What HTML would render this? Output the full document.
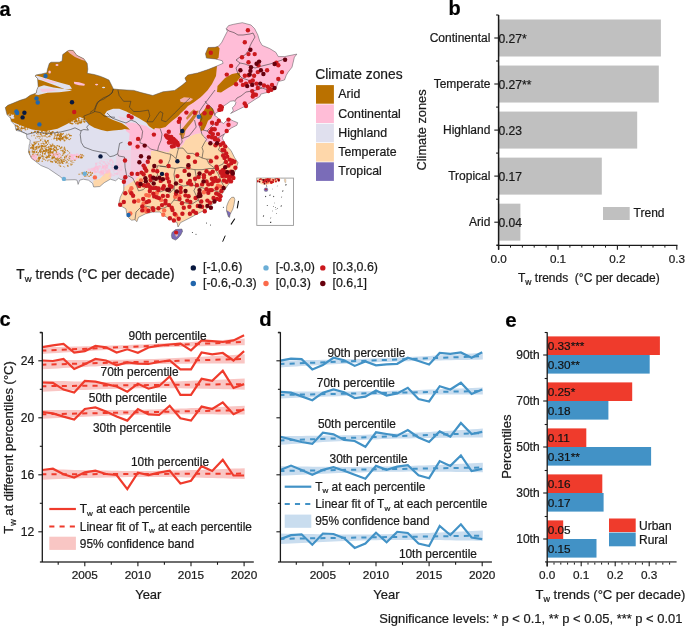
<!DOCTYPE html>
<html><head><meta charset="utf-8"><style>
html,body{margin:0;padding:0;background:#fff;}
svg{display:block;will-change:transform;}
text{font-family:"Liberation Sans", sans-serif;stroke:#1a1a1a;stroke-width:0.22px;}
</style></head><body>
<svg width="685" height="626" viewBox="0 0 685 626">
<text x="-0.5" y="15.5" font-size="20" text-anchor="start" font-weight="bold" fill="#000" >a</text>
<text x="448.5" y="14.6" font-size="20" text-anchor="start" font-weight="bold" fill="#000" >b</text>
<text x="-0.6" y="325.7" font-size="20" text-anchor="start" font-weight="bold" fill="#000" >c</text>
<text x="259.2" y="326" font-size="20.3" text-anchor="start" font-weight="bold" fill="#000" >d</text>
<text x="505.3" y="326.5" font-size="20.5" text-anchor="start" font-weight="bold" fill="#000" >e</text>
<rect x="498.6" y="19.50" width="162.3" height="37" fill="#C0C0C0"/>
<line x1="494.3" y1="38.0" x2="498.6" y2="38.0" stroke="#1a1a1a" stroke-width="1.1"/>
<text x="490.4" y="42.3" font-size="12" text-anchor="end" font-weight="normal" fill="#1a1a1a" >Continental</text>
<text x="498.40000000000003" y="42.6" font-size="12.1" text-anchor="start" font-weight="normal" fill="#1a1a1a" >0.27*</text>
<rect x="498.6" y="65.54" width="160.2" height="37" fill="#C0C0C0"/>
<line x1="494.3" y1="84.0" x2="498.6" y2="84.0" stroke="#1a1a1a" stroke-width="1.1"/>
<text x="490.4" y="88.33999999999999" font-size="12" text-anchor="end" font-weight="normal" fill="#1a1a1a" >Temperate</text>
<text x="498.40000000000003" y="88.63999999999999" font-size="12.1" text-anchor="start" font-weight="normal" fill="#1a1a1a" >0.27**</text>
<rect x="498.6" y="111.58" width="138.6" height="37" fill="#C0C0C0"/>
<line x1="494.3" y1="130.1" x2="498.6" y2="130.1" stroke="#1a1a1a" stroke-width="1.1"/>
<text x="490.4" y="134.38" font-size="12" text-anchor="end" font-weight="normal" fill="#1a1a1a" >Highland</text>
<text x="498.40000000000003" y="134.67999999999998" font-size="12.1" text-anchor="start" font-weight="normal" fill="#1a1a1a" >0.23</text>
<rect x="498.6" y="157.62" width="103.2" height="37" fill="#C0C0C0"/>
<line x1="494.3" y1="176.1" x2="498.6" y2="176.1" stroke="#1a1a1a" stroke-width="1.1"/>
<text x="490.4" y="180.42000000000002" font-size="12" text-anchor="end" font-weight="normal" fill="#1a1a1a" >Tropical</text>
<text x="498.40000000000003" y="180.72" font-size="12.1" text-anchor="start" font-weight="normal" fill="#1a1a1a" >0.17</text>
<rect x="498.6" y="203.66" width="21.8" height="37" fill="#C0C0C0"/>
<line x1="494.3" y1="222.2" x2="498.6" y2="222.2" stroke="#1a1a1a" stroke-width="1.1"/>
<text x="490.4" y="226.46" font-size="12" text-anchor="end" font-weight="normal" fill="#1a1a1a" >Arid</text>
<text x="498.40000000000003" y="226.76" font-size="12.1" text-anchor="start" font-weight="normal" fill="#1a1a1a" >0.04</text>
<line x1="496.1" y1="15.0" x2="498.6" y2="15.0" stroke="#1a1a1a" stroke-width="1.1"/>
<line x1="496.1" y1="61.0" x2="498.6" y2="61.0" stroke="#1a1a1a" stroke-width="1.1"/>
<line x1="496.1" y1="107.1" x2="498.6" y2="107.1" stroke="#1a1a1a" stroke-width="1.1"/>
<line x1="496.1" y1="153.1" x2="498.6" y2="153.1" stroke="#1a1a1a" stroke-width="1.1"/>
<line x1="496.1" y1="199.2" x2="498.6" y2="199.2" stroke="#1a1a1a" stroke-width="1.1"/>
<line x1="496.1" y1="245.2" x2="498.6" y2="245.2" stroke="#1a1a1a" stroke-width="1.1"/>
<line x1="498.6" y1="15" x2="498.6" y2="249.7" stroke="#1a1a1a" stroke-width="1.5"/>
<line x1="496.8" y1="245.4" x2="677.5" y2="245.4" stroke="#1a1a1a" stroke-width="1.3"/>
<line x1="498.6" y1="245.4" x2="498.6" y2="249.7" stroke="#1a1a1a" stroke-width="1.1"/>
<text x="498.6" y="263" font-size="11.7" text-anchor="middle" font-weight="normal" fill="#1a1a1a" >0.0</text>
<line x1="558.0" y1="245.4" x2="558.0" y2="249.7" stroke="#1a1a1a" stroke-width="1.1"/>
<text x="558.0" y="263" font-size="11.7" text-anchor="middle" font-weight="normal" fill="#1a1a1a" >0.1</text>
<line x1="617.4" y1="245.4" x2="617.4" y2="249.7" stroke="#1a1a1a" stroke-width="1.1"/>
<text x="617.4" y="263" font-size="11.7" text-anchor="middle" font-weight="normal" fill="#1a1a1a" >0.2</text>
<line x1="676.8" y1="245.4" x2="676.8" y2="249.7" stroke="#1a1a1a" stroke-width="1.1"/>
<text x="676.8" y="263" font-size="11.7" text-anchor="middle" font-weight="normal" fill="#1a1a1a" >0.3</text>
<line x1="510.5" y1="245.3" x2="510.5" y2="247.6" stroke="#1a1a1a" stroke-width="1"/>
<line x1="522.4" y1="245.3" x2="522.4" y2="247.6" stroke="#1a1a1a" stroke-width="1"/>
<line x1="534.2" y1="245.3" x2="534.2" y2="247.6" stroke="#1a1a1a" stroke-width="1"/>
<line x1="546.1" y1="245.3" x2="546.1" y2="247.6" stroke="#1a1a1a" stroke-width="1"/>
<line x1="569.9" y1="245.3" x2="569.9" y2="247.6" stroke="#1a1a1a" stroke-width="1"/>
<line x1="581.8" y1="245.3" x2="581.8" y2="247.6" stroke="#1a1a1a" stroke-width="1"/>
<line x1="593.6" y1="245.3" x2="593.6" y2="247.6" stroke="#1a1a1a" stroke-width="1"/>
<line x1="605.5" y1="245.3" x2="605.5" y2="247.6" stroke="#1a1a1a" stroke-width="1"/>
<line x1="629.3" y1="245.3" x2="629.3" y2="247.6" stroke="#1a1a1a" stroke-width="1"/>
<line x1="641.2" y1="245.3" x2="641.2" y2="247.6" stroke="#1a1a1a" stroke-width="1"/>
<line x1="653.0" y1="245.3" x2="653.0" y2="247.6" stroke="#1a1a1a" stroke-width="1"/>
<line x1="664.9" y1="245.3" x2="664.9" y2="247.6" stroke="#1a1a1a" stroke-width="1"/>
<rect x="603" y="207" width="26.7" height="13" fill="#C0C0C0"/>
<text x="633.6" y="217.2" font-size="12" text-anchor="start" font-weight="normal" fill="#1a1a1a" >Trend</text>
<text transform="translate(426,130) rotate(-90)" font-size="12.8" text-anchor="middle" fill="#1a1a1a">Climate zones</text>
<text x="518" y="282" font-size="12" fill="#1a1a1a">T<tspan font-size="8.5" dy="2.5">w</tspan><tspan dy="-2.5"> trends&#160; (°C per decade)</tspan></text>
<polygon points="42.3,347.3 47.6,347.2 53.0,347.1 58.3,346.9 63.6,346.8 68.9,346.7 74.3,346.6 79.6,346.4 84.9,346.3 90.2,346.2 95.6,346.0 100.9,345.9 106.2,345.7 111.5,345.5 116.9,345.4 122.2,345.2 127.5,345.0 132.8,344.8 138.2,344.6 143.5,344.4 148.8,344.1 154.1,343.9 159.5,343.6 164.8,343.3 170.1,343.1 175.4,342.8 180.8,342.5 186.1,342.2 191.4,341.9 196.7,341.6 202.1,341.3 207.4,340.9 212.7,340.6 218.1,340.3 223.4,340.0 228.7,339.6 234.0,339.3 239.4,338.9 244.7,338.6 244.7,345.2 239.4,345.3 234.0,345.4 228.7,345.6 223.4,345.7 218.1,345.8 212.7,345.9 207.4,346.1 202.1,346.2 196.7,346.3 191.4,346.5 186.1,346.6 180.8,346.8 175.4,347.0 170.1,347.1 164.8,347.3 159.5,347.5 154.1,347.7 148.8,347.9 143.5,348.1 138.2,348.4 132.8,348.6 127.5,348.9 122.2,349.2 116.9,349.4 111.5,349.7 106.2,350.0 100.9,350.3 95.6,350.6 90.2,350.9 84.9,351.2 79.6,351.6 74.3,351.9 68.9,352.2 63.6,352.5 58.3,352.9 53.0,353.2 47.6,353.6 42.3,353.9" fill="#F9C6C4"/>
<polygon points="42.3,360.1 47.6,360.1 53.0,360.1 58.3,360.1 63.6,360.1 68.9,360.1 74.3,360.1 79.6,360.1 84.9,360.0 90.2,360.0 95.6,360.0 100.9,359.9 106.2,359.9 111.5,359.8 116.9,359.8 122.2,359.7 127.5,359.6 132.8,359.5 138.2,359.3 143.5,359.2 148.8,359.0 154.1,358.9 159.5,358.7 164.8,358.5 170.1,358.2 175.4,358.0 180.8,357.8 186.1,357.5 191.4,357.2 196.7,357.0 202.1,356.7 207.4,356.4 212.7,356.1 218.1,355.8 223.4,355.5 228.7,355.2 234.0,354.9 239.4,354.6 244.7,354.3 244.7,363.5 239.4,363.5 234.0,363.5 228.7,363.5 223.4,363.5 218.1,363.5 212.7,363.5 207.4,363.5 202.1,363.6 196.7,363.6 191.4,363.6 186.1,363.7 180.8,363.7 175.4,363.8 170.1,363.8 164.8,363.9 159.5,364.0 154.1,364.1 148.8,364.3 143.5,364.4 138.2,364.6 132.8,364.7 127.5,364.9 122.2,365.1 116.9,365.4 111.5,365.6 106.2,365.8 100.9,366.1 95.6,366.4 90.2,366.6 84.9,366.9 79.6,367.2 74.3,367.5 68.9,367.8 63.6,368.1 58.3,368.4 53.0,368.7 47.6,369.0 42.3,369.3" fill="#F9C6C4"/>
<polygon points="42.3,380.6 47.6,380.7 53.0,380.9 58.3,381.0 63.6,381.1 68.9,381.3 74.3,381.4 79.6,381.5 84.9,381.6 90.2,381.7 95.6,381.8 100.9,381.9 106.2,382.0 111.5,382.0 116.9,382.1 122.2,382.1 127.5,382.1 132.8,382.1 138.2,382.1 143.5,382.0 148.8,382.0 154.1,381.9 159.5,381.8 164.8,381.7 170.1,381.5 175.4,381.4 180.8,381.2 186.1,381.0 191.4,380.8 196.7,380.6 202.1,380.4 207.4,380.2 212.7,380.0 218.1,379.7 223.4,379.5 228.7,379.2 234.0,379.0 239.4,378.8 244.7,378.5 244.7,389.7 239.4,389.6 234.0,389.4 228.7,389.3 223.4,389.2 218.1,389.0 212.7,388.9 207.4,388.8 202.1,388.7 196.7,388.6 191.4,388.5 186.1,388.4 180.8,388.3 175.4,388.3 170.1,388.2 164.8,388.2 159.5,388.2 154.1,388.2 148.8,388.2 143.5,388.2 138.2,388.3 132.8,388.4 127.5,388.5 122.2,388.6 116.9,388.8 111.5,388.9 106.2,389.1 100.9,389.3 95.6,389.5 90.2,389.7 84.9,389.9 79.6,390.1 74.3,390.3 68.9,390.6 63.6,390.8 58.3,391.1 53.0,391.3 47.6,391.5 42.3,391.8" fill="#F9C6C4"/>
<polygon points="42.3,409.9 47.6,409.9 53.0,409.9 58.3,410.0 63.6,410.0 68.9,410.0 74.3,410.1 79.6,410.1 84.9,410.1 90.2,410.1 95.6,410.1 100.9,410.1 106.2,410.1 111.5,410.1 116.9,410.1 122.2,410.0 127.5,410.0 132.8,409.9 138.2,409.8 143.5,409.7 148.8,409.6 154.1,409.4 159.5,409.3 164.8,409.1 170.1,409.0 175.4,408.8 180.8,408.6 186.1,408.4 191.4,408.1 196.7,407.9 202.1,407.7 207.4,407.4 212.7,407.2 218.1,406.9 223.4,406.7 228.7,406.4 234.0,406.2 239.4,405.9 244.7,405.7 244.7,414.5 239.4,414.5 234.0,414.5 228.7,414.4 223.4,414.4 218.1,414.4 212.7,414.3 207.4,414.3 202.1,414.3 196.7,414.3 191.4,414.3 186.1,414.3 180.8,414.3 175.4,414.3 170.1,414.3 164.8,414.4 159.5,414.4 154.1,414.5 148.8,414.6 143.5,414.7 138.2,414.8 132.8,415.0 127.5,415.1 122.2,415.3 116.9,415.4 111.5,415.6 106.2,415.8 100.9,416.0 95.6,416.3 90.2,416.5 84.9,416.7 79.6,417.0 74.3,417.2 68.9,417.5 63.6,417.7 58.3,418.0 53.0,418.2 47.6,418.5 42.3,418.7" fill="#F9C6C4"/>
<polygon points="42.3,468.9 47.6,469.1 53.0,469.2 58.3,469.4 63.6,469.6 68.9,469.7 74.3,469.9 79.6,470.0 84.9,470.2 90.2,470.3 95.6,470.4 100.9,470.5 106.2,470.6 111.5,470.7 116.9,470.8 122.2,470.9 127.5,470.9 132.8,470.9 138.2,471.0 143.5,471.0 148.8,470.9 154.1,470.9 159.5,470.8 164.8,470.7 170.1,470.6 175.4,470.5 180.8,470.4 186.1,470.2 191.4,470.1 196.7,469.9 202.1,469.8 207.4,469.6 212.7,469.4 218.1,469.2 223.4,469.0 228.7,468.8 234.0,468.6 239.4,468.4 244.7,468.2 244.7,479.0 239.4,478.8 234.0,478.7 228.7,478.5 223.4,478.3 218.1,478.2 212.7,478.0 207.4,477.9 202.1,477.7 196.7,477.6 191.4,477.5 186.1,477.4 180.8,477.3 175.4,477.2 170.1,477.1 164.8,477.0 159.5,477.0 154.1,477.0 148.8,476.9 143.5,477.0 138.2,477.0 132.8,477.0 127.5,477.1 122.2,477.2 116.9,477.3 111.5,477.4 106.2,477.5 100.9,477.7 95.6,477.8 90.2,478.0 84.9,478.1 79.6,478.3 74.3,478.5 68.9,478.7 63.6,478.9 58.3,479.1 53.0,479.3 47.6,479.5 42.3,479.7" fill="#F9C6C4"/>
<line x1="42.3" y1="350.6" x2="244.7" y2="341.9" stroke="#EF3B2C" stroke-width="2" stroke-dasharray="5.1,5.15" stroke-dashoffset="1.05"/>
<line x1="42.3" y1="364.7" x2="244.7" y2="358.9" stroke="#EF3B2C" stroke-width="2" stroke-dasharray="5.1,5.15" stroke-dashoffset="1.05"/>
<line x1="42.3" y1="386.2" x2="244.7" y2="384.1" stroke="#EF3B2C" stroke-width="2" stroke-dasharray="5.1,5.15" stroke-dashoffset="1.05"/>
<line x1="42.3" y1="414.3" x2="244.7" y2="410.1" stroke="#EF3B2C" stroke-width="2" stroke-dasharray="5.1,5.15" stroke-dashoffset="1.05"/>
<line x1="42.3" y1="474.3" x2="244.7" y2="473.6" stroke="#EF3B2C" stroke-width="2" stroke-dasharray="5.1,5.15" stroke-dashoffset="1.05"/>
<polyline points="42.3,347.2 52.9,345.3 63.5,344.0 74.2,352.5 84.8,351.2 95.4,346.0 106.0,347.2 116.6,352.5 127.3,349.3 137.9,352.8 148.5,347.5 159.1,345.6 169.7,344.5 180.4,343.6 191.0,350.4 201.6,340.4 212.2,341.2 222.8,342.0 233.5,340.4 244.1,335.3" fill="none" stroke="#EF3B2C" stroke-width="2.2" stroke-linejoin="miter"/>
<polyline points="42.3,360.5 52.9,361.0 63.5,358.9 74.2,369.0 84.8,364.2 95.4,358.9 106.0,360.5 116.6,365.3 127.3,362.4 137.9,363.7 148.5,364.0 159.1,362.0 169.7,360.5 180.4,369.3 191.0,369.3 201.6,352.5 212.2,354.4 222.8,353.0 233.5,360.5 244.1,351.2" fill="none" stroke="#EF3B2C" stroke-width="2.2" stroke-linejoin="miter"/>
<polyline points="42.3,382.5 52.9,382.8 63.5,389.6 74.2,392.5 84.8,380.9 95.4,381.6 106.0,384.1 116.6,386.5 127.3,391.7 137.9,383.7 148.5,388.7 159.1,386.0 169.7,376.4 180.4,394.9 191.0,394.9 201.6,378.8 212.2,380.9 222.8,370.8 233.5,388.0 244.1,384.1" fill="none" stroke="#EF3B2C" stroke-width="2.2" stroke-linejoin="miter"/>
<polyline points="42.3,412.0 52.9,413.4 63.5,416.6 74.2,419.5 84.8,409.0 95.4,407.4 106.0,411.4 116.6,416.6 127.3,420.6 137.9,409.0 148.5,414.4 159.1,415.0 169.7,405.7 180.4,418.2 191.0,420.6 201.6,406.6 212.2,409.0 222.8,402.4 233.5,414.2 244.1,409.3" fill="none" stroke="#EF3B2C" stroke-width="2.2" stroke-linejoin="miter"/>
<polyline points="42.3,470.0 52.9,468.7 63.5,474.3 74.2,477.5 84.8,472.3 95.4,470.7 106.0,474.0 116.6,475.0 127.3,489.2 137.9,472.7 148.5,475.1 159.1,472.6 169.7,470.7 180.4,483.5 191.0,480.7 201.6,466.2 212.2,471.0 222.8,459.8 233.5,475.5 244.1,475.5" fill="none" stroke="#EF3B2C" stroke-width="2.2" stroke-linejoin="miter"/>
<line x1="39.9" y1="562" x2="253.8" y2="562" stroke="#6e6e6e" stroke-width="1.8"/>
<line x1="42.3" y1="332.2" x2="42.3" y2="562" stroke="#1a1a1a" stroke-width="1.3"/>
<line x1="38.3" y1="531.8" x2="42.3" y2="531.8" stroke="#1a1a1a" stroke-width="1.1"/>
<text x="34.4" y="535.8" font-size="12.2" text-anchor="end" font-weight="normal" fill="#1a1a1a" >12</text>
<line x1="39.8" y1="503.3" x2="42.3" y2="503.3" stroke="#1a1a1a" stroke-width="1.1"/>
<line x1="38.3" y1="474.8" x2="42.3" y2="474.8" stroke="#1a1a1a" stroke-width="1.1"/>
<text x="34.4" y="478.8" font-size="12.2" text-anchor="end" font-weight="normal" fill="#1a1a1a" >16</text>
<line x1="39.8" y1="446.3" x2="42.3" y2="446.3" stroke="#1a1a1a" stroke-width="1.1"/>
<line x1="38.3" y1="417.8" x2="42.3" y2="417.8" stroke="#1a1a1a" stroke-width="1.1"/>
<text x="34.4" y="421.8" font-size="12.2" text-anchor="end" font-weight="normal" fill="#1a1a1a" >20</text>
<line x1="39.8" y1="389.3" x2="42.3" y2="389.3" stroke="#1a1a1a" stroke-width="1.1"/>
<line x1="38.3" y1="360.8" x2="42.3" y2="360.8" stroke="#1a1a1a" stroke-width="1.1"/>
<text x="34.4" y="364.8" font-size="12.2" text-anchor="end" font-weight="normal" fill="#1a1a1a" >24</text>
<line x1="39.8" y1="332.3" x2="42.3" y2="332.3" stroke="#1a1a1a" stroke-width="1.1"/>
<line x1="39.8" y1="332.8" x2="42.3" y2="332.8" stroke="#1a1a1a" stroke-width="1.1"/>
<line x1="58.2" y1="562" x2="58.2" y2="564.8" stroke="#1a1a1a" stroke-width="1.1"/>
<line x1="84.8" y1="562" x2="84.8" y2="566.3" stroke="#1a1a1a" stroke-width="1.1"/>
<text x="84.78" y="579" font-size="11.8" text-anchor="middle" font-weight="normal" fill="#1a1a1a" >2005</text>
<line x1="111.3" y1="562" x2="111.3" y2="564.8" stroke="#1a1a1a" stroke-width="1.1"/>
<line x1="137.9" y1="562" x2="137.9" y2="566.3" stroke="#1a1a1a" stroke-width="1.1"/>
<text x="137.88" y="579" font-size="11.8" text-anchor="middle" font-weight="normal" fill="#1a1a1a" >2010</text>
<line x1="164.4" y1="562" x2="164.4" y2="564.8" stroke="#1a1a1a" stroke-width="1.1"/>
<line x1="191.0" y1="562" x2="191.0" y2="566.3" stroke="#1a1a1a" stroke-width="1.1"/>
<text x="190.97999999999996" y="579" font-size="11.8" text-anchor="middle" font-weight="normal" fill="#1a1a1a" >2015</text>
<line x1="217.5" y1="562" x2="217.5" y2="564.8" stroke="#1a1a1a" stroke-width="1.1"/>
<line x1="244.1" y1="562" x2="244.1" y2="566.3" stroke="#1a1a1a" stroke-width="1.1"/>
<text x="244.07999999999998" y="579" font-size="11.8" text-anchor="middle" font-weight="normal" fill="#1a1a1a" >2020</text>
<text x="148.3" y="599.2" font-size="13" text-anchor="middle" font-weight="normal" fill="#1a1a1a" >Year</text>
<polygon points="280.4,360.6 285.7,360.5 291.1,360.4 296.4,360.3 301.7,360.2 307.0,360.1 312.4,360.0 317.7,359.9 323.0,359.8 328.3,359.7 333.7,359.6 339.0,359.5 344.3,359.3 349.6,359.2 355.0,359.0 360.3,358.9 365.6,358.7 370.9,358.5 376.3,358.3 381.6,358.2 386.9,357.9 392.2,357.7 397.6,357.5 402.9,357.2 408.2,357.0 413.5,356.7 418.9,356.4 424.2,356.2 429.5,355.9 434.8,355.6 440.2,355.3 445.5,355.0 450.8,354.7 456.2,354.4 461.5,354.1 466.8,353.8 472.1,353.4 477.5,353.1 482.8,352.8 482.8,359.6 477.5,359.7 472.1,359.8 466.8,359.9 461.5,360.0 456.2,360.1 450.8,360.2 445.5,360.3 440.2,360.4 434.8,360.5 429.5,360.6 424.2,360.7 418.9,360.9 413.5,361.0 408.2,361.2 402.9,361.3 397.6,361.5 392.2,361.7 386.9,361.9 381.6,362.1 376.3,362.3 370.9,362.5 365.6,362.7 360.3,363.0 355.0,363.2 349.6,363.5 344.3,363.8 339.0,364.0 333.7,364.3 328.3,364.6 323.0,364.9 317.7,365.2 312.4,365.5 307.0,365.8 301.7,366.1 296.4,366.4 291.1,366.8 285.7,367.1 280.4,367.4" fill="#C9DDEF"/>
<polygon points="280.4,391.5 285.7,391.5 291.1,391.5 296.4,391.5 301.7,391.6 307.0,391.6 312.4,391.6 317.7,391.6 323.0,391.5 328.3,391.5 333.7,391.5 339.0,391.5 344.3,391.5 349.6,391.4 355.0,391.4 360.3,391.3 365.6,391.3 370.9,391.2 376.3,391.1 381.6,391.0 386.9,390.9 392.2,390.8 397.6,390.6 402.9,390.5 408.2,390.3 413.5,390.2 418.9,390.0 424.2,389.8 429.5,389.6 434.8,389.4 440.2,389.2 445.5,389.0 450.8,388.8 456.2,388.6 461.5,388.4 466.8,388.2 472.1,388.0 477.5,387.7 482.8,387.5 482.8,394.5 477.5,394.5 472.1,394.5 466.8,394.5 461.5,394.4 456.2,394.4 450.8,394.4 445.5,394.4 440.2,394.5 434.8,394.5 429.5,394.5 424.2,394.5 418.9,394.5 413.5,394.6 408.2,394.6 402.9,394.7 397.6,394.7 392.2,394.8 386.9,394.9 381.6,395.0 376.3,395.1 370.9,395.2 365.6,395.4 360.3,395.5 355.0,395.7 349.6,395.8 344.3,396.0 339.0,396.2 333.7,396.4 328.3,396.6 323.0,396.8 317.7,397.0 312.4,397.2 307.0,397.4 301.7,397.6 296.4,397.8 291.1,398.0 285.7,398.3 280.4,398.5" fill="#C9DDEF"/>
<polygon points="280.4,436.0 285.7,436.0 291.1,436.0 296.4,435.9 301.7,435.9 307.0,435.8 312.4,435.7 317.7,435.7 323.0,435.6 328.3,435.5 333.7,435.5 339.0,435.4 344.3,435.3 349.6,435.2 355.0,435.0 360.3,434.9 365.6,434.8 370.9,434.6 376.3,434.4 381.6,434.2 386.9,434.0 392.2,433.8 397.6,433.6 402.9,433.4 408.2,433.1 413.5,432.8 418.9,432.5 424.2,432.2 429.5,431.9 434.8,431.6 440.2,431.3 445.5,431.0 450.8,430.7 456.2,430.3 461.5,430.0 466.8,429.7 472.1,429.3 477.5,429.0 482.8,428.6 482.8,437.4 477.5,437.4 472.1,437.4 466.8,437.5 461.5,437.5 456.2,437.6 450.8,437.7 445.5,437.7 440.2,437.8 434.8,437.9 429.5,437.9 424.2,438.0 418.9,438.1 413.5,438.2 408.2,438.4 402.9,438.5 397.6,438.6 392.2,438.8 386.9,439.0 381.6,439.1 376.3,439.4 370.9,439.6 365.6,439.8 360.3,440.0 355.0,440.3 349.6,440.6 344.3,440.9 339.0,441.2 333.7,441.5 328.3,441.8 323.0,442.1 317.7,442.4 312.4,442.7 307.0,443.1 301.7,443.4 296.4,443.7 291.1,444.1 285.7,444.4 280.4,444.8" fill="#C9DDEF"/>
<polygon points="280.4,466.3 285.7,466.3 291.1,466.4 296.4,466.5 301.7,466.5 307.0,466.6 312.4,466.7 317.7,466.7 323.0,466.8 328.3,466.8 333.7,466.8 339.0,466.8 344.3,466.9 349.6,466.9 355.0,466.9 360.3,466.8 365.6,466.8 370.9,466.8 376.3,466.7 381.6,466.6 386.9,466.5 392.2,466.4 397.6,466.2 402.9,466.1 408.2,465.9 413.5,465.8 418.9,465.6 424.2,465.4 429.5,465.2 434.8,465.0 440.2,464.7 445.5,464.5 450.8,464.3 456.2,464.0 461.5,463.8 466.8,463.5 472.1,463.3 477.5,463.0 482.8,462.8 482.8,472.2 477.5,472.2 472.1,472.1 466.8,472.0 461.5,472.0 456.2,471.9 450.8,471.8 445.5,471.8 440.2,471.7 434.8,471.7 429.5,471.7 424.2,471.7 418.9,471.6 413.5,471.6 408.2,471.6 402.9,471.7 397.6,471.7 392.2,471.7 386.9,471.8 381.6,471.9 376.3,472.0 370.9,472.1 365.6,472.3 360.3,472.4 355.0,472.6 349.6,472.7 344.3,472.9 339.0,473.1 333.7,473.3 328.3,473.5 323.0,473.8 317.7,474.0 312.4,474.2 307.0,474.5 301.7,474.7 296.4,475.0 291.1,475.2 285.7,475.5 280.4,475.7" fill="#C9DDEF"/>
<polygon points="280.4,533.6 285.7,533.7 291.1,533.8 296.4,533.9 301.7,534.0 307.0,534.0 312.4,534.1 317.7,534.2 323.0,534.3 328.3,534.3 333.7,534.4 339.0,534.4 344.3,534.5 349.6,534.5 355.0,534.5 360.3,534.5 365.6,534.5 370.9,534.4 376.3,534.4 381.6,534.3 386.9,534.2 392.2,534.1 397.6,534.0 402.9,533.8 408.2,533.7 413.5,533.5 418.9,533.3 424.2,533.1 429.5,532.9 434.8,532.6 440.2,532.4 445.5,532.2 450.8,531.9 456.2,531.7 461.5,531.4 466.8,531.2 472.1,530.9 477.5,530.7 482.8,530.4 482.8,540.8 477.5,540.7 472.1,540.6 466.8,540.5 461.5,540.4 456.2,540.4 450.8,540.3 445.5,540.2 440.2,540.1 434.8,540.1 429.5,540.0 424.2,540.0 418.9,539.9 413.5,539.9 408.2,539.9 402.9,539.9 397.6,539.9 392.2,540.0 386.9,540.0 381.6,540.1 376.3,540.2 370.9,540.3 365.6,540.4 360.3,540.6 355.0,540.7 349.6,540.9 344.3,541.1 339.0,541.3 333.7,541.5 328.3,541.8 323.0,542.0 317.7,542.2 312.4,542.5 307.0,542.7 301.7,543.0 296.4,543.2 291.1,543.5 285.7,543.7 280.4,544.0" fill="#C9DDEF"/>
<line x1="280.4" y1="364" x2="482.8" y2="356.2" stroke="#4292C6" stroke-width="2" stroke-dasharray="5.1,5.15" stroke-dashoffset="1.05"/>
<line x1="280.4" y1="395" x2="482.8" y2="391" stroke="#4292C6" stroke-width="2" stroke-dasharray="5.1,5.15" stroke-dashoffset="1.05"/>
<line x1="280.4" y1="440.4" x2="482.8" y2="433" stroke="#4292C6" stroke-width="2" stroke-dasharray="5.1,5.15" stroke-dashoffset="1.05"/>
<line x1="280.4" y1="471" x2="482.8" y2="467.5" stroke="#4292C6" stroke-width="2" stroke-dasharray="5.1,5.15" stroke-dashoffset="1.05"/>
<line x1="280.4" y1="538.8" x2="482.8" y2="535.6" stroke="#4292C6" stroke-width="2" stroke-dasharray="5.1,5.15" stroke-dashoffset="1.05"/>
<polyline points="280.4,360.6 291.0,358.7 301.6,359.1 312.3,369.4 322.9,365.0 333.5,357.8 344.1,360.3 354.7,365.9 365.4,361.5 376.0,365.4 386.6,364.3 397.2,363.8 407.8,357.8 418.5,361.0 429.1,364.6 439.7,353.0 450.3,353.8 460.9,352.5 471.6,357.8 482.2,352.2" fill="none" stroke="#4292C6" stroke-width="2.2" stroke-linejoin="miter"/>
<polyline points="280.4,391.9 291.0,392.7 301.6,396.4 312.3,400.2 322.9,392.7 333.5,389.5 344.1,392.3 354.7,398.0 365.4,396.7 376.0,390.6 386.6,395.6 397.2,393.5 407.8,387.8 418.5,399.1 429.1,401.5 439.7,386.2 450.3,389.5 460.9,382.7 471.6,394.0 482.2,389.5" fill="none" stroke="#4292C6" stroke-width="2.2" stroke-linejoin="miter"/>
<polyline points="280.4,436.7 291.0,439.4 301.6,442.0 312.3,443.9 322.9,432.7 333.5,434.3 344.1,439.9 354.7,441.0 365.4,446.8 376.0,432.3 386.6,434.0 397.2,435.6 407.8,430.0 418.5,437.5 429.1,442.0 439.7,431.4 450.3,436.7 460.9,423.0 471.6,434.0 482.2,431.9" fill="none" stroke="#4292C6" stroke-width="2.2" stroke-linejoin="miter"/>
<polyline points="280.4,469.9 291.0,465.6 301.6,469.9 312.3,474.7 322.9,469.9 333.5,467.2 344.1,470.7 354.7,474.7 365.4,478.7 376.0,465.9 386.6,469.9 397.2,466.7 407.8,465.1 418.5,475.2 429.1,478.2 439.7,461.1 450.3,465.9 460.9,455.4 471.6,471.0 482.2,468.8" fill="none" stroke="#4292C6" stroke-width="2.2" stroke-linejoin="miter"/>
<polyline points="280.4,539.1 291.0,535.1 301.6,534.3 312.3,544.7 322.9,533.5 333.5,534.0 344.1,538.3 354.7,547.9 365.4,543.6 376.0,532.7 386.6,542.3 397.2,531.9 407.8,533.0 418.5,543.6 429.1,546.0 439.7,525.9 450.3,535.1 460.9,524.3 471.6,537.5 482.2,539.1" fill="none" stroke="#4292C6" stroke-width="2.2" stroke-linejoin="miter"/>
<line x1="278.0" y1="562" x2="491.9" y2="562" stroke="#6e6e6e" stroke-width="1.8"/>
<line x1="280.4" y1="332.2" x2="280.4" y2="562" stroke="#1a1a1a" stroke-width="1.3"/>
<line x1="276.4" y1="531.8" x2="280.4" y2="531.8" stroke="#1a1a1a" stroke-width="1.1"/>
<line x1="277.9" y1="503.3" x2="280.4" y2="503.3" stroke="#1a1a1a" stroke-width="1.1"/>
<line x1="276.4" y1="474.8" x2="280.4" y2="474.8" stroke="#1a1a1a" stroke-width="1.1"/>
<line x1="277.9" y1="446.3" x2="280.4" y2="446.3" stroke="#1a1a1a" stroke-width="1.1"/>
<line x1="276.4" y1="417.8" x2="280.4" y2="417.8" stroke="#1a1a1a" stroke-width="1.1"/>
<line x1="277.9" y1="389.3" x2="280.4" y2="389.3" stroke="#1a1a1a" stroke-width="1.1"/>
<line x1="276.4" y1="360.8" x2="280.4" y2="360.8" stroke="#1a1a1a" stroke-width="1.1"/>
<line x1="277.9" y1="332.3" x2="280.4" y2="332.3" stroke="#1a1a1a" stroke-width="1.1"/>
<line x1="277.9" y1="332.8" x2="280.4" y2="332.8" stroke="#1a1a1a" stroke-width="1.1"/>
<line x1="296.3" y1="562" x2="296.3" y2="564.8" stroke="#1a1a1a" stroke-width="1.1"/>
<line x1="322.9" y1="562" x2="322.9" y2="566.3" stroke="#1a1a1a" stroke-width="1.1"/>
<text x="322.88" y="579" font-size="11.8" text-anchor="middle" font-weight="normal" fill="#1a1a1a" >2005</text>
<line x1="349.4" y1="562" x2="349.4" y2="564.8" stroke="#1a1a1a" stroke-width="1.1"/>
<line x1="376.0" y1="562" x2="376.0" y2="566.3" stroke="#1a1a1a" stroke-width="1.1"/>
<text x="375.97999999999996" y="579" font-size="11.8" text-anchor="middle" font-weight="normal" fill="#1a1a1a" >2010</text>
<line x1="402.5" y1="562" x2="402.5" y2="564.8" stroke="#1a1a1a" stroke-width="1.1"/>
<line x1="429.1" y1="562" x2="429.1" y2="566.3" stroke="#1a1a1a" stroke-width="1.1"/>
<text x="429.0799999999999" y="579" font-size="11.8" text-anchor="middle" font-weight="normal" fill="#1a1a1a" >2015</text>
<line x1="455.6" y1="562" x2="455.6" y2="564.8" stroke="#1a1a1a" stroke-width="1.1"/>
<line x1="482.2" y1="562" x2="482.2" y2="566.3" stroke="#1a1a1a" stroke-width="1.1"/>
<text x="482.17999999999995" y="579" font-size="11.8" text-anchor="middle" font-weight="normal" fill="#1a1a1a" >2020</text>
<text x="386.4" y="599.2" font-size="13" text-anchor="middle" font-weight="normal" fill="#1a1a1a" >Year</text>
<text x="128.6" y="340.3" font-size="11.9" text-anchor="start" font-weight="normal" fill="#1a1a1a" >90th percentile</text>
<text x="100.6" y="375.9" font-size="11.9" text-anchor="start" font-weight="normal" fill="#1a1a1a" >70th percentile</text>
<text x="88.8" y="401.9" font-size="11.9" text-anchor="start" font-weight="normal" fill="#1a1a1a" >50th percentile</text>
<text x="93" y="432.2" font-size="11.9" text-anchor="start" font-weight="normal" fill="#1a1a1a" >30th percentile</text>
<text x="131" y="465.5" font-size="11.9" text-anchor="start" font-weight="normal" fill="#1a1a1a" >10th percentile</text>
<text x="327.4" y="356.8" font-size="11.9" text-anchor="start" font-weight="normal" fill="#1a1a1a" >90th percentile</text>
<text x="316.8" y="387.1" font-size="11.9" text-anchor="start" font-weight="normal" fill="#1a1a1a" >70th percentile</text>
<text x="317.9" y="428" font-size="11.9" text-anchor="start" font-weight="normal" fill="#1a1a1a" >50th percentile</text>
<text x="329.6" y="462.9" font-size="11.9" text-anchor="start" font-weight="normal" fill="#1a1a1a" >30th percentile</text>
<text x="398.9" y="558.1" font-size="11.9" text-anchor="start" font-weight="normal" fill="#1a1a1a" >10th percentile</text>
<line x1="49.3" y1="509" x2="75.9" y2="509" stroke="#EF3B2C" stroke-width="2.2"/>
<line x1="49.3" y1="526.5" x2="75.9" y2="526.5" stroke="#EF3B2C" stroke-width="2" stroke-dasharray="5.1,5.15"/>
<rect x="49.3" y="536.6999999999999" width="26.6" height="13.2" fill="#F9C6C4"/>
<text x="79.8" y="513.2" font-size="11.9" fill="#1a1a1a">T<tspan font-size="8" dy="2.5">w</tspan><tspan dy="-2.5"> at each percentile</tspan></text>
<text x="79.8" y="530.7" font-size="11.9" fill="#1a1a1a">Linear fit of T<tspan font-size="8" dy="2.5">w</tspan><tspan dy="-2.5"> at each percentile</tspan></text>
<text x="79.8" y="547.5" font-size="11.9" text-anchor="start" font-weight="normal" fill="#1a1a1a" >95% confidence band</text>
<line x1="284.7" y1="486.7" x2="311.3" y2="486.7" stroke="#4292C6" stroke-width="2.2"/>
<line x1="284.7" y1="503.9" x2="311.3" y2="503.9" stroke="#4292C6" stroke-width="2" stroke-dasharray="5.1,5.15"/>
<rect x="284.7" y="514.6" width="26.6" height="13.2" fill="#C9DDEF"/>
<text x="315.2" y="490.9" font-size="11.9" fill="#1a1a1a">T<tspan font-size="8" dy="2.5">w</tspan><tspan dy="-2.5"> at each percentile</tspan></text>
<text x="315.2" y="508.09999999999997" font-size="11.9" fill="#1a1a1a">Linear fit of T<tspan font-size="8" dy="2.5">w</tspan><tspan dy="-2.5"> at each percentile</tspan></text>
<text x="315.2" y="525.4000000000001" font-size="11.9" text-anchor="start" font-weight="normal" fill="#1a1a1a" >95% confidence band</text>
<text transform="translate(13,447.5) rotate(-90)" font-size="13" text-anchor="middle" fill="#1a1a1a">T<tspan font-size="9" dy="2.5">w</tspan><tspan dy="-2.5"> at different percentiles (°C)</tspan></text>
<rect x="547.2" y="336.4" width="112.7" height="18.6" fill="#EF3B2C"/>
<rect x="547.2" y="355.0" width="102.5" height="18.6" fill="#4292C6"/>
<text x="547.7" y="350" font-size="11.8" text-anchor="start" font-weight="normal" fill="#111" >0.33***</text>
<text x="547.7" y="368.8" font-size="11.8" text-anchor="start" font-weight="normal" fill="#111" >0.30**</text>
<line x1="543.2" y1="355" x2="547.2" y2="355" stroke="#1a1a1a" stroke-width="1.1"/>
<text x="539.6" y="358.7" font-size="12" text-anchor="end" font-weight="normal" fill="#1a1a1a" >90th</text>
<rect x="547.2" y="382.4" width="85.0" height="18.6" fill="#EF3B2C"/>
<rect x="547.2" y="401.0" width="61.2" height="18.6" fill="#4292C6"/>
<text x="547.7" y="396" font-size="11.8" text-anchor="start" font-weight="normal" fill="#111" >0.25*</text>
<text x="547.7" y="414.8" font-size="11.8" text-anchor="start" font-weight="normal" fill="#111" >0.18</text>
<line x1="543.2" y1="401" x2="547.2" y2="401" stroke="#1a1a1a" stroke-width="1.1"/>
<text x="539.6" y="404.7" font-size="12" text-anchor="end" font-weight="normal" fill="#1a1a1a" >70th</text>
<rect x="547.2" y="428.4" width="39.1" height="18.6" fill="#EF3B2C"/>
<rect x="547.2" y="447.0" width="103.9" height="18.6" fill="#4292C6"/>
<text x="547.7" y="442" font-size="11.8" text-anchor="start" font-weight="normal" fill="#111" >0.11</text>
<text x="547.7" y="460.8" font-size="11.8" text-anchor="start" font-weight="normal" fill="#111" >0.31**</text>
<line x1="543.2" y1="447" x2="547.2" y2="447" stroke="#1a1a1a" stroke-width="1.1"/>
<text x="539.6" y="450.7" font-size="12" text-anchor="end" font-weight="normal" fill="#1a1a1a" >50th</text>
<rect x="547.2" y="474.4" width="55.1" height="18.6" fill="#EF3B2C"/>
<rect x="547.2" y="493.0" width="56.4" height="18.6" fill="#4292C6"/>
<text x="547.7" y="488" font-size="11.8" text-anchor="start" font-weight="normal" fill="#111" >0.16</text>
<text x="547.7" y="506.8" font-size="11.8" text-anchor="start" font-weight="normal" fill="#111" >0.17</text>
<line x1="543.2" y1="493" x2="547.2" y2="493" stroke="#1a1a1a" stroke-width="1.1"/>
<text x="539.6" y="496.7" font-size="12" text-anchor="end" font-weight="normal" fill="#1a1a1a" >30th</text>
<rect x="547.2" y="520.4" width="16.0" height="18.6" fill="#EF3B2C"/>
<rect x="547.2" y="539.0" width="49.3" height="18.6" fill="#4292C6"/>
<text x="547.7" y="534" font-size="11.8" text-anchor="start" font-weight="normal" fill="#111" >0.05</text>
<text x="547.7" y="552.8" font-size="11.8" text-anchor="start" font-weight="normal" fill="#111" >0.15</text>
<line x1="543.2" y1="539" x2="547.2" y2="539" stroke="#1a1a1a" stroke-width="1.1"/>
<text x="539.6" y="542.7" font-size="12" text-anchor="end" font-weight="normal" fill="#1a1a1a" >10th</text>
<line x1="544.7" y1="332.5" x2="547.2" y2="332.5" stroke="#1a1a1a" stroke-width="1.1"/>
<line x1="544.7" y1="378.5" x2="547.2" y2="378.5" stroke="#1a1a1a" stroke-width="1.1"/>
<line x1="544.7" y1="424.5" x2="547.2" y2="424.5" stroke="#1a1a1a" stroke-width="1.1"/>
<line x1="544.7" y1="470.5" x2="547.2" y2="470.5" stroke="#1a1a1a" stroke-width="1.1"/>
<line x1="544.7" y1="516.5" x2="547.2" y2="516.5" stroke="#1a1a1a" stroke-width="1.1"/>
<line x1="545" y1="561.8" x2="676.6" y2="561.8" stroke="#6e6e6e" stroke-width="1.8"/>
<line x1="547.2" y1="332.2" x2="547.2" y2="566.4" stroke="#1a1a1a" stroke-width="1.3"/>
<line x1="547.2" y1="561.8" x2="547.2" y2="566.2" stroke="#1a1a1a" stroke-width="1.1"/>
<text x="547.2" y="579" font-size="11.8" text-anchor="middle" font-weight="normal" fill="#1a1a1a" >0.0</text>
<line x1="581.2" y1="561.8" x2="581.2" y2="566.2" stroke="#1a1a1a" stroke-width="1.1"/>
<text x="581.2" y="579" font-size="11.8" text-anchor="middle" font-weight="normal" fill="#1a1a1a" >0.1</text>
<line x1="615.2" y1="561.8" x2="615.2" y2="566.2" stroke="#1a1a1a" stroke-width="1.1"/>
<text x="615.2" y="579" font-size="11.8" text-anchor="middle" font-weight="normal" fill="#1a1a1a" >0.2</text>
<line x1="649.2" y1="561.8" x2="649.2" y2="566.2" stroke="#1a1a1a" stroke-width="1.1"/>
<text x="649.2" y="579" font-size="11.8" text-anchor="middle" font-weight="normal" fill="#1a1a1a" >0.3</text>
<line x1="554.0" y1="562.5" x2="554.0" y2="564.6" stroke="#1a1a1a" stroke-width="1"/>
<line x1="560.8" y1="562.5" x2="560.8" y2="564.6" stroke="#1a1a1a" stroke-width="1"/>
<line x1="567.6" y1="562.5" x2="567.6" y2="564.6" stroke="#1a1a1a" stroke-width="1"/>
<line x1="574.4" y1="562.5" x2="574.4" y2="564.6" stroke="#1a1a1a" stroke-width="1"/>
<line x1="588.0" y1="562.5" x2="588.0" y2="564.6" stroke="#1a1a1a" stroke-width="1"/>
<line x1="594.8" y1="562.5" x2="594.8" y2="564.6" stroke="#1a1a1a" stroke-width="1"/>
<line x1="601.6" y1="562.5" x2="601.6" y2="564.6" stroke="#1a1a1a" stroke-width="1"/>
<line x1="608.4" y1="562.5" x2="608.4" y2="564.6" stroke="#1a1a1a" stroke-width="1"/>
<line x1="622.0" y1="562.5" x2="622.0" y2="564.6" stroke="#1a1a1a" stroke-width="1"/>
<line x1="628.8" y1="562.5" x2="628.8" y2="564.6" stroke="#1a1a1a" stroke-width="1"/>
<line x1="635.6" y1="562.5" x2="635.6" y2="564.6" stroke="#1a1a1a" stroke-width="1"/>
<line x1="642.4" y1="562.5" x2="642.4" y2="564.6" stroke="#1a1a1a" stroke-width="1"/>
<line x1="656.0" y1="562.5" x2="656.0" y2="564.6" stroke="#1a1a1a" stroke-width="1"/>
<line x1="662.8" y1="562.5" x2="662.8" y2="564.6" stroke="#1a1a1a" stroke-width="1"/>
<line x1="669.6" y1="562.5" x2="669.6" y2="564.6" stroke="#1a1a1a" stroke-width="1"/>
<rect x="609" y="518.5" width="26.7" height="13.6" fill="#EF3B2C"/>
<rect x="609" y="532.6" width="26.7" height="13.7" fill="#4292C6"/>
<text x="639" y="529.8" font-size="12" text-anchor="start" font-weight="normal" fill="#1a1a1a" >Urban</text>
<text x="639" y="544" font-size="12" text-anchor="start" font-weight="normal" fill="#1a1a1a" >Rural</text>
<text transform="translate(510.6,446.7) rotate(-90)" font-size="13" text-anchor="middle" fill="#1a1a1a">Percentiles</text>
<text x="535.5" y="599.2" font-size="13" fill="#1a1a1a">T<tspan font-size="9" dy="2.5">w</tspan><tspan dy="-2.5"> trends (°C per decade)</tspan></text>
<text x="379.3" y="623" font-size="12.95" text-anchor="start" font-weight="normal" fill="#1a1a1a" >Significance levels: * p &lt; 0.1, ** p &lt; 0.05, *** p &lt; 0.01</text>
<defs><clipPath id="cn"><polygon points="69.7,50.3 73.2,50.5 76.7,55.2 83.7,58.7 87.2,63.4 87.8,69.2 87.2,73.3 94.2,74.5 100.0,76.2 104.6,78.0 109.0,80.1 113.4,88.9 119.2,89.6 133.8,90.4 141.1,92.6 152.8,95.5 163.0,91.8 174.7,90.4 182.0,85.3 186.4,81.6 184.9,78.0 187.8,75.0 197.6,73.0 208.1,69.5 216.9,66.0 223.1,63.3 222.2,60.7 215.1,58.9 206.4,58.1 205.5,53.7 208.1,47.5 215.0,47.3 218.7,46.1 221.8,42.3 224.9,36.1 227.4,31.2 226.2,28.7 228.6,25.6 233.6,24.3 242.3,22.7 251.0,25.0 254.7,28.7 257.8,34.9 259.7,41.1 262.2,45.4 269.6,48.5 275.8,52.3 278.3,56.6 284.5,56.6 296.9,54.1 294.4,57.2 292.0,67.2 288.2,72.1 286.3,75.2 284.5,80.0 278.4,81.5 275.8,88.8 267.9,92.3 260.8,94.1 260.0,96.4 254.3,99.9 249.0,103.4 243.8,106.9 238.5,109.5 235.0,111.3 230.6,113.5 233.3,110.8 232.4,107.8 235.0,105.1 235.9,102.5 234.2,100.8 230.6,101.2 226.3,104.3 223.6,106.0 221.9,108.6 219.3,111.3 215.8,113.0 214.9,115.6 217.5,117.4 221.0,121.8 223.6,123.5 226.0,121.0 229.5,119.0 233.3,120.9 237.7,122.7 236.8,125.3 231.5,127.9 227.1,131.4 224.5,134.0 222.2,138.1 225.7,145.1 231.0,150.4 234.5,157.5 238.0,162.7 236.2,168.0 233.6,175.0 231.8,180.3 227.5,185.6 223.0,192.6 217.8,199.6 211.6,204.9 204.6,210.2 197.6,213.7 191.1,217.3 180.6,222.6 178.0,227.0 177.1,222.6 173.6,220.8 166.6,217.3 159.6,212.0 152.6,212.0 145.5,213.8 138.5,217.3 136.8,221.7 135.0,219.7 131.6,220.2 129.0,218.1 126.9,214.0 125.9,208.8 122.2,206.7 118.6,204.6 120.2,197.4 123.8,190.1 123.8,181.8 123.8,178.7 121.2,179.7 118.6,178.2 115.5,180.8 110.3,179.2 104.1,182.8 99.9,186.5 93.7,187.0 92.6,183.4 88.5,180.2 83.3,179.2 79.7,180.2 78.1,184.4 77.1,180.2 75.0,179.7 64.2,180.0 59.9,176.4 48.2,168.4 40.9,165.5 31.4,158.2 28.5,152.3 29.2,145.0 29.8,143.5 30.2,140.0 27.1,138.3 26.3,133.9 20.1,131.3 16.2,130.4 14.9,125.1 11.4,121.6 10.5,118.1 7.0,114.6 6.1,111.1 5.3,107.6 7.8,105.3 13.4,103.1 20.1,100.3 25.7,98.6 30.2,95.3 36.3,93.0 36.9,89.7 38.2,86.7 37.6,78.6 35.3,76.2 35.8,75.0 41.7,73.9 46.9,72.7 47.5,69.2 49.3,63.4 51.0,62.2 59.2,62.2 62.1,61.0 62.7,54.6 67.4,51.1"/></clipPath></defs>
<polygon points="69.7,50.3 73.2,50.5 76.7,55.2 83.7,58.7 87.2,63.4 87.8,69.2 87.2,73.3 94.2,74.5 100.0,76.2 104.6,78.0 109.0,80.1 113.4,88.9 119.2,89.6 133.8,90.4 141.1,92.6 152.8,95.5 163.0,91.8 174.7,90.4 182.0,85.3 186.4,81.6 184.9,78.0 187.8,75.0 197.6,73.0 208.1,69.5 216.9,66.0 223.1,63.3 222.2,60.7 215.1,58.9 206.4,58.1 205.5,53.7 208.1,47.5 215.0,47.3 218.7,46.1 221.8,42.3 224.9,36.1 227.4,31.2 226.2,28.7 228.6,25.6 233.6,24.3 242.3,22.7 251.0,25.0 254.7,28.7 257.8,34.9 259.7,41.1 262.2,45.4 269.6,48.5 275.8,52.3 278.3,56.6 284.5,56.6 296.9,54.1 294.4,57.2 292.0,67.2 288.2,72.1 286.3,75.2 284.5,80.0 278.4,81.5 275.8,88.8 267.9,92.3 260.8,94.1 260.0,96.4 254.3,99.9 249.0,103.4 243.8,106.9 238.5,109.5 235.0,111.3 230.6,113.5 233.3,110.8 232.4,107.8 235.0,105.1 235.9,102.5 234.2,100.8 230.6,101.2 226.3,104.3 223.6,106.0 221.9,108.6 219.3,111.3 215.8,113.0 214.9,115.6 217.5,117.4 221.0,121.8 223.6,123.5 226.0,121.0 229.5,119.0 233.3,120.9 237.7,122.7 236.8,125.3 231.5,127.9 227.1,131.4 224.5,134.0 222.2,138.1 225.7,145.1 231.0,150.4 234.5,157.5 238.0,162.7 236.2,168.0 233.6,175.0 231.8,180.3 227.5,185.6 223.0,192.6 217.8,199.6 211.6,204.9 204.6,210.2 197.6,213.7 191.1,217.3 180.6,222.6 178.0,227.0 177.1,222.6 173.6,220.8 166.6,217.3 159.6,212.0 152.6,212.0 145.5,213.8 138.5,217.3 136.8,221.7 135.0,219.7 131.6,220.2 129.0,218.1 126.9,214.0 125.9,208.8 122.2,206.7 118.6,204.6 120.2,197.4 123.8,190.1 123.8,181.8 123.8,178.7 121.2,179.7 118.6,178.2 115.5,180.8 110.3,179.2 104.1,182.8 99.9,186.5 93.7,187.0 92.6,183.4 88.5,180.2 83.3,179.2 79.7,180.2 78.1,184.4 77.1,180.2 75.0,179.7 64.2,180.0 59.9,176.4 48.2,168.4 40.9,165.5 31.4,158.2 28.5,152.3 29.2,145.0 29.8,143.5 30.2,140.0 27.1,138.3 26.3,133.9 20.1,131.3 16.2,130.4 14.9,125.1 11.4,121.6 10.5,118.1 7.0,114.6 6.1,111.1 5.3,107.6 7.8,105.3 13.4,103.1 20.1,100.3 25.7,98.6 30.2,95.3 36.3,93.0 36.9,89.7 38.2,86.7 37.6,78.6 35.3,76.2 35.8,75.0 41.7,73.9 46.9,72.7 47.5,69.2 49.3,63.4 51.0,62.2 59.2,62.2 62.1,61.0 62.7,54.6 67.4,51.1" fill="#E0E0EE"/>
<g clip-path="url(#cn)">
<polygon points="300.0,300.0 100.0,300.0 100.0,187.0 110.0,182.0 116.0,181.0 118.0,183.0 123.8,187.0 127.0,185.0 135.0,179.7 141.4,173.3 147.0,165.4 150.1,158.2 151.0,151.0 158.5,150.3 168.8,152.3 170.0,148.4 180.2,147.4 183.3,144.3 185.3,140.2 190.4,136.1 195.5,134.1 200.7,133.1 203.7,135.1 205.8,141.2 212.9,143.3 221.1,142.3 224.2,140.2 300.0,140.0" fill="#FED7AA"/>
<polygon points="93.2,180.8 99.9,178.7 106.1,172.5 109.3,169.3 111.3,175.6 110.3,179.2 104.1,182.8 99.9,186.5 93.7,187.0" fill="#FED7AA"/>
<polygon points="175.0,40.0 300.0,0.0 300.0,140.2 224.2,140.2 221.1,142.3 212.9,143.3 205.8,141.2 203.7,135.1 200.7,133.1 195.5,134.1 190.4,136.1 185.3,140.2 183.3,144.3 180.2,147.4 170.0,148.4 168.8,152.3 158.5,150.3 151.0,151.0 150.1,158.2 147.0,165.4 141.4,173.3 135.0,179.7 130.0,176.0 131.0,165.0 131.0,150.0 131.0,140.0 131.0,134.4 126.0,131.0 125.0,122.0 140.0,118.0 160.0,110.0 178.0,97.0 186.0,80.0" fill="#FFBDD7"/>
<polygon points="118.0,150.0 131.0,150.0 131.0,165.0 130.0,176.0 135.0,179.7 127.0,185.0 123.8,187.0 121.0,180.0 117.0,170.0 116.0,158.0" fill="#EDD3E4"/>
<polygon points="128.0,150.0 131.0,150.0 131.0,165.0 130.0,176.0 135.0,179.7 141.4,173.3 147.0,165.4 150.1,158.2 151.0,151.0 140.0,150.0" fill="#F6CADF"/>
<polygon points="0.0,40.0 200.0,40.0 200.0,72.0 211.6,66.0 217.0,66.0 216.0,76.0 212.0,84.0 207.6,90.3 203.0,95.0 200.6,97.3 193.6,102.5 188.0,106.0 184.8,109.5 181.0,113.0 177.8,116.5 172.0,121.0 168.6,124.0 165.5,127.0 160.0,128.5 155.0,128.0 153.3,131.0 150.0,131.5 148.2,130.0 144.0,129.2 138.0,131.0 131.0,131.0 130.6,129.8 124.5,128.9 121.9,129.8 113.1,130.6 107.1,131.2 101.3,130.1 94.3,127.8 89.6,124.9 85.5,119.6 80.0,117.0 76.7,118.5 67.1,124.0 57.5,128.8 44.7,131.2 32.0,129.6 20.8,125.6 9.6,120.8 0.0,115.0" fill="#BA7100"/>
<polygon points="205.0,47.5 217.8,46.2 219.5,48.4 218.6,57.2 216.9,59.5 206.4,58.6 204.5,53.7" fill="#BA7100"/>
<polygon points="217.5,86.0 225.0,78.0 232.0,74.0 239.5,72.5 240.5,77.0 235.0,84.0 228.0,88.0 221.0,92.5 217.0,92.0" fill="#BA7100"/>
<polygon points="199.9,114.5 203.9,110.4 206.0,107.0 210.1,106.5 213.1,109.0 214.0,112.5 211.1,118.6 208.0,120.7 206.0,125.8 203.9,129.9 200.9,131.0 199.9,122.7" fill="#BA7100"/>
<polygon points="107.0,111.0 113.1,108.8 119.3,108.8 126.3,111.4 133.3,115.3 139.4,118.4 146.4,122.8 149.0,126.3 154.3,129.8 156.0,131.5 156.0,140.0 129.0,140.0 130.6,129.8 126.3,126.3 121.9,123.2 113.1,120.1 107.9,117.5 104.5,114.5" fill="#E0E0EE"/>
<polygon points="125.0,122.5 133.0,122.5 140.0,124.5 146.4,126.0 150.0,129.0 154.3,130.5 156.0,132.0 156.0,140.0 129.0,140.0 130.0,130.0 127.0,126.0" fill="#FFBDD7"/>
<polygon points="118.0,116.0 126.0,118.0 133.0,119.5 128.0,121.0 121.0,120.0" fill="#FFBDD7" opacity="0.5"/>
<polygon points="179.9,99.5 184.0,97.3 190.0,97.8 193.1,99.0 190.0,101.5 184.0,102.4 180.5,101.8" fill="#FFBDD7" opacity="0.8"/>
<polygon points="179.0,134.5 182.0,129.0 186.0,124.0 191.0,118.0 196.0,111.0 198.5,110.5 197.0,115.0 193.0,121.0 189.0,126.0 185.0,131.0 182.0,135.5" fill="#BA7100" opacity="0.85"/>
<polygon points="186.0,118.0 190.0,112.5 194.0,109.0 195.0,111.0 191.0,116.0 187.0,120.0" fill="#BA7100" opacity="0.7"/>
<polygon points="180.4,133.0 183.0,128.0 185.5,129.0 185.0,134.0 183.0,139.0 181.0,138.0" fill="#BA7100" opacity="0.7"/>
<polygon points="35.3,75.3 41.7,77.0 51.0,79.9 60.4,82.8 69.7,85.2 72.0,88.7 65.0,89.3 58.0,86.4 49.9,83.4 41.7,80.5 37.0,79.3" fill="#E0E0EE"/>
<polygon points="37.0,87.5 44.0,85.2 53.4,87.5 62.7,88.7 72.0,89.9 69.7,91.0 59.2,92.2 47.5,92.8 38.2,95.1 35.3,94.5" fill="#E0E0EE"/>
<polygon points="40.0,77.5 50.0,80.2 58.0,83.0 52.0,83.0 44.0,80.5" fill="#FFBDD7" opacity="0.8"/>
<polygon points="40.0,89.0 50.0,88.5 58.0,90.0 50.0,91.5 42.0,92.0" fill="#FFBDD7" opacity="0.7"/>
<polygon points="73.8,81.7 79.0,82.3 84.9,84.0 84.3,85.8 79.0,85.2 74.4,84.0" fill="#FFBDD7"/>
<ellipse cx="96.6" cy="84.6" rx="1.6" ry="0.8" fill="#FFBDD7"/>
<ellipse cx="103.6" cy="87.5" rx="1.6" ry="0.8" fill="#E0E0EE"/>
<polygon points="67.4,51.1 69.7,50.3 73.2,50.5 76.7,55.2 83.7,58.7 86.0,61.0 82.0,60.0 75.0,57.0 70.0,53.5" fill="#FFBDD7" opacity="0.8"/>
<ellipse cx="49.6" cy="72" rx="1.3" ry="1.6" fill="#FFBDD7"/>
<ellipse cx="57" cy="65" rx="1.5" ry="1" fill="#FFBDD7"/>
<circle cx="40.6" cy="152.3" r="0.9" fill="#BA7100" opacity="0.8"/>
<circle cx="41.0" cy="151.2" r="0.7" fill="#BA7100" opacity="0.8"/>
<circle cx="32.5" cy="151.3" r="0.7" fill="#BA7100" opacity="0.8"/>
<circle cx="36.1" cy="142.0" r="0.8" fill="#BA7100" opacity="0.8"/>
<circle cx="47.8" cy="140.9" r="0.9" fill="#BA7100" opacity="0.8"/>
<circle cx="55.9" cy="154.4" r="0.7" fill="#BA7100" opacity="0.8"/>
<circle cx="42.9" cy="141.3" r="0.5" fill="#BA7100" opacity="0.8"/>
<circle cx="40.9" cy="149.7" r="0.9" fill="#BA7100" opacity="0.8"/>
<circle cx="42.6" cy="154.1" r="0.6" fill="#BA7100" opacity="0.8"/>
<circle cx="46.9" cy="150.1" r="0.5" fill="#BA7100" opacity="0.8"/>
<circle cx="52.2" cy="155.6" r="0.5" fill="#BA7100" opacity="0.8"/>
<circle cx="33.9" cy="146.4" r="0.4" fill="#BA7100" opacity="0.8"/>
<circle cx="50.0" cy="148.8" r="0.9" fill="#BA7100" opacity="0.8"/>
<circle cx="38.6" cy="161.1" r="0.9" fill="#BA7100" opacity="0.8"/>
<circle cx="54.3" cy="150.3" r="0.9" fill="#BA7100" opacity="0.8"/>
<circle cx="38.9" cy="141.6" r="0.7" fill="#BA7100" opacity="0.8"/>
<circle cx="50.4" cy="145.9" r="0.4" fill="#BA7100" opacity="0.8"/>
<circle cx="37.0" cy="161.2" r="0.8" fill="#BA7100" opacity="0.8"/>
<circle cx="30.5" cy="145.4" r="0.4" fill="#BA7100" opacity="0.8"/>
<circle cx="32.3" cy="152.3" r="0.6" fill="#BA7100" opacity="0.8"/>
<circle cx="32.7" cy="156.1" r="0.4" fill="#BA7100" opacity="0.8"/>
<circle cx="46.3" cy="142.6" r="0.6" fill="#BA7100" opacity="0.8"/>
<circle cx="33.4" cy="145.9" r="0.9" fill="#BA7100" opacity="0.8"/>
<circle cx="51.1" cy="146.7" r="0.9" fill="#BA7100" opacity="0.8"/>
<circle cx="33.3" cy="148.7" r="0.9" fill="#BA7100" opacity="0.8"/>
<circle cx="46.3" cy="142.2" r="0.9" fill="#BA7100" opacity="0.8"/>
<circle cx="33.4" cy="145.7" r="0.8" fill="#BA7100" opacity="0.8"/>
<circle cx="36.9" cy="146.5" r="0.4" fill="#BA7100" opacity="0.8"/>
<circle cx="29.7" cy="152.8" r="0.5" fill="#BA7100" opacity="0.8"/>
<circle cx="45.0" cy="148.2" r="0.6" fill="#BA7100" opacity="0.8"/>
<circle cx="55.8" cy="150.6" r="0.7" fill="#BA7100" opacity="0.8"/>
<circle cx="53.0" cy="144.0" r="0.4" fill="#BA7100" opacity="0.8"/>
<circle cx="34.5" cy="144.2" r="0.8" fill="#BA7100" opacity="0.8"/>
<circle cx="45.1" cy="149.3" r="0.4" fill="#BA7100" opacity="0.8"/>
<circle cx="34.2" cy="155.5" r="0.5" fill="#BA7100" opacity="0.8"/>
<circle cx="51.7" cy="153.1" r="0.5" fill="#BA7100" opacity="0.8"/>
<circle cx="32.3" cy="155.8" r="0.4" fill="#BA7100" opacity="0.8"/>
<circle cx="33.9" cy="152.3" r="0.9" fill="#BA7100" opacity="0.8"/>
<circle cx="45.4" cy="146.2" r="0.9" fill="#BA7100" opacity="0.8"/>
<circle cx="35.1" cy="149.8" r="0.4" fill="#BA7100" opacity="0.8"/>
<circle cx="32.3" cy="148.1" r="0.7" fill="#BA7100" opacity="0.8"/>
<circle cx="30.9" cy="148.0" r="0.9" fill="#BA7100" opacity="0.8"/>
<circle cx="47.7" cy="152.9" r="0.4" fill="#BA7100" opacity="0.8"/>
<circle cx="54.3" cy="155.4" r="0.9" fill="#BA7100" opacity="0.8"/>
<circle cx="27.6" cy="154.0" r="0.6" fill="#BA7100" opacity="0.8"/>
<circle cx="48.9" cy="147.0" r="0.9" fill="#BA7100" opacity="0.8"/>
<circle cx="29.3" cy="152.0" r="0.8" fill="#BA7100" opacity="0.8"/>
<circle cx="54.0" cy="156.2" r="0.8" fill="#BA7100" opacity="0.8"/>
<circle cx="37.6" cy="155.1" r="0.9" fill="#BA7100" opacity="0.8"/>
<circle cx="53.1" cy="149.2" r="0.8" fill="#BA7100" opacity="0.8"/>
<circle cx="52.9" cy="152.6" r="0.7" fill="#BA7100" opacity="0.8"/>
<circle cx="38.5" cy="152.8" r="0.7" fill="#BA7100" opacity="0.8"/>
<circle cx="29.4" cy="154.1" r="0.9" fill="#BA7100" opacity="0.8"/>
<circle cx="53.4" cy="156.0" r="0.6" fill="#BA7100" opacity="0.8"/>
<circle cx="49.1" cy="152.8" r="0.6" fill="#BA7100" opacity="0.8"/>
<circle cx="45.0" cy="150.6" r="0.5" fill="#BA7100" opacity="0.8"/>
<circle cx="48.0" cy="150.9" r="0.7" fill="#BA7100" opacity="0.8"/>
<circle cx="54.6" cy="145.6" r="0.4" fill="#BA7100" opacity="0.8"/>
<circle cx="36.0" cy="154.9" r="0.5" fill="#BA7100" opacity="0.8"/>
<circle cx="46.8" cy="149.7" r="0.9" fill="#BA7100" opacity="0.8"/>
<circle cx="36.8" cy="154.6" r="0.5" fill="#BA7100" opacity="0.8"/>
<circle cx="39.9" cy="157.7" r="0.9" fill="#BA7100" opacity="0.8"/>
<circle cx="53.4" cy="148.5" r="0.7" fill="#BA7100" opacity="0.8"/>
<circle cx="36.5" cy="143.0" r="0.6" fill="#BA7100" opacity="0.8"/>
<circle cx="52.1" cy="158.7" r="0.8" fill="#BA7100" opacity="0.8"/>
<circle cx="32.1" cy="149.9" r="0.5" fill="#BA7100" opacity="0.8"/>
<circle cx="33.4" cy="149.1" r="0.7" fill="#BA7100" opacity="0.8"/>
<circle cx="41.8" cy="146.9" r="0.9" fill="#BA7100" opacity="0.8"/>
<circle cx="56.5" cy="150.0" r="0.4" fill="#BA7100" opacity="0.8"/>
<circle cx="44.1" cy="146.8" r="0.8" fill="#BA7100" opacity="0.8"/>
<circle cx="40.6" cy="140.5" r="0.8" fill="#BA7100" opacity="0.8"/>
<circle cx="34.1" cy="143.1" r="0.4" fill="#BA7100" opacity="0.8"/>
<circle cx="45.9" cy="149.8" r="0.7" fill="#BA7100" opacity="0.8"/>
<circle cx="46.7" cy="157.8" r="0.9" fill="#BA7100" opacity="0.8"/>
<circle cx="47.5" cy="144.4" r="0.6" fill="#BA7100" opacity="0.8"/>
<circle cx="41.2" cy="155.7" r="0.5" fill="#BA7100" opacity="0.8"/>
<circle cx="35.2" cy="147.6" r="0.8" fill="#BA7100" opacity="0.8"/>
<circle cx="42.6" cy="153.5" r="0.8" fill="#BA7100" opacity="0.8"/>
<circle cx="38.8" cy="157.4" r="0.9" fill="#BA7100" opacity="0.8"/>
<circle cx="48.7" cy="142.9" r="0.6" fill="#BA7100" opacity="0.8"/>
<circle cx="45.8" cy="160.0" r="0.6" fill="#BA7100" opacity="0.8"/>
<circle cx="44.1" cy="159.3" r="0.8" fill="#BA7100" opacity="0.8"/>
<circle cx="55.3" cy="150.2" r="0.7" fill="#BA7100" opacity="0.8"/>
<circle cx="33.1" cy="155.9" r="0.8" fill="#BA7100" opacity="0.8"/>
<circle cx="46.2" cy="155.8" r="0.5" fill="#BA7100" opacity="0.8"/>
<circle cx="56.3" cy="151.8" r="0.8" fill="#BA7100" opacity="0.8"/>
<circle cx="36.6" cy="160.0" r="0.9" fill="#BA7100" opacity="0.8"/>
<circle cx="37.5" cy="141.8" r="0.6" fill="#BA7100" opacity="0.8"/>
<circle cx="43.5" cy="156.9" r="0.6" fill="#BA7100" opacity="0.8"/>
<circle cx="32.2" cy="147.4" r="0.8" fill="#BA7100" opacity="0.8"/>
<circle cx="42.5" cy="155.9" r="0.9" fill="#BA7100" opacity="0.8"/>
<circle cx="47.7" cy="160.8" r="0.6" fill="#BA7100" opacity="0.8"/>
<circle cx="33.6" cy="151.6" r="0.5" fill="#BA7100" opacity="0.8"/>
<circle cx="48.9" cy="154.1" r="0.7" fill="#BA7100" opacity="0.8"/>
<circle cx="52.3" cy="152.3" r="0.5" fill="#BA7100" opacity="0.8"/>
<circle cx="38.4" cy="158.6" r="0.9" fill="#BA7100" opacity="0.8"/>
<circle cx="33.2" cy="158.7" r="0.9" fill="#BA7100" opacity="0.8"/>
<circle cx="42.7" cy="152.6" r="0.5" fill="#BA7100" opacity="0.8"/>
<circle cx="43.1" cy="151.1" r="0.7" fill="#BA7100" opacity="0.8"/>
<circle cx="42.5" cy="148.8" r="0.8" fill="#BA7100" opacity="0.8"/>
<circle cx="43.9" cy="150.8" r="0.8" fill="#BA7100" opacity="0.8"/>
<circle cx="29.0" cy="151.9" r="0.6" fill="#BA7100" opacity="0.8"/>
<circle cx="35.1" cy="150.4" r="0.4" fill="#BA7100" opacity="0.8"/>
<circle cx="40.0" cy="157.9" r="0.9" fill="#BA7100" opacity="0.8"/>
<circle cx="41.3" cy="147.0" r="0.5" fill="#BA7100" opacity="0.8"/>
<circle cx="45.5" cy="160.4" r="0.4" fill="#BA7100" opacity="0.8"/>
<circle cx="32.8" cy="145.0" r="0.8" fill="#BA7100" opacity="0.8"/>
<circle cx="36.7" cy="147.8" r="0.7" fill="#BA7100" opacity="0.8"/>
<circle cx="30.1" cy="156.1" r="0.4" fill="#BA7100" opacity="0.8"/>
<circle cx="42.3" cy="145.5" r="0.5" fill="#BA7100" opacity="0.8"/>
<circle cx="42.9" cy="149.6" r="0.6" fill="#BA7100" opacity="0.8"/>
<circle cx="39.4" cy="151.6" r="0.4" fill="#BA7100" opacity="0.8"/>
<circle cx="33.1" cy="153.9" r="0.7" fill="#BA7100" opacity="0.8"/>
<circle cx="42.9" cy="158.7" r="0.7" fill="#BA7100" opacity="0.8"/>
<circle cx="52.7" cy="145.1" r="0.8" fill="#BA7100" opacity="0.8"/>
<circle cx="36.5" cy="146.9" r="0.9" fill="#BA7100" opacity="0.8"/>
<circle cx="34.2" cy="156.0" r="0.5" fill="#BA7100" opacity="0.8"/>
<circle cx="39.6" cy="157.4" r="0.4" fill="#BA7100" opacity="0.8"/>
<circle cx="39.1" cy="155.1" r="0.4" fill="#BA7100" opacity="0.8"/>
<circle cx="33.0" cy="155.0" r="0.9" fill="#BA7100" opacity="0.8"/>
<circle cx="42.2" cy="156.7" r="0.7" fill="#BA7100" opacity="0.8"/>
<circle cx="47.6" cy="144.2" r="0.4" fill="#BA7100" opacity="0.8"/>
<circle cx="43.6" cy="151.3" r="0.7" fill="#BA7100" opacity="0.8"/>
<circle cx="31.4" cy="144.1" r="0.5" fill="#BA7100" opacity="0.8"/>
<circle cx="40.9" cy="156.8" r="0.5" fill="#BA7100" opacity="0.8"/>
<circle cx="41.0" cy="151.3" r="0.6" fill="#BA7100" opacity="0.8"/>
<circle cx="45.0" cy="140.3" r="0.8" fill="#BA7100" opacity="0.8"/>
<circle cx="52.3" cy="144.0" r="0.6" fill="#BA7100" opacity="0.8"/>
<circle cx="49.2" cy="148.9" r="0.5" fill="#BA7100" opacity="0.8"/>
<circle cx="32.0" cy="151.3" r="0.4" fill="#BA7100" opacity="0.8"/>
<circle cx="53.8" cy="157.6" r="0.8" fill="#BA7100" opacity="0.8"/>
<circle cx="52.8" cy="153.8" r="0.6" fill="#BA7100" opacity="0.8"/>
<circle cx="45.0" cy="151.1" r="0.9" fill="#BA7100" opacity="0.8"/>
<circle cx="51.1" cy="145.7" r="0.9" fill="#BA7100" opacity="0.8"/>
<circle cx="49.3" cy="157.1" r="0.8" fill="#BA7100" opacity="0.8"/>
<circle cx="39.2" cy="159.7" r="0.9" fill="#BA7100" opacity="0.8"/>
<circle cx="47.8" cy="156.9" r="0.8" fill="#BA7100" opacity="0.8"/>
<circle cx="39.2" cy="155.9" r="0.4" fill="#BA7100" opacity="0.8"/>
<circle cx="37.3" cy="150.3" r="0.4" fill="#BA7100" opacity="0.8"/>
<circle cx="37.7" cy="154.1" r="0.7" fill="#BA7100" opacity="0.8"/>
<circle cx="47.0" cy="147.4" r="0.7" fill="#BA7100" opacity="0.8"/>
<circle cx="44.1" cy="151.7" r="0.6" fill="#BA7100" opacity="0.8"/>
<circle cx="48.0" cy="156.8" r="0.9" fill="#BA7100" opacity="0.8"/>
<circle cx="27.7" cy="153.5" r="0.8" fill="#BA7100" opacity="0.8"/>
<circle cx="34.7" cy="148.8" r="0.4" fill="#BA7100" opacity="0.8"/>
<circle cx="32.9" cy="148.3" r="0.4" fill="#BA7100" opacity="0.8"/>
<circle cx="34.5" cy="159.9" r="0.7" fill="#BA7100" opacity="0.8"/>
<circle cx="42.2" cy="161.3" r="0.7" fill="#BA7100" opacity="0.8"/>
<circle cx="44.9" cy="156.7" r="0.4" fill="#BA7100" opacity="0.8"/>
<circle cx="41.2" cy="143.7" r="0.6" fill="#BA7100" opacity="0.8"/>
<circle cx="45.3" cy="141.3" r="0.9" fill="#BA7100" opacity="0.8"/>
<circle cx="39.6" cy="151.6" r="0.7" fill="#BA7100" opacity="0.8"/>
<circle cx="38.0" cy="146.3" r="0.7" fill="#BA7100" opacity="0.8"/>
<circle cx="43.8" cy="146.2" r="0.8" fill="#BA7100" opacity="0.8"/>
<circle cx="31.7" cy="156.6" r="0.6" fill="#BA7100" opacity="0.8"/>
<circle cx="53.9" cy="156.5" r="0.4" fill="#BA7100" opacity="0.8"/>
<circle cx="39.9" cy="150.5" r="0.9" fill="#BA7100" opacity="0.8"/>
<circle cx="34.3" cy="151.5" r="0.9" fill="#BA7100" opacity="0.8"/>
<circle cx="48.7" cy="150.3" r="0.9" fill="#BA7100" opacity="0.8"/>
<circle cx="51.5" cy="153.3" r="0.4" fill="#BA7100" opacity="0.8"/>
<circle cx="45.7" cy="150.0" r="0.5" fill="#BA7100" opacity="0.8"/>
<circle cx="28.6" cy="151.6" r="0.4" fill="#BA7100" opacity="0.8"/>
<circle cx="40.3" cy="154.7" r="0.6" fill="#BA7100" opacity="0.8"/>
<circle cx="34.9" cy="152.8" r="0.6" fill="#BA7100" opacity="0.8"/>
<circle cx="50.3" cy="151.7" r="0.9" fill="#BA7100" opacity="0.8"/>
<circle cx="34.2" cy="142.5" r="0.9" fill="#BA7100" opacity="0.8"/>
<circle cx="50.5" cy="153.7" r="0.6" fill="#BA7100" opacity="0.8"/>
<circle cx="35.1" cy="155.1" r="0.7" fill="#BA7100" opacity="0.8"/>
<circle cx="44.8" cy="153.9" r="0.8" fill="#BA7100" opacity="0.8"/>
<circle cx="32.7" cy="145.5" r="0.9" fill="#BA7100" opacity="0.8"/>
<circle cx="35.1" cy="149.4" r="0.7" fill="#BA7100" opacity="0.8"/>
<circle cx="30.1" cy="151.9" r="0.4" fill="#BA7100" opacity="0.8"/>
<circle cx="29.6" cy="154.9" r="0.7" fill="#BA7100" opacity="0.8"/>
<circle cx="45.9" cy="148.2" r="0.6" fill="#BA7100" opacity="0.8"/>
<circle cx="33.3" cy="147.6" r="0.8" fill="#BA7100" opacity="0.8"/>
<circle cx="30.6" cy="157.8" r="0.7" fill="#BA7100" opacity="0.8"/>
<circle cx="50.1" cy="144.7" r="0.6" fill="#BA7100" opacity="0.8"/>
<circle cx="34.7" cy="157.8" r="0.6" fill="#BA7100" opacity="0.8"/>
<circle cx="36.8" cy="152.1" r="0.8" fill="#BA7100" opacity="0.8"/>
<circle cx="54.6" cy="149.4" r="0.6" fill="#BA7100" opacity="0.8"/>
<circle cx="43.9" cy="150.7" r="0.8" fill="#BA7100" opacity="0.8"/>
<circle cx="36.0" cy="157.1" r="0.4" fill="#BA7100" opacity="0.8"/>
<circle cx="33.4" cy="154.6" r="0.4" fill="#BA7100" opacity="0.8"/>
<circle cx="36.1" cy="155.9" r="0.8" fill="#BA7100" opacity="0.8"/>
<circle cx="35.5" cy="143.1" r="0.6" fill="#BA7100" opacity="0.8"/>
<circle cx="48.8" cy="148.1" r="0.4" fill="#BA7100" opacity="0.8"/>
<circle cx="48.3" cy="152.5" r="0.9" fill="#BA7100" opacity="0.8"/>
<circle cx="40.1" cy="157.7" r="0.5" fill="#BA7100" opacity="0.8"/>
<circle cx="36.5" cy="148.8" r="0.9" fill="#BA7100" opacity="0.8"/>
<circle cx="53.8" cy="145.5" r="0.6" fill="#BA7100" opacity="0.8"/>
<circle cx="38.0" cy="148.0" r="0.6" fill="#BA7100" opacity="0.8"/>
<circle cx="38.6" cy="144.3" r="0.7" fill="#BA7100" opacity="0.8"/>
<circle cx="50.9" cy="151.9" r="0.9" fill="#BA7100" opacity="0.8"/>
<circle cx="43.9" cy="143.9" r="0.8" fill="#BA7100" opacity="0.8"/>
<circle cx="53.4" cy="146.2" r="0.4" fill="#BA7100" opacity="0.8"/>
<circle cx="42.5" cy="152.0" r="0.7" fill="#BA7100" opacity="0.8"/>
<circle cx="56.0" cy="154.3" r="0.8" fill="#BA7100" opacity="0.8"/>
<circle cx="28.9" cy="152.0" r="0.8" fill="#BA7100" opacity="0.8"/>
<circle cx="49.1" cy="159.8" r="0.4" fill="#BA7100" opacity="0.8"/>
<circle cx="46.0" cy="143.2" r="0.8" fill="#BA7100" opacity="0.8"/>
<circle cx="46.5" cy="145.4" r="0.5" fill="#BA7100" opacity="0.8"/>
<circle cx="50.0" cy="151.5" r="0.8" fill="#BA7100" opacity="0.8"/>
<circle cx="38.8" cy="147.4" r="0.9" fill="#BA7100" opacity="0.8"/>
<circle cx="47.2" cy="150.9" r="0.7" fill="#BA7100" opacity="0.8"/>
<circle cx="48.6" cy="155.6" r="0.9" fill="#BA7100" opacity="0.8"/>
<circle cx="39.3" cy="158.2" r="0.8" fill="#BA7100" opacity="0.8"/>
<circle cx="52.6" cy="157.7" r="0.9" fill="#BA7100" opacity="0.8"/>
<circle cx="46.2" cy="151.5" r="0.8" fill="#BA7100" opacity="0.8"/>
<circle cx="51.1" cy="149.3" r="0.6" fill="#BA7100" opacity="0.8"/>
<circle cx="31.4" cy="156.3" r="0.9" fill="#BA7100" opacity="0.8"/>
<circle cx="38.3" cy="143.7" r="0.5" fill="#BA7100" opacity="0.8"/>
<circle cx="39.7" cy="146.4" r="0.9" fill="#BA7100" opacity="0.8"/>
<circle cx="28.8" cy="146.8" r="0.4" fill="#BA7100" opacity="0.8"/>
<circle cx="46.4" cy="157.1" r="0.5" fill="#BA7100" opacity="0.8"/>
<circle cx="28.9" cy="150.1" r="0.7" fill="#BA7100" opacity="0.8"/>
<circle cx="33.5" cy="145.2" r="0.8" fill="#BA7100" opacity="0.8"/>
<circle cx="44.8" cy="144.9" r="0.5" fill="#BA7100" opacity="0.8"/>
<circle cx="35.4" cy="143.8" r="0.8" fill="#BA7100" opacity="0.8"/>
<circle cx="36.4" cy="152.1" r="0.8" fill="#BA7100" opacity="0.8"/>
<circle cx="41.4" cy="145.7" r="0.9" fill="#BA7100" opacity="0.8"/>
<circle cx="54.4" cy="147.5" r="0.7" fill="#BA7100" opacity="0.8"/>
<circle cx="55.7" cy="150.6" r="0.5" fill="#BA7100" opacity="0.8"/>
<circle cx="51.0" cy="148.5" r="0.7" fill="#BA7100" opacity="0.8"/>
<circle cx="42.5" cy="146.0" r="0.9" fill="#BA7100" opacity="0.8"/>
<circle cx="46.7" cy="145.2" r="0.4" fill="#BA7100" opacity="0.8"/>
<circle cx="41.2" cy="148.2" r="0.8" fill="#BA7100" opacity="0.8"/>
<circle cx="48.4" cy="153.3" r="0.4" fill="#BA7100" opacity="0.8"/>
<circle cx="31.7" cy="147.1" r="0.5" fill="#BA7100" opacity="0.8"/>
<circle cx="53.1" cy="151.4" r="0.7" fill="#BA7100" opacity="0.8"/>
<circle cx="43.0" cy="143.3" r="0.8" fill="#BA7100" opacity="0.8"/>
<circle cx="66.0" cy="159.8" r="0.4" fill="#BA7100" opacity="0.75"/>
<circle cx="51.0" cy="157.9" r="0.4" fill="#BA7100" opacity="0.75"/>
<circle cx="56.5" cy="153.4" r="0.9" fill="#BA7100" opacity="0.75"/>
<circle cx="59.3" cy="160.4" r="0.5" fill="#BA7100" opacity="0.75"/>
<circle cx="64.5" cy="152.5" r="0.9" fill="#BA7100" opacity="0.75"/>
<circle cx="49.4" cy="154.8" r="0.6" fill="#BA7100" opacity="0.75"/>
<circle cx="48.1" cy="160.0" r="0.5" fill="#BA7100" opacity="0.75"/>
<circle cx="52.1" cy="146.4" r="0.5" fill="#BA7100" opacity="0.75"/>
<circle cx="56.1" cy="157.9" r="0.5" fill="#BA7100" opacity="0.75"/>
<circle cx="61.9" cy="146.9" r="0.6" fill="#BA7100" opacity="0.75"/>
<circle cx="56.0" cy="162.4" r="0.8" fill="#BA7100" opacity="0.75"/>
<circle cx="53.8" cy="157.8" r="0.5" fill="#BA7100" opacity="0.75"/>
<circle cx="58.7" cy="153.2" r="0.4" fill="#BA7100" opacity="0.75"/>
<circle cx="49.4" cy="156.1" r="0.5" fill="#BA7100" opacity="0.75"/>
<circle cx="53.8" cy="154.7" r="0.5" fill="#BA7100" opacity="0.75"/>
<circle cx="52.8" cy="152.1" r="0.7" fill="#BA7100" opacity="0.75"/>
<circle cx="50.7" cy="148.6" r="0.8" fill="#BA7100" opacity="0.75"/>
<circle cx="52.6" cy="162.0" r="0.7" fill="#BA7100" opacity="0.75"/>
<circle cx="62.8" cy="151.0" r="0.8" fill="#BA7100" opacity="0.75"/>
<circle cx="46.5" cy="157.2" r="0.7" fill="#BA7100" opacity="0.75"/>
<circle cx="48.7" cy="152.2" r="0.8" fill="#BA7100" opacity="0.75"/>
<circle cx="59.4" cy="146.6" r="0.5" fill="#BA7100" opacity="0.75"/>
<circle cx="54.6" cy="146.3" r="0.9" fill="#BA7100" opacity="0.75"/>
<circle cx="55.1" cy="154.2" r="0.7" fill="#BA7100" opacity="0.75"/>
<circle cx="63.9" cy="159.8" r="0.6" fill="#BA7100" opacity="0.75"/>
<circle cx="52.6" cy="152.4" r="0.4" fill="#BA7100" opacity="0.75"/>
<circle cx="54.4" cy="157.6" r="0.9" fill="#BA7100" opacity="0.75"/>
<circle cx="64.5" cy="156.9" r="0.7" fill="#BA7100" opacity="0.75"/>
<circle cx="52.9" cy="156.7" r="0.4" fill="#BA7100" opacity="0.75"/>
<circle cx="53.8" cy="154.2" r="0.8" fill="#BA7100" opacity="0.75"/>
<circle cx="65.5" cy="156.0" r="0.4" fill="#BA7100" opacity="0.75"/>
<circle cx="63.9" cy="161.3" r="0.7" fill="#BA7100" opacity="0.75"/>
<circle cx="53.2" cy="154.0" r="0.4" fill="#BA7100" opacity="0.75"/>
<circle cx="57.4" cy="157.9" r="0.8" fill="#BA7100" opacity="0.75"/>
<circle cx="60.3" cy="148.6" r="0.4" fill="#BA7100" opacity="0.75"/>
<circle cx="50.4" cy="155.4" r="0.7" fill="#BA7100" opacity="0.75"/>
<circle cx="52.6" cy="161.7" r="0.5" fill="#BA7100" opacity="0.75"/>
<circle cx="56.0" cy="147.2" r="0.9" fill="#BA7100" opacity="0.75"/>
<circle cx="58.1" cy="155.1" r="0.7" fill="#BA7100" opacity="0.75"/>
<circle cx="50.9" cy="161.4" r="0.9" fill="#BA7100" opacity="0.75"/>
<circle cx="65.3" cy="155.8" r="0.4" fill="#BA7100" opacity="0.75"/>
<circle cx="65.4" cy="150.2" r="0.8" fill="#BA7100" opacity="0.75"/>
<circle cx="50.3" cy="155.3" r="0.8" fill="#BA7100" opacity="0.75"/>
<circle cx="48.8" cy="154.9" r="0.4" fill="#BA7100" opacity="0.75"/>
<circle cx="61.1" cy="150.5" r="0.7" fill="#BA7100" opacity="0.75"/>
<circle cx="63.2" cy="151.9" r="0.7" fill="#BA7100" opacity="0.75"/>
<circle cx="49.2" cy="153.4" r="0.4" fill="#BA7100" opacity="0.75"/>
<circle cx="54.0" cy="155.3" r="0.4" fill="#BA7100" opacity="0.75"/>
<circle cx="57.5" cy="149.7" r="0.7" fill="#BA7100" opacity="0.75"/>
<circle cx="52.6" cy="156.6" r="0.4" fill="#BA7100" opacity="0.75"/>
<circle cx="61.4" cy="147.6" r="0.9" fill="#BA7100" opacity="0.75"/>
<circle cx="59.6" cy="153.5" r="0.6" fill="#BA7100" opacity="0.75"/>
<circle cx="60.2" cy="157.4" r="0.8" fill="#BA7100" opacity="0.75"/>
<circle cx="63.5" cy="153.7" r="0.9" fill="#BA7100" opacity="0.75"/>
<circle cx="65.8" cy="160.4" r="0.6" fill="#BA7100" opacity="0.75"/>
<circle cx="55.3" cy="155.2" r="0.8" fill="#BA7100" opacity="0.75"/>
<circle cx="57.7" cy="154.5" r="0.6" fill="#BA7100" opacity="0.75"/>
<circle cx="67.5" cy="150.8" r="0.4" fill="#BA7100" opacity="0.75"/>
<circle cx="62.9" cy="161.2" r="0.8" fill="#BA7100" opacity="0.75"/>
<circle cx="59.5" cy="158.5" r="0.5" fill="#BA7100" opacity="0.75"/>
<circle cx="59.4" cy="146.3" r="0.4" fill="#BA7100" opacity="0.75"/>
<circle cx="55.6" cy="154.0" r="0.6" fill="#BA7100" opacity="0.75"/>
<circle cx="45.4" cy="157.5" r="0.6" fill="#BA7100" opacity="0.75"/>
<circle cx="50.2" cy="150.5" r="0.6" fill="#BA7100" opacity="0.75"/>
<circle cx="61.3" cy="160.6" r="0.6" fill="#BA7100" opacity="0.75"/>
<circle cx="64.9" cy="149.0" r="0.8" fill="#BA7100" opacity="0.75"/>
<circle cx="58.7" cy="161.3" r="0.4" fill="#BA7100" opacity="0.75"/>
<circle cx="64.6" cy="147.2" r="0.6" fill="#BA7100" opacity="0.75"/>
<circle cx="50.3" cy="150.4" r="0.5" fill="#BA7100" opacity="0.75"/>
<circle cx="65.2" cy="152.2" r="0.5" fill="#BA7100" opacity="0.75"/>
<circle cx="59.2" cy="145.8" r="0.4" fill="#BA7100" opacity="0.75"/>
<circle cx="67.4" cy="150.5" r="0.6" fill="#BA7100" opacity="0.75"/>
<circle cx="56.3" cy="148.7" r="0.5" fill="#BA7100" opacity="0.75"/>
<circle cx="49.1" cy="160.1" r="0.5" fill="#BA7100" opacity="0.75"/>
<circle cx="56.3" cy="148.1" r="0.8" fill="#BA7100" opacity="0.75"/>
<circle cx="60.4" cy="148.4" r="0.8" fill="#BA7100" opacity="0.75"/>
<circle cx="62.9" cy="150.6" r="0.8" fill="#BA7100" opacity="0.75"/>
<circle cx="66.6" cy="157.8" r="0.4" fill="#BA7100" opacity="0.75"/>
<circle cx="62.1" cy="161.9" r="0.6" fill="#BA7100" opacity="0.75"/>
<circle cx="52.0" cy="157.8" r="0.5" fill="#BA7100" opacity="0.75"/>
<circle cx="48.7" cy="149.2" r="0.7" fill="#BA7100" opacity="0.75"/>
<circle cx="64.6" cy="151.7" r="0.7" fill="#BA7100" opacity="0.75"/>
<circle cx="67.0" cy="155.6" r="0.5" fill="#BA7100" opacity="0.75"/>
<circle cx="51.8" cy="161.7" r="0.7" fill="#BA7100" opacity="0.75"/>
<circle cx="51.2" cy="156.5" r="0.4" fill="#BA7100" opacity="0.75"/>
<circle cx="69.6" cy="152.9" r="0.6" fill="#BA7100" opacity="0.75"/>
<circle cx="57.8" cy="145.8" r="0.7" fill="#BA7100" opacity="0.75"/>
<circle cx="51.4" cy="149.5" r="0.8" fill="#BA7100" opacity="0.75"/>
<circle cx="46.3" cy="150.1" r="0.8" fill="#BA7100" opacity="0.75"/>
<circle cx="50.4" cy="150.0" r="0.7" fill="#BA7100" opacity="0.75"/>
<circle cx="56.0" cy="158.5" r="0.6" fill="#BA7100" opacity="0.75"/>
<circle cx="68.2" cy="154.0" r="0.4" fill="#BA7100" opacity="0.75"/>
<circle cx="58.5" cy="156.6" r="0.5" fill="#BA7100" opacity="0.75"/>
<circle cx="61.1" cy="159.1" r="0.6" fill="#BA7100" opacity="0.75"/>
<circle cx="57.1" cy="160.2" r="0.7" fill="#BA7100" opacity="0.75"/>
<circle cx="57.5" cy="162.1" r="0.4" fill="#BA7100" opacity="0.75"/>
<circle cx="64.3" cy="148.0" r="0.7" fill="#BA7100" opacity="0.75"/>
<circle cx="50.1" cy="152.9" r="0.8" fill="#BA7100" opacity="0.75"/>
<circle cx="64.5" cy="159.2" r="0.5" fill="#BA7100" opacity="0.75"/>
<circle cx="56.7" cy="149.0" r="0.7" fill="#BA7100" opacity="0.75"/>
<circle cx="57.0" cy="145.6" r="0.7" fill="#BA7100" opacity="0.75"/>
<circle cx="62.6" cy="155.3" r="0.8" fill="#BA7100" opacity="0.75"/>
<circle cx="48.7" cy="147.7" r="0.4" fill="#BA7100" opacity="0.75"/>
<circle cx="56.9" cy="152.8" r="0.6" fill="#BA7100" opacity="0.75"/>
<circle cx="50.8" cy="159.4" r="0.4" fill="#BA7100" opacity="0.75"/>
<circle cx="67.6" cy="155.2" r="0.6" fill="#BA7100" opacity="0.75"/>
<circle cx="64.6" cy="149.3" r="0.4" fill="#BA7100" opacity="0.75"/>
<circle cx="52.1" cy="145.8" r="0.5" fill="#BA7100" opacity="0.75"/>
<circle cx="60.2" cy="154.5" r="0.5" fill="#BA7100" opacity="0.75"/>
<circle cx="59.3" cy="146.6" r="0.8" fill="#BA7100" opacity="0.75"/>
<circle cx="48.5" cy="149.6" r="0.4" fill="#BA7100" opacity="0.75"/>
<circle cx="62.0" cy="160.0" r="0.8" fill="#BA7100" opacity="0.75"/>
<circle cx="45.6" cy="152.4" r="0.6" fill="#BA7100" opacity="0.75"/>
<circle cx="45.1" cy="153.8" r="0.8" fill="#BA7100" opacity="0.75"/>
<circle cx="55.8" cy="158.4" r="0.4" fill="#BA7100" opacity="0.75"/>
<circle cx="50.3" cy="161.0" r="0.4" fill="#BA7100" opacity="0.75"/>
<circle cx="54.2" cy="150.4" r="0.6" fill="#BA7100" opacity="0.75"/>
<circle cx="63.1" cy="149.1" r="0.5" fill="#BA7100" opacity="0.75"/>
<circle cx="58.3" cy="149.4" r="0.6" fill="#BA7100" opacity="0.75"/>
<circle cx="68.2" cy="151.6" r="0.5" fill="#BA7100" opacity="0.75"/>
<circle cx="69.5" cy="156.0" r="0.4" fill="#BA7100" opacity="0.75"/>
<circle cx="54.5" cy="156.7" r="0.4" fill="#BA7100" opacity="0.75"/>
<circle cx="52.9" cy="157.5" r="0.8" fill="#BA7100" opacity="0.75"/>
<circle cx="59.4" cy="161.0" r="0.6" fill="#BA7100" opacity="0.75"/>
<circle cx="54.2" cy="160.2" r="0.6" fill="#BA7100" opacity="0.75"/>
<circle cx="64.3" cy="148.9" r="0.5" fill="#BA7100" opacity="0.75"/>
<circle cx="48.8" cy="154.9" r="0.4" fill="#BA7100" opacity="0.75"/>
<circle cx="49.3" cy="148.9" r="0.6" fill="#BA7100" opacity="0.75"/>
<circle cx="52.0" cy="153.0" r="0.9" fill="#BA7100" opacity="0.75"/>
<circle cx="61.7" cy="160.5" r="0.5" fill="#BA7100" opacity="0.75"/>
<circle cx="60.9" cy="133.6" r="0.8" fill="#BA7100" opacity="0.8"/>
<circle cx="60.5" cy="135.2" r="0.4" fill="#BA7100" opacity="0.8"/>
<circle cx="57.3" cy="135.1" r="0.6" fill="#BA7100" opacity="0.8"/>
<circle cx="70.6" cy="138.7" r="0.6" fill="#BA7100" opacity="0.8"/>
<circle cx="60.5" cy="134.2" r="1.0" fill="#BA7100" opacity="0.8"/>
<circle cx="60.5" cy="139.1" r="0.8" fill="#BA7100" opacity="0.8"/>
<circle cx="59.8" cy="136.1" r="0.4" fill="#BA7100" opacity="0.8"/>
<circle cx="69.9" cy="135.6" r="0.9" fill="#BA7100" opacity="0.8"/>
<circle cx="63.3" cy="133.4" r="0.6" fill="#BA7100" opacity="0.8"/>
<circle cx="56.7" cy="137.8" r="0.4" fill="#BA7100" opacity="0.8"/>
<circle cx="59.6" cy="136.4" r="0.7" fill="#BA7100" opacity="0.8"/>
<circle cx="56.4" cy="138.7" r="0.6" fill="#BA7100" opacity="0.8"/>
<circle cx="67.1" cy="138.3" r="0.5" fill="#BA7100" opacity="0.8"/>
<circle cx="57.7" cy="135.2" r="0.8" fill="#BA7100" opacity="0.8"/>
<circle cx="61.3" cy="136.1" r="0.9" fill="#BA7100" opacity="0.8"/>
<circle cx="58.1" cy="135.3" r="0.6" fill="#BA7100" opacity="0.8"/>
<circle cx="54.4" cy="138.0" r="0.7" fill="#BA7100" opacity="0.8"/>
<circle cx="59.4" cy="138.4" r="1.0" fill="#BA7100" opacity="0.8"/>
<circle cx="57.9" cy="138.5" r="0.8" fill="#BA7100" opacity="0.8"/>
<circle cx="58.2" cy="138.1" r="0.5" fill="#BA7100" opacity="0.8"/>
<circle cx="61.7" cy="136.1" r="0.4" fill="#BA7100" opacity="0.8"/>
<circle cx="60.9" cy="135.6" r="0.7" fill="#BA7100" opacity="0.8"/>
<circle cx="59.0" cy="134.3" r="0.6" fill="#BA7100" opacity="0.8"/>
<circle cx="62.6" cy="134.3" r="0.8" fill="#BA7100" opacity="0.8"/>
<circle cx="58.3" cy="133.7" r="0.6" fill="#BA7100" opacity="0.8"/>
<circle cx="61.6" cy="134.2" r="0.7" fill="#BA7100" opacity="0.8"/>
<circle cx="66.6" cy="137.4" r="0.8" fill="#BA7100" opacity="0.8"/>
<circle cx="54.4" cy="136.1" r="0.6" fill="#BA7100" opacity="0.8"/>
<circle cx="55.1" cy="136.2" r="0.4" fill="#BA7100" opacity="0.8"/>
<circle cx="62.9" cy="137.7" r="0.7" fill="#BA7100" opacity="0.8"/>
<circle cx="59.9" cy="135.0" r="0.4" fill="#BA7100" opacity="0.8"/>
<circle cx="60.2" cy="140.1" r="0.7" fill="#BA7100" opacity="0.8"/>
<circle cx="58.7" cy="138.3" r="0.5" fill="#BA7100" opacity="0.8"/>
<circle cx="62.4" cy="137.9" r="1.0" fill="#BA7100" opacity="0.8"/>
<circle cx="60.5" cy="137.6" r="1.0" fill="#BA7100" opacity="0.8"/>
<circle cx="67.9" cy="138.0" r="0.8" fill="#BA7100" opacity="0.8"/>
<circle cx="61.4" cy="136.3" r="0.6" fill="#BA7100" opacity="0.8"/>
<circle cx="60.9" cy="140.3" r="0.4" fill="#BA7100" opacity="0.8"/>
<circle cx="56.4" cy="137.1" r="0.6" fill="#BA7100" opacity="0.8"/>
<circle cx="60.5" cy="140.8" r="0.5" fill="#BA7100" opacity="0.8"/>
<circle cx="57.5" cy="134.8" r="0.8" fill="#BA7100" opacity="0.8"/>
<circle cx="63.8" cy="136.2" r="0.5" fill="#BA7100" opacity="0.8"/>
<circle cx="62.9" cy="138.2" r="0.7" fill="#BA7100" opacity="0.8"/>
<circle cx="65.2" cy="137.5" r="0.9" fill="#BA7100" opacity="0.8"/>
<circle cx="71.4" cy="135.7" r="0.6" fill="#BA7100" opacity="0.8"/>
<circle cx="70.0" cy="135.5" r="0.8" fill="#BA7100" opacity="0.8"/>
<circle cx="66.5" cy="138.5" r="1.0" fill="#BA7100" opacity="0.8"/>
<circle cx="68.8" cy="134.3" r="0.8" fill="#BA7100" opacity="0.8"/>
<circle cx="62.8" cy="137.5" r="0.6" fill="#BA7100" opacity="0.8"/>
<circle cx="59.1" cy="139.0" r="0.7" fill="#BA7100" opacity="0.8"/>
<circle cx="58.3" cy="135.0" r="0.6" fill="#BA7100" opacity="0.8"/>
<circle cx="57.2" cy="137.1" r="0.5" fill="#BA7100" opacity="0.8"/>
<circle cx="55.8" cy="138.6" r="0.5" fill="#BA7100" opacity="0.8"/>
<circle cx="62.1" cy="139.2" r="0.7" fill="#BA7100" opacity="0.8"/>
<circle cx="56.9" cy="139.9" r="0.9" fill="#BA7100" opacity="0.8"/>
<circle cx="63.1" cy="139.4" r="0.6" fill="#BA7100" opacity="0.8"/>
<circle cx="66.9" cy="135.0" r="0.8" fill="#BA7100" opacity="0.8"/>
<circle cx="59.9" cy="135.7" r="0.9" fill="#BA7100" opacity="0.8"/>
<circle cx="69.2" cy="139.6" r="0.7" fill="#BA7100" opacity="0.8"/>
<circle cx="61.6" cy="138.7" r="0.8" fill="#BA7100" opacity="0.8"/>
<circle cx="69.0" cy="139.4" r="0.5" fill="#BA7100" opacity="0.8"/>
<circle cx="60.8" cy="138.4" r="0.5" fill="#BA7100" opacity="0.8"/>
<circle cx="64.5" cy="140.5" r="1.0" fill="#BA7100" opacity="0.8"/>
<circle cx="56.4" cy="138.5" r="0.7" fill="#BA7100" opacity="0.8"/>
<circle cx="65.4" cy="136.2" r="1.0" fill="#BA7100" opacity="0.8"/>
<circle cx="66.8" cy="133.9" r="0.4" fill="#BA7100" opacity="0.8"/>
<circle cx="59.1" cy="138.8" r="1.0" fill="#BA7100" opacity="0.8"/>
<circle cx="56.2" cy="135.6" r="0.4" fill="#BA7100" opacity="0.8"/>
<circle cx="63.8" cy="136.9" r="0.6" fill="#BA7100" opacity="0.8"/>
<circle cx="59.6" cy="139.4" r="0.9" fill="#BA7100" opacity="0.8"/>
<circle cx="60.7" cy="159.7" r="0.7" fill="#BA7100" opacity="0.65"/>
<circle cx="62.8" cy="163.3" r="0.7" fill="#BA7100" opacity="0.65"/>
<circle cx="71.0" cy="156.8" r="0.4" fill="#BA7100" opacity="0.65"/>
<circle cx="60.0" cy="160.9" r="0.4" fill="#BA7100" opacity="0.65"/>
<circle cx="66.3" cy="156.7" r="0.7" fill="#BA7100" opacity="0.65"/>
<circle cx="60.5" cy="157.7" r="0.6" fill="#BA7100" opacity="0.65"/>
<circle cx="62.3" cy="158.1" r="0.4" fill="#BA7100" opacity="0.65"/>
<circle cx="61.2" cy="155.9" r="0.5" fill="#BA7100" opacity="0.65"/>
<circle cx="64.7" cy="167.0" r="0.5" fill="#BA7100" opacity="0.65"/>
<circle cx="72.3" cy="160.8" r="0.6" fill="#BA7100" opacity="0.65"/>
<circle cx="71.1" cy="159.8" r="0.4" fill="#BA7100" opacity="0.65"/>
<circle cx="66.0" cy="162.9" r="0.7" fill="#BA7100" opacity="0.65"/>
<circle cx="60.5" cy="166.3" r="0.8" fill="#BA7100" opacity="0.65"/>
<circle cx="74.9" cy="160.3" r="0.8" fill="#BA7100" opacity="0.65"/>
<circle cx="69.5" cy="157.1" r="0.4" fill="#BA7100" opacity="0.65"/>
<circle cx="56.5" cy="159.3" r="0.8" fill="#BA7100" opacity="0.65"/>
<circle cx="61.2" cy="161.2" r="0.4" fill="#BA7100" opacity="0.65"/>
<circle cx="55.2" cy="161.3" r="0.8" fill="#BA7100" opacity="0.65"/>
<circle cx="70.8" cy="163.8" r="0.6" fill="#BA7100" opacity="0.65"/>
<circle cx="71.1" cy="164.9" r="0.8" fill="#BA7100" opacity="0.65"/>
<circle cx="74.0" cy="159.8" r="0.7" fill="#BA7100" opacity="0.65"/>
<circle cx="60.0" cy="165.9" r="0.4" fill="#BA7100" opacity="0.65"/>
<circle cx="66.5" cy="157.7" r="0.6" fill="#BA7100" opacity="0.65"/>
<circle cx="62.4" cy="162.9" r="0.8" fill="#BA7100" opacity="0.65"/>
<circle cx="62.3" cy="162.7" r="0.5" fill="#BA7100" opacity="0.65"/>
<circle cx="60.6" cy="165.9" r="0.5" fill="#BA7100" opacity="0.65"/>
<circle cx="56.9" cy="159.0" r="0.8" fill="#BA7100" opacity="0.65"/>
<circle cx="59.2" cy="163.9" r="0.7" fill="#BA7100" opacity="0.65"/>
<circle cx="68.6" cy="157.1" r="0.4" fill="#BA7100" opacity="0.65"/>
<circle cx="57.9" cy="159.2" r="0.6" fill="#BA7100" opacity="0.65"/>
<circle cx="55.2" cy="161.0" r="0.6" fill="#BA7100" opacity="0.65"/>
<circle cx="61.4" cy="161.4" r="0.9" fill="#BA7100" opacity="0.65"/>
<circle cx="59.1" cy="165.6" r="0.5" fill="#BA7100" opacity="0.65"/>
<circle cx="70.1" cy="156.3" r="0.9" fill="#BA7100" opacity="0.65"/>
<circle cx="63.6" cy="166.6" r="0.5" fill="#BA7100" opacity="0.65"/>
<circle cx="63.2" cy="163.5" r="0.4" fill="#BA7100" opacity="0.65"/>
<circle cx="60.5" cy="163.1" r="0.9" fill="#BA7100" opacity="0.65"/>
<circle cx="61.4" cy="157.2" r="0.5" fill="#BA7100" opacity="0.65"/>
<circle cx="67.7" cy="159.5" r="0.7" fill="#BA7100" opacity="0.65"/>
<circle cx="59.2" cy="162.4" r="0.8" fill="#BA7100" opacity="0.65"/>
<circle cx="72.1" cy="162.5" r="0.6" fill="#BA7100" opacity="0.65"/>
<circle cx="66.4" cy="156.4" r="0.8" fill="#BA7100" opacity="0.65"/>
<circle cx="68.8" cy="160.4" r="0.7" fill="#BA7100" opacity="0.65"/>
<circle cx="63.4" cy="159.6" r="0.5" fill="#BA7100" opacity="0.65"/>
<circle cx="67.0" cy="161.9" r="0.6" fill="#BA7100" opacity="0.65"/>
<circle cx="55.6" cy="162.5" r="0.6" fill="#BA7100" opacity="0.65"/>
<circle cx="66.9" cy="162.1" r="0.9" fill="#BA7100" opacity="0.65"/>
<circle cx="58.0" cy="160.6" r="0.9" fill="#BA7100" opacity="0.65"/>
<circle cx="69.8" cy="158.8" r="0.8" fill="#BA7100" opacity="0.65"/>
<circle cx="74.8" cy="159.8" r="0.8" fill="#BA7100" opacity="0.65"/>
<circle cx="64.8" cy="157.8" r="0.8" fill="#BA7100" opacity="0.65"/>
<circle cx="68.0" cy="166.3" r="0.8" fill="#BA7100" opacity="0.65"/>
<circle cx="71.0" cy="161.1" r="0.9" fill="#BA7100" opacity="0.65"/>
<circle cx="69.2" cy="158.0" r="0.8" fill="#BA7100" opacity="0.65"/>
<circle cx="64.1" cy="161.4" r="0.8" fill="#BA7100" opacity="0.65"/>
<circle cx="58.9" cy="158.4" r="0.7" fill="#BA7100" opacity="0.65"/>
<circle cx="56.5" cy="161.7" r="0.8" fill="#BA7100" opacity="0.65"/>
<circle cx="64.8" cy="157.9" r="0.8" fill="#BA7100" opacity="0.65"/>
<circle cx="72.1" cy="164.2" r="0.7" fill="#BA7100" opacity="0.65"/>
<circle cx="58.0" cy="159.4" r="0.4" fill="#BA7100" opacity="0.65"/>
<circle cx="55.7" cy="159.1" r="0.8" fill="#BA7100" opacity="0.65"/>
<circle cx="58.6" cy="159.7" r="0.8" fill="#BA7100" opacity="0.65"/>
<circle cx="67.3" cy="165.8" r="0.4" fill="#BA7100" opacity="0.65"/>
<circle cx="67.6" cy="165.5" r="0.8" fill="#BA7100" opacity="0.65"/>
<circle cx="58.9" cy="163.0" r="0.6" fill="#BA7100" opacity="0.65"/>
<circle cx="61.3" cy="162.6" r="0.5" fill="#BA7100" opacity="0.65"/>
<circle cx="67.1" cy="163.3" r="0.4" fill="#BA7100" opacity="0.65"/>
<circle cx="57.6" cy="163.3" r="0.6" fill="#BA7100" opacity="0.65"/>
<circle cx="73.8" cy="162.3" r="0.5" fill="#BA7100" opacity="0.65"/>
<circle cx="68.8" cy="163.8" r="0.5" fill="#BA7100" opacity="0.65"/>
<circle cx="39.7" cy="136.3" r="0.4" fill="#BA7100" opacity="0.6"/>
<circle cx="48.7" cy="136.4" r="0.7" fill="#BA7100" opacity="0.6"/>
<circle cx="42.5" cy="136.7" r="0.6" fill="#BA7100" opacity="0.6"/>
<circle cx="57.4" cy="135.8" r="0.7" fill="#BA7100" opacity="0.6"/>
<circle cx="37.6" cy="137.6" r="0.4" fill="#BA7100" opacity="0.6"/>
<circle cx="55.4" cy="135.3" r="0.7" fill="#BA7100" opacity="0.6"/>
<circle cx="49.9" cy="136.6" r="0.8" fill="#BA7100" opacity="0.6"/>
<circle cx="41.9" cy="138.9" r="0.6" fill="#BA7100" opacity="0.6"/>
<circle cx="43.6" cy="133.5" r="0.5" fill="#BA7100" opacity="0.6"/>
<circle cx="38.9" cy="136.5" r="0.8" fill="#BA7100" opacity="0.6"/>
<circle cx="39.2" cy="138.6" r="0.6" fill="#BA7100" opacity="0.6"/>
<circle cx="37.9" cy="136.3" r="0.4" fill="#BA7100" opacity="0.6"/>
<circle cx="56.1" cy="135.0" r="0.5" fill="#BA7100" opacity="0.6"/>
<circle cx="40.6" cy="139.6" r="0.7" fill="#BA7100" opacity="0.6"/>
<circle cx="47.5" cy="137.4" r="0.3" fill="#BA7100" opacity="0.6"/>
<circle cx="41.2" cy="136.0" r="0.7" fill="#BA7100" opacity="0.6"/>
<circle cx="49.7" cy="135.8" r="0.7" fill="#BA7100" opacity="0.6"/>
<circle cx="48.7" cy="136.8" r="0.5" fill="#BA7100" opacity="0.6"/>
<circle cx="44.0" cy="135.5" r="0.6" fill="#BA7100" opacity="0.6"/>
<circle cx="48.0" cy="140.8" r="0.8" fill="#BA7100" opacity="0.6"/>
<circle cx="54.2" cy="138.2" r="0.7" fill="#BA7100" opacity="0.6"/>
<circle cx="43.9" cy="136.2" r="0.6" fill="#BA7100" opacity="0.6"/>
<circle cx="36.9" cy="136.0" r="0.4" fill="#BA7100" opacity="0.6"/>
<circle cx="42.1" cy="138.9" r="0.3" fill="#BA7100" opacity="0.6"/>
<circle cx="35.7" cy="138.2" r="0.6" fill="#BA7100" opacity="0.6"/>
<circle cx="51.8" cy="135.0" r="0.7" fill="#BA7100" opacity="0.6"/>
<circle cx="51.5" cy="139.2" r="0.4" fill="#BA7100" opacity="0.6"/>
<circle cx="44.1" cy="133.1" r="0.7" fill="#BA7100" opacity="0.6"/>
<circle cx="31.7" cy="135.8" r="0.6" fill="#BA7100" opacity="0.6"/>
<circle cx="45.9" cy="133.9" r="0.7" fill="#BA7100" opacity="0.6"/>
<circle cx="39.4" cy="137.1" r="0.4" fill="#BA7100" opacity="0.6"/>
<circle cx="46.9" cy="134.0" r="0.3" fill="#BA7100" opacity="0.6"/>
<circle cx="45.3" cy="135.4" r="0.7" fill="#BA7100" opacity="0.6"/>
<circle cx="37.9" cy="136.3" r="0.3" fill="#BA7100" opacity="0.6"/>
<circle cx="37.1" cy="136.6" r="0.6" fill="#BA7100" opacity="0.6"/>
<circle cx="43.9" cy="139.8" r="0.4" fill="#BA7100" opacity="0.6"/>
<circle cx="54.8" cy="134.2" r="0.8" fill="#BA7100" opacity="0.6"/>
<circle cx="45.7" cy="136.3" r="0.6" fill="#BA7100" opacity="0.6"/>
<circle cx="42.6" cy="133.1" r="0.4" fill="#BA7100" opacity="0.6"/>
<circle cx="53.9" cy="138.9" r="0.7" fill="#BA7100" opacity="0.6"/>
<circle cx="35.4" cy="137.2" r="0.3" fill="#BA7100" opacity="0.6"/>
<circle cx="34.1" cy="135.4" r="0.8" fill="#BA7100" opacity="0.6"/>
<circle cx="49.0" cy="139.8" r="0.3" fill="#BA7100" opacity="0.6"/>
<circle cx="42.7" cy="133.6" r="0.4" fill="#BA7100" opacity="0.6"/>
<circle cx="40.2" cy="136.9" r="0.6" fill="#BA7100" opacity="0.6"/>
<circle cx="46.9" cy="137.0" r="0.8" fill="#BA7100" opacity="0.6"/>
<circle cx="42.0" cy="135.4" r="0.7" fill="#BA7100" opacity="0.6"/>
<circle cx="38.2" cy="135.9" r="0.5" fill="#BA7100" opacity="0.6"/>
<circle cx="44.4" cy="135.9" r="0.5" fill="#BA7100" opacity="0.6"/>
<circle cx="43.6" cy="133.4" r="0.7" fill="#BA7100" opacity="0.6"/>
<circle cx="12.1" cy="128.2" r="0.7" fill="#BA7100" opacity="0.8"/>
<circle cx="18.2" cy="126.3" r="0.4" fill="#BA7100" opacity="0.8"/>
<circle cx="17.7" cy="126.9" r="0.6" fill="#BA7100" opacity="0.8"/>
<circle cx="15.1" cy="129.5" r="0.6" fill="#BA7100" opacity="0.8"/>
<circle cx="11.2" cy="127.4" r="0.9" fill="#BA7100" opacity="0.8"/>
<circle cx="28.3" cy="127.2" r="0.7" fill="#BA7100" opacity="0.8"/>
<circle cx="17.6" cy="126.8" r="0.7" fill="#BA7100" opacity="0.8"/>
<circle cx="21.6" cy="126.9" r="0.6" fill="#BA7100" opacity="0.8"/>
<circle cx="20.3" cy="129.5" r="0.4" fill="#BA7100" opacity="0.8"/>
<circle cx="12.7" cy="126.5" r="0.5" fill="#BA7100" opacity="0.8"/>
<circle cx="25.3" cy="127.6" r="0.8" fill="#BA7100" opacity="0.8"/>
<circle cx="18.2" cy="126.7" r="0.7" fill="#BA7100" opacity="0.8"/>
<circle cx="26.0" cy="127.0" r="0.6" fill="#BA7100" opacity="0.8"/>
<circle cx="25.7" cy="129.7" r="0.7" fill="#BA7100" opacity="0.8"/>
<circle cx="11.9" cy="128.7" r="0.7" fill="#BA7100" opacity="0.8"/>
<circle cx="27.7" cy="128.8" r="0.4" fill="#BA7100" opacity="0.8"/>
<circle cx="24.3" cy="127.5" r="0.7" fill="#BA7100" opacity="0.8"/>
<circle cx="18.9" cy="129.5" r="0.6" fill="#BA7100" opacity="0.8"/>
<circle cx="19.1" cy="127.6" r="0.5" fill="#BA7100" opacity="0.8"/>
<circle cx="16.8" cy="129.4" r="0.4" fill="#BA7100" opacity="0.8"/>
<circle cx="23.0" cy="128.3" r="0.5" fill="#BA7100" opacity="0.8"/>
<circle cx="13.1" cy="126.9" r="0.9" fill="#BA7100" opacity="0.8"/>
<circle cx="21.1" cy="130.5" r="0.5" fill="#BA7100" opacity="0.8"/>
<circle cx="18.5" cy="128.2" r="0.8" fill="#BA7100" opacity="0.8"/>
<circle cx="19.5" cy="125.2" r="0.6" fill="#BA7100" opacity="0.8"/>
<circle cx="17.8" cy="129.0" r="0.9" fill="#BA7100" opacity="0.8"/>
<circle cx="19.9" cy="129.1" r="0.6" fill="#BA7100" opacity="0.8"/>
<circle cx="25.0" cy="125.6" r="0.8" fill="#BA7100" opacity="0.8"/>
<circle cx="14.0" cy="128.5" r="0.5" fill="#BA7100" opacity="0.8"/>
<circle cx="17.2" cy="126.0" r="0.6" fill="#BA7100" opacity="0.8"/>
<circle cx="21.6" cy="128.1" r="0.6" fill="#BA7100" opacity="0.8"/>
<circle cx="21.3" cy="130.1" r="0.6" fill="#BA7100" opacity="0.8"/>
<circle cx="21.5" cy="127.9" r="0.9" fill="#BA7100" opacity="0.8"/>
<circle cx="16.9" cy="129.2" r="0.5" fill="#BA7100" opacity="0.8"/>
<circle cx="15.7" cy="129.4" r="0.7" fill="#BA7100" opacity="0.8"/>
<circle cx="15.6" cy="125.4" r="0.8" fill="#BA7100" opacity="0.8"/>
<circle cx="17.8" cy="129.3" r="0.6" fill="#BA7100" opacity="0.8"/>
<circle cx="22.1" cy="128.4" r="0.9" fill="#BA7100" opacity="0.8"/>
<circle cx="27.4" cy="127.7" r="0.6" fill="#BA7100" opacity="0.8"/>
<circle cx="15.2" cy="129.5" r="0.5" fill="#BA7100" opacity="0.8"/>
<circle cx="16.5" cy="130.1" r="0.4" fill="#BA7100" opacity="0.8"/>
<circle cx="23.6" cy="128.4" r="0.7" fill="#BA7100" opacity="0.8"/>
<circle cx="17.0" cy="125.9" r="0.9" fill="#BA7100" opacity="0.8"/>
<circle cx="24.8" cy="129.8" r="0.4" fill="#BA7100" opacity="0.8"/>
<circle cx="25.1" cy="126.3" r="0.5" fill="#BA7100" opacity="0.8"/>
<circle cx="20.6" cy="128.7" r="0.5" fill="#BA7100" opacity="0.8"/>
<circle cx="24.8" cy="128.5" r="0.8" fill="#BA7100" opacity="0.8"/>
<circle cx="27.6" cy="129.1" r="0.6" fill="#BA7100" opacity="0.8"/>
<circle cx="16.2" cy="130.1" r="0.8" fill="#BA7100" opacity="0.8"/>
<circle cx="15.8" cy="126.5" r="0.4" fill="#BA7100" opacity="0.8"/>
<circle cx="46.0" cy="131.5" r="0.5" fill="#BA7100" opacity="0.8"/>
<circle cx="38.1" cy="131.0" r="0.6" fill="#BA7100" opacity="0.8"/>
<circle cx="38.6" cy="131.6" r="0.5" fill="#BA7100" opacity="0.8"/>
<circle cx="45.3" cy="134.0" r="0.5" fill="#BA7100" opacity="0.8"/>
<circle cx="48.1" cy="132.7" r="0.8" fill="#BA7100" opacity="0.8"/>
<circle cx="46.0" cy="133.1" r="0.9" fill="#BA7100" opacity="0.8"/>
<circle cx="52.7" cy="131.5" r="0.4" fill="#BA7100" opacity="0.8"/>
<circle cx="57.2" cy="132.0" r="0.8" fill="#BA7100" opacity="0.8"/>
<circle cx="37.5" cy="132.3" r="0.6" fill="#BA7100" opacity="0.8"/>
<circle cx="51.4" cy="134.3" r="0.7" fill="#BA7100" opacity="0.8"/>
<circle cx="46.8" cy="131.9" r="0.5" fill="#BA7100" opacity="0.8"/>
<circle cx="57.3" cy="133.1" r="0.4" fill="#BA7100" opacity="0.8"/>
<circle cx="46.8" cy="131.0" r="0.9" fill="#BA7100" opacity="0.8"/>
<circle cx="39.7" cy="134.0" r="0.4" fill="#BA7100" opacity="0.8"/>
<circle cx="49.7" cy="130.8" r="0.4" fill="#BA7100" opacity="0.8"/>
<circle cx="47.0" cy="134.4" r="0.7" fill="#BA7100" opacity="0.8"/>
<circle cx="54.9" cy="133.6" r="0.7" fill="#BA7100" opacity="0.8"/>
<circle cx="33.2" cy="132.6" r="0.5" fill="#BA7100" opacity="0.8"/>
<circle cx="45.7" cy="131.9" r="0.6" fill="#BA7100" opacity="0.8"/>
<circle cx="36.5" cy="133.3" r="0.6" fill="#BA7100" opacity="0.8"/>
<circle cx="44.6" cy="130.8" r="0.6" fill="#BA7100" opacity="0.8"/>
<circle cx="46.6" cy="134.4" r="0.7" fill="#BA7100" opacity="0.8"/>
<circle cx="34.8" cy="131.7" r="0.6" fill="#BA7100" opacity="0.8"/>
<circle cx="50.7" cy="134.3" r="0.9" fill="#BA7100" opacity="0.8"/>
<circle cx="31.6" cy="132.5" r="0.7" fill="#BA7100" opacity="0.8"/>
<circle cx="50.2" cy="133.0" r="0.7" fill="#BA7100" opacity="0.8"/>
<circle cx="45.5" cy="134.3" r="0.4" fill="#BA7100" opacity="0.8"/>
<circle cx="50.3" cy="132.6" r="0.7" fill="#BA7100" opacity="0.8"/>
<circle cx="52.2" cy="133.7" r="0.4" fill="#BA7100" opacity="0.8"/>
<circle cx="42.4" cy="131.8" r="0.6" fill="#BA7100" opacity="0.8"/>
<circle cx="38.3" cy="132.8" r="0.7" fill="#BA7100" opacity="0.8"/>
<circle cx="40.4" cy="133.2" r="0.6" fill="#BA7100" opacity="0.8"/>
<circle cx="37.6" cy="134.0" r="0.5" fill="#BA7100" opacity="0.8"/>
<circle cx="35.2" cy="131.5" r="0.6" fill="#BA7100" opacity="0.8"/>
<circle cx="52.9" cy="131.8" r="0.5" fill="#BA7100" opacity="0.8"/>
<circle cx="49.3" cy="131.5" r="0.7" fill="#BA7100" opacity="0.8"/>
<circle cx="38.1" cy="134.0" r="0.5" fill="#BA7100" opacity="0.8"/>
<circle cx="37.5" cy="131.7" r="0.6" fill="#BA7100" opacity="0.8"/>
<circle cx="51.3" cy="133.2" r="0.8" fill="#BA7100" opacity="0.8"/>
<circle cx="46.1" cy="130.8" r="0.8" fill="#BA7100" opacity="0.8"/>
<circle cx="37.8" cy="131.4" r="0.6" fill="#BA7100" opacity="0.8"/>
<circle cx="41.0" cy="134.1" r="0.9" fill="#BA7100" opacity="0.8"/>
<circle cx="41.8" cy="131.0" r="0.8" fill="#BA7100" opacity="0.8"/>
<circle cx="52.9" cy="131.9" r="0.8" fill="#BA7100" opacity="0.8"/>
<circle cx="41.6" cy="131.6" r="0.7" fill="#BA7100" opacity="0.8"/>
<circle cx="51.8" cy="132.4" r="0.8" fill="#BA7100" opacity="0.8"/>
<circle cx="31.4" cy="132.5" r="0.6" fill="#BA7100" opacity="0.8"/>
<circle cx="35.0" cy="131.3" r="0.8" fill="#BA7100" opacity="0.8"/>
<circle cx="40.6" cy="134.2" r="0.5" fill="#BA7100" opacity="0.8"/>
<circle cx="51.0" cy="134.3" r="0.5" fill="#BA7100" opacity="0.8"/>
<circle cx="68.7" cy="122.1" r="0.8" fill="#BA7100" opacity="0.8"/>
<circle cx="75.1" cy="120.2" r="0.5" fill="#BA7100" opacity="0.8"/>
<circle cx="71.5" cy="123.6" r="0.4" fill="#BA7100" opacity="0.8"/>
<circle cx="69.7" cy="120.1" r="0.4" fill="#BA7100" opacity="0.8"/>
<circle cx="72.1" cy="119.1" r="0.5" fill="#BA7100" opacity="0.8"/>
<circle cx="76.5" cy="121.2" r="0.7" fill="#BA7100" opacity="0.8"/>
<circle cx="81.2" cy="121.2" r="0.9" fill="#BA7100" opacity="0.8"/>
<circle cx="67.5" cy="119.9" r="0.8" fill="#BA7100" opacity="0.8"/>
<circle cx="84.5" cy="121.0" r="0.5" fill="#BA7100" opacity="0.8"/>
<circle cx="72.6" cy="121.4" r="0.5" fill="#BA7100" opacity="0.8"/>
<circle cx="75.2" cy="121.6" r="0.8" fill="#BA7100" opacity="0.8"/>
<circle cx="75.3" cy="119.1" r="0.9" fill="#BA7100" opacity="0.8"/>
<circle cx="81.3" cy="120.4" r="0.4" fill="#BA7100" opacity="0.8"/>
<circle cx="69.3" cy="119.0" r="0.8" fill="#BA7100" opacity="0.8"/>
<circle cx="70.4" cy="122.8" r="0.6" fill="#BA7100" opacity="0.8"/>
<circle cx="79.1" cy="120.8" r="0.5" fill="#BA7100" opacity="0.8"/>
<circle cx="78.4" cy="120.2" r="0.6" fill="#BA7100" opacity="0.8"/>
<circle cx="78.5" cy="119.9" r="0.6" fill="#BA7100" opacity="0.8"/>
<circle cx="83.7" cy="121.5" r="0.6" fill="#BA7100" opacity="0.8"/>
<circle cx="76.8" cy="120.8" r="0.6" fill="#BA7100" opacity="0.8"/>
<circle cx="84.3" cy="119.4" r="0.9" fill="#BA7100" opacity="0.8"/>
<circle cx="69.3" cy="121.1" r="0.9" fill="#BA7100" opacity="0.8"/>
<circle cx="71.8" cy="119.0" r="0.8" fill="#BA7100" opacity="0.8"/>
<circle cx="70.7" cy="121.5" r="0.5" fill="#BA7100" opacity="0.8"/>
<circle cx="84.9" cy="119.7" r="0.4" fill="#BA7100" opacity="0.8"/>
<circle cx="79.7" cy="120.1" r="0.7" fill="#BA7100" opacity="0.8"/>
<circle cx="75.9" cy="123.5" r="0.7" fill="#BA7100" opacity="0.8"/>
<circle cx="75.9" cy="119.6" r="0.7" fill="#BA7100" opacity="0.8"/>
<circle cx="78.6" cy="120.8" r="0.4" fill="#BA7100" opacity="0.8"/>
<circle cx="76.0" cy="120.9" r="0.7" fill="#BA7100" opacity="0.8"/>
<circle cx="74.9" cy="118.5" r="0.8" fill="#BA7100" opacity="0.8"/>
<circle cx="70.7" cy="123.0" r="0.8" fill="#BA7100" opacity="0.8"/>
<circle cx="71.1" cy="123.4" r="0.7" fill="#BA7100" opacity="0.8"/>
<circle cx="74.5" cy="121.3" r="0.9" fill="#BA7100" opacity="0.8"/>
<circle cx="75.8" cy="120.9" r="0.5" fill="#BA7100" opacity="0.8"/>
<circle cx="82.8" cy="121.0" r="0.6" fill="#BA7100" opacity="0.8"/>
<circle cx="69.9" cy="119.3" r="0.8" fill="#BA7100" opacity="0.8"/>
<circle cx="84.3" cy="122.1" r="0.8" fill="#BA7100" opacity="0.8"/>
<circle cx="80.2" cy="122.9" r="0.8" fill="#BA7100" opacity="0.8"/>
<circle cx="69.5" cy="122.9" r="0.6" fill="#BA7100" opacity="0.8"/>
<circle cx="70.9" cy="123.5" r="0.4" fill="#BA7100" opacity="0.8"/>
<circle cx="76.2" cy="120.1" r="0.8" fill="#BA7100" opacity="0.8"/>
<circle cx="78.2" cy="123.5" r="0.9" fill="#BA7100" opacity="0.8"/>
<circle cx="78.9" cy="118.4" r="0.7" fill="#BA7100" opacity="0.8"/>
<circle cx="83.4" cy="119.9" r="0.5" fill="#BA7100" opacity="0.8"/>
<circle cx="79.9" cy="122.5" r="0.9" fill="#BA7100" opacity="0.8"/>
<circle cx="78.5" cy="118.8" r="0.8" fill="#BA7100" opacity="0.8"/>
<circle cx="81.4" cy="122.7" r="0.8" fill="#BA7100" opacity="0.8"/>
<circle cx="77.4" cy="123.7" r="0.7" fill="#BA7100" opacity="0.8"/>
<circle cx="75.8" cy="120.3" r="0.6" fill="#BA7100" opacity="0.8"/>
<circle cx="81.9" cy="119.4" r="0.7" fill="#BA7100" opacity="0.8"/>
<circle cx="81.5" cy="122.2" r="0.7" fill="#BA7100" opacity="0.8"/>
<circle cx="72.3" cy="119.6" r="0.5" fill="#BA7100" opacity="0.8"/>
<circle cx="79.0" cy="122.1" r="0.9" fill="#BA7100" opacity="0.8"/>
<circle cx="72.6" cy="123.6" r="0.9" fill="#BA7100" opacity="0.8"/>
<circle cx="71.8" cy="123.7" r="0.7" fill="#BA7100" opacity="0.8"/>
<circle cx="72.7" cy="119.7" r="0.7" fill="#BA7100" opacity="0.8"/>
<circle cx="75.8" cy="118.2" r="0.8" fill="#BA7100" opacity="0.8"/>
<circle cx="76.7" cy="120.8" r="0.8" fill="#BA7100" opacity="0.8"/>
<circle cx="71.0" cy="119.2" r="0.7" fill="#BA7100" opacity="0.8"/>
<circle cx="70.8" cy="120.0" r="0.4" fill="#BA7100" opacity="0.8"/>
<circle cx="67.0" cy="120.1" r="0.7" fill="#BA7100" opacity="0.8"/>
<circle cx="85.0" cy="121.8" r="0.6" fill="#BA7100" opacity="0.8"/>
<circle cx="74.1" cy="119.4" r="0.6" fill="#BA7100" opacity="0.8"/>
<circle cx="74.7" cy="122.1" r="0.8" fill="#BA7100" opacity="0.8"/>
<circle cx="77.1" cy="121.8" r="0.9" fill="#BA7100" opacity="0.8"/>
<circle cx="84.1" cy="119.5" r="0.7" fill="#BA7100" opacity="0.8"/>
<circle cx="85.9" cy="121.2" r="0.5" fill="#BA7100" opacity="0.8"/>
<circle cx="69.0" cy="121.3" r="0.5" fill="#BA7100" opacity="0.8"/>
<circle cx="80.4" cy="122.4" r="0.6" fill="#BA7100" opacity="0.8"/>
<circle cx="12.1" cy="117.9" r="0.9" fill="#E0E0EE" opacity="1.0"/>
<circle cx="9.7" cy="116.6" r="0.6" fill="#E0E0EE" opacity="1.0"/>
<circle cx="9.8" cy="119.7" r="0.9" fill="#E0E0EE" opacity="1.0"/>
<circle cx="8.2" cy="118.2" r="0.7" fill="#E0E0EE" opacity="1.0"/>
<circle cx="7.0" cy="116.6" r="0.8" fill="#E0E0EE" opacity="1.0"/>
<circle cx="12.0" cy="116.4" r="0.8" fill="#E0E0EE" opacity="1.0"/>
<circle cx="11.5" cy="117.7" r="0.5" fill="#E0E0EE" opacity="1.0"/>
<circle cx="11.7" cy="114.8" r="0.5" fill="#E0E0EE" opacity="1.0"/>
<circle cx="9.8" cy="114.1" r="0.5" fill="#E0E0EE" opacity="1.0"/>
<circle cx="9.1" cy="116.8" r="0.6" fill="#E0E0EE" opacity="1.0"/>
<circle cx="9.9" cy="117.5" r="0.7" fill="#E0E0EE" opacity="1.0"/>
<circle cx="8.4" cy="115.3" r="0.9" fill="#E0E0EE" opacity="1.0"/>
<circle cx="10.1" cy="116.5" r="0.7" fill="#E0E0EE" opacity="1.0"/>
<circle cx="13.1" cy="115.5" r="0.9" fill="#E0E0EE" opacity="1.0"/>
<circle cx="11.7" cy="116.7" r="0.7" fill="#E0E0EE" opacity="1.0"/>
<circle cx="9.5" cy="116.7" r="0.7" fill="#E0E0EE" opacity="1.0"/>
<circle cx="11.0" cy="116.5" r="0.7" fill="#E0E0EE" opacity="1.0"/>
<circle cx="12.2" cy="116.7" r="0.7" fill="#E0E0EE" opacity="1.0"/>
<circle cx="13.0" cy="116.7" r="0.7" fill="#E0E0EE" opacity="1.0"/>
<circle cx="12.3" cy="116.4" r="0.8" fill="#E0E0EE" opacity="1.0"/>
<circle cx="11.9" cy="115.8" r="0.9" fill="#E0E0EE" opacity="1.0"/>
<circle cx="13.6" cy="117.9" r="0.8" fill="#E0E0EE" opacity="1.0"/>
<circle cx="9.5" cy="117.9" r="0.6" fill="#E0E0EE" opacity="1.0"/>
<circle cx="12.2" cy="117.2" r="1.0" fill="#E0E0EE" opacity="1.0"/>
<circle cx="8.7" cy="118.3" r="0.5" fill="#E0E0EE" opacity="1.0"/>
<circle cx="33.3" cy="159.1" r="0.7" fill="#FFBDD7" opacity="0.8"/>
<circle cx="34.9" cy="155.8" r="0.7" fill="#FFBDD7" opacity="0.8"/>
<circle cx="34.7" cy="159.4" r="1.0" fill="#FFBDD7" opacity="0.8"/>
<circle cx="33.1" cy="158.0" r="0.9" fill="#FFBDD7" opacity="0.8"/>
<circle cx="36.1" cy="159.0" r="0.8" fill="#FFBDD7" opacity="0.8"/>
<circle cx="32.0" cy="158.7" r="0.8" fill="#FFBDD7" opacity="0.8"/>
<circle cx="34.4" cy="160.4" r="0.6" fill="#FFBDD7" opacity="0.8"/>
<circle cx="36.2" cy="156.4" r="0.9" fill="#FFBDD7" opacity="0.8"/>
<circle cx="34.5" cy="157.7" r="0.8" fill="#FFBDD7" opacity="0.8"/>
<circle cx="31.3" cy="158.3" r="1.0" fill="#FFBDD7" opacity="0.8"/>
<circle cx="35.3" cy="156.2" r="1.0" fill="#FFBDD7" opacity="0.8"/>
<circle cx="33.4" cy="155.4" r="0.9" fill="#FFBDD7" opacity="0.8"/>
<circle cx="33.7" cy="157.7" r="1.1" fill="#FFBDD7" opacity="0.8"/>
<circle cx="34.6" cy="160.2" r="0.7" fill="#FFBDD7" opacity="0.8"/>
<circle cx="36.1" cy="155.0" r="0.7" fill="#FFBDD7" opacity="0.8"/>
<circle cx="35.5" cy="158.6" r="1.0" fill="#FFBDD7" opacity="0.8"/>
<circle cx="33.0" cy="156.1" r="0.7" fill="#FFBDD7" opacity="0.8"/>
<circle cx="34.3" cy="154.6" r="0.7" fill="#FFBDD7" opacity="0.8"/>
<circle cx="35.3" cy="155.4" r="0.7" fill="#FFBDD7" opacity="0.8"/>
<circle cx="32.0" cy="155.6" r="0.6" fill="#FFBDD7" opacity="0.8"/>
<circle cx="35.9" cy="156.1" r="0.8" fill="#FFBDD7" opacity="0.8"/>
<circle cx="36.6" cy="159.7" r="0.6" fill="#FFBDD7" opacity="0.8"/>
<circle cx="35.6" cy="158.7" r="0.7" fill="#FFBDD7" opacity="0.8"/>
<circle cx="37.0" cy="155.8" r="0.8" fill="#FFBDD7" opacity="0.8"/>
<circle cx="32.5" cy="157.2" r="1.0" fill="#FFBDD7" opacity="0.8"/>
<circle cx="34.6" cy="158.2" r="1.1" fill="#FFBDD7" opacity="0.8"/>
<circle cx="31.8" cy="155.8" r="0.9" fill="#FFBDD7" opacity="0.8"/>
<circle cx="32.7" cy="157.1" r="0.8" fill="#FFBDD7" opacity="0.8"/>
<circle cx="35.4" cy="155.5" r="0.7" fill="#FFBDD7" opacity="0.8"/>
<circle cx="35.7" cy="155.8" r="1.0" fill="#FFBDD7" opacity="0.8"/>
<circle cx="59.7" cy="153.4" r="0.7" fill="#FFBDD7" opacity="0.7"/>
<circle cx="53.3" cy="156.3" r="0.5" fill="#FFBDD7" opacity="0.7"/>
<circle cx="58.0" cy="152.4" r="1.0" fill="#FFBDD7" opacity="0.7"/>
<circle cx="56.4" cy="155.5" r="0.6" fill="#FFBDD7" opacity="0.7"/>
<circle cx="51.4" cy="154.1" r="1.1" fill="#FFBDD7" opacity="0.7"/>
<circle cx="57.0" cy="157.2" r="0.5" fill="#FFBDD7" opacity="0.7"/>
<circle cx="58.0" cy="153.1" r="0.7" fill="#FFBDD7" opacity="0.7"/>
<circle cx="57.7" cy="156.2" r="0.7" fill="#FFBDD7" opacity="0.7"/>
<circle cx="55.7" cy="153.7" r="0.8" fill="#FFBDD7" opacity="0.7"/>
<circle cx="54.6" cy="154.2" r="0.6" fill="#FFBDD7" opacity="0.7"/>
<circle cx="53.9" cy="153.6" r="0.5" fill="#FFBDD7" opacity="0.7"/>
<circle cx="54.1" cy="155.6" r="0.7" fill="#FFBDD7" opacity="0.7"/>
<circle cx="55.7" cy="155.1" r="0.7" fill="#FFBDD7" opacity="0.7"/>
<circle cx="59.9" cy="156.5" r="0.9" fill="#FFBDD7" opacity="0.7"/>
<circle cx="57.6" cy="156.2" r="0.8" fill="#FFBDD7" opacity="0.7"/>
<circle cx="55.1" cy="154.3" r="0.8" fill="#FFBDD7" opacity="0.7"/>
<circle cx="55.7" cy="155.2" r="0.8" fill="#FFBDD7" opacity="0.7"/>
<circle cx="58.9" cy="157.4" r="0.6" fill="#FFBDD7" opacity="0.7"/>
<circle cx="57.2" cy="153.7" r="0.6" fill="#FFBDD7" opacity="0.7"/>
<circle cx="59.7" cy="157.0" r="0.9" fill="#FFBDD7" opacity="0.7"/>
<circle cx="57.9" cy="156.5" r="0.8" fill="#FFBDD7" opacity="0.7"/>
<circle cx="55.0" cy="155.3" r="1.0" fill="#FFBDD7" opacity="0.7"/>
<circle cx="56.4" cy="155.1" r="0.7" fill="#FFBDD7" opacity="0.7"/>
<circle cx="59.6" cy="155.1" r="1.1" fill="#FFBDD7" opacity="0.7"/>
<circle cx="54.9" cy="155.8" r="0.6" fill="#FFBDD7" opacity="0.7"/>
<circle cx="56.6" cy="157.6" r="0.8" fill="#FFBDD7" opacity="0.7"/>
<circle cx="58.6" cy="155.6" r="0.8" fill="#FFBDD7" opacity="0.7"/>
<circle cx="52.7" cy="154.8" r="1.0" fill="#FFBDD7" opacity="0.7"/>
<circle cx="57.7" cy="153.3" r="0.8" fill="#FFBDD7" opacity="0.7"/>
<circle cx="56.4" cy="154.0" r="0.8" fill="#FFBDD7" opacity="0.7"/>
<circle cx="77.6" cy="154.1" r="0.6" fill="#FFBDD7" opacity="0.8"/>
<circle cx="77.9" cy="155.1" r="0.5" fill="#FFBDD7" opacity="0.8"/>
<circle cx="79.1" cy="155.7" r="1.1" fill="#FFBDD7" opacity="0.8"/>
<circle cx="76.7" cy="154.5" r="0.9" fill="#FFBDD7" opacity="0.8"/>
<circle cx="73.1" cy="158.1" r="0.9" fill="#FFBDD7" opacity="0.8"/>
<circle cx="71.7" cy="155.0" r="0.5" fill="#FFBDD7" opacity="0.8"/>
<circle cx="72.0" cy="156.4" r="1.1" fill="#FFBDD7" opacity="0.8"/>
<circle cx="73.9" cy="155.3" r="1.0" fill="#FFBDD7" opacity="0.8"/>
<circle cx="72.2" cy="157.2" r="0.9" fill="#FFBDD7" opacity="0.8"/>
<circle cx="76.8" cy="155.9" r="1.0" fill="#FFBDD7" opacity="0.8"/>
<circle cx="73.0" cy="157.6" r="0.6" fill="#FFBDD7" opacity="0.8"/>
<circle cx="75.9" cy="158.8" r="0.6" fill="#FFBDD7" opacity="0.8"/>
<circle cx="73.3" cy="158.6" r="0.9" fill="#FFBDD7" opacity="0.8"/>
<circle cx="72.8" cy="155.4" r="1.0" fill="#FFBDD7" opacity="0.8"/>
<circle cx="78.0" cy="157.1" r="0.7" fill="#FFBDD7" opacity="0.8"/>
<circle cx="78.6" cy="156.5" r="0.5" fill="#FFBDD7" opacity="0.8"/>
<circle cx="75.9" cy="155.9" r="0.8" fill="#FFBDD7" opacity="0.8"/>
<circle cx="81.8" cy="155.9" r="0.7" fill="#FFBDD7" opacity="0.8"/>
<circle cx="71.8" cy="157.0" r="1.0" fill="#FFBDD7" opacity="0.8"/>
<circle cx="72.2" cy="156.5" r="0.8" fill="#FFBDD7" opacity="0.8"/>
<circle cx="79.2" cy="156.8" r="0.6" fill="#FFBDD7" opacity="0.8"/>
<circle cx="72.3" cy="157.6" r="0.5" fill="#FFBDD7" opacity="0.8"/>
<circle cx="72.3" cy="156.3" r="1.0" fill="#FFBDD7" opacity="0.8"/>
<circle cx="77.4" cy="157.7" r="1.0" fill="#FFBDD7" opacity="0.8"/>
<circle cx="79.9" cy="154.7" r="0.6" fill="#FFBDD7" opacity="0.8"/>
<circle cx="80.5" cy="155.9" r="0.6" fill="#FFBDD7" opacity="0.8"/>
<circle cx="77.2" cy="158.6" r="0.5" fill="#FFBDD7" opacity="0.8"/>
<circle cx="71.4" cy="155.4" r="0.6" fill="#FFBDD7" opacity="0.8"/>
<circle cx="71.3" cy="155.0" r="0.9" fill="#FFBDD7" opacity="0.8"/>
<circle cx="72.0" cy="154.8" r="0.8" fill="#FFBDD7" opacity="0.8"/>
<circle cx="74.5" cy="154.7" r="0.8" fill="#FFBDD7" opacity="0.8"/>
<circle cx="76.1" cy="155.9" r="0.8" fill="#FFBDD7" opacity="0.8"/>
<circle cx="70.5" cy="157.1" r="0.6" fill="#FFBDD7" opacity="0.8"/>
<circle cx="80.7" cy="156.9" r="0.7" fill="#FFBDD7" opacity="0.8"/>
<circle cx="76.5" cy="158.7" r="0.6" fill="#FFBDD7" opacity="0.8"/>
<circle cx="97.2" cy="171.7" r="1.1" fill="#FFBDD7" opacity="0.5"/>
<circle cx="105.0" cy="173.3" r="0.7" fill="#FFBDD7" opacity="0.5"/>
<circle cx="94.8" cy="168.3" r="1.5" fill="#FFBDD7" opacity="0.5"/>
<circle cx="106.8" cy="171.6" r="1.6" fill="#FFBDD7" opacity="0.5"/>
<circle cx="92.5" cy="169.1" r="1.6" fill="#FFBDD7" opacity="0.5"/>
<circle cx="106.4" cy="166.9" r="1.7" fill="#FFBDD7" opacity="0.5"/>
<circle cx="105.8" cy="172.9" r="1.1" fill="#FFBDD7" opacity="0.5"/>
<circle cx="102.5" cy="173.7" r="1.6" fill="#FFBDD7" opacity="0.5"/>
<circle cx="101.9" cy="173.1" r="1.7" fill="#FFBDD7" opacity="0.5"/>
<circle cx="108.1" cy="171.2" r="1.7" fill="#FFBDD7" opacity="0.5"/>
<circle cx="91.4" cy="169.2" r="1.3" fill="#FFBDD7" opacity="0.5"/>
<circle cx="91.2" cy="172.2" r="0.8" fill="#FFBDD7" opacity="0.5"/>
<circle cx="103.1" cy="168.2" r="1.0" fill="#FFBDD7" opacity="0.5"/>
<circle cx="102.6" cy="167.5" r="1.1" fill="#FFBDD7" opacity="0.5"/>
<circle cx="94.3" cy="168.9" r="1.4" fill="#FFBDD7" opacity="0.5"/>
<circle cx="92.6" cy="172.8" r="0.9" fill="#FFBDD7" opacity="0.5"/>
<circle cx="101.4" cy="168.7" r="0.7" fill="#FFBDD7" opacity="0.5"/>
<circle cx="95.9" cy="168.2" r="1.7" fill="#FFBDD7" opacity="0.5"/>
<circle cx="103.3" cy="166.5" r="1.4" fill="#FFBDD7" opacity="0.5"/>
<circle cx="93.6" cy="169.9" r="1.4" fill="#FFBDD7" opacity="0.5"/>
<circle cx="98.1" cy="168.5" r="1.1" fill="#FFBDD7" opacity="0.5"/>
<circle cx="95.5" cy="171.9" r="1.2" fill="#FFBDD7" opacity="0.5"/>
<circle cx="104.5" cy="167.2" r="1.5" fill="#FFBDD7" opacity="0.5"/>
<circle cx="102.8" cy="167.3" r="0.7" fill="#FFBDD7" opacity="0.5"/>
<circle cx="97.9" cy="167.5" r="1.4" fill="#FFBDD7" opacity="0.5"/>
<circle cx="101.7" cy="171.4" r="1.7" fill="#FFBDD7" opacity="0.5"/>
<circle cx="88.9" cy="169.7" r="1.5" fill="#FFBDD7" opacity="0.5"/>
<circle cx="104.4" cy="170.4" r="1.6" fill="#FFBDD7" opacity="0.5"/>
<circle cx="96.9" cy="166.9" r="1.3" fill="#FFBDD7" opacity="0.5"/>
<circle cx="89.5" cy="170.3" r="0.8" fill="#FFBDD7" opacity="0.5"/>
<circle cx="102.5" cy="172.6" r="1.0" fill="#FFBDD7" opacity="0.5"/>
<circle cx="90.9" cy="171.4" r="1.4" fill="#FFBDD7" opacity="0.5"/>
<circle cx="109.2" cy="170.4" r="1.3" fill="#FFBDD7" opacity="0.5"/>
<circle cx="108.7" cy="171.4" r="1.7" fill="#FFBDD7" opacity="0.5"/>
<circle cx="94.9" cy="172.2" r="1.3" fill="#FFBDD7" opacity="0.5"/>
<circle cx="99.2" cy="166.1" r="1.2" fill="#FFBDD7" opacity="0.5"/>
<circle cx="94.3" cy="170.8" r="1.2" fill="#FFBDD7" opacity="0.5"/>
<circle cx="100.2" cy="166.5" r="0.8" fill="#FFBDD7" opacity="0.5"/>
<circle cx="102.6" cy="171.5" r="1.7" fill="#FFBDD7" opacity="0.5"/>
<circle cx="107.0" cy="168.3" r="1.2" fill="#FFBDD7" opacity="0.5"/>
<circle cx="108.2" cy="173.5" r="0.6" fill="#FFBDD7" opacity="0.45"/>
<circle cx="119.8" cy="167.7" r="0.6" fill="#FFBDD7" opacity="0.45"/>
<circle cx="107.4" cy="165.4" r="1.0" fill="#FFBDD7" opacity="0.45"/>
<circle cx="95.3" cy="166.2" r="0.4" fill="#FFBDD7" opacity="0.45"/>
<circle cx="113.0" cy="161.7" r="0.5" fill="#FFBDD7" opacity="0.45"/>
<circle cx="105.9" cy="169.8" r="0.9" fill="#FFBDD7" opacity="0.45"/>
<circle cx="106.4" cy="164.3" r="0.6" fill="#FFBDD7" opacity="0.45"/>
<circle cx="118.9" cy="162.8" r="0.4" fill="#FFBDD7" opacity="0.45"/>
<circle cx="118.8" cy="167.7" r="0.5" fill="#FFBDD7" opacity="0.45"/>
<circle cx="112.9" cy="162.8" r="0.7" fill="#FFBDD7" opacity="0.45"/>
<circle cx="110.9" cy="159.9" r="1.0" fill="#FFBDD7" opacity="0.45"/>
<circle cx="103.4" cy="161.6" r="0.9" fill="#FFBDD7" opacity="0.45"/>
<circle cx="112.3" cy="167.5" r="0.9" fill="#FFBDD7" opacity="0.45"/>
<circle cx="116.1" cy="162.7" r="0.4" fill="#FFBDD7" opacity="0.45"/>
<circle cx="110.9" cy="167.5" r="0.6" fill="#FFBDD7" opacity="0.45"/>
<circle cx="112.0" cy="160.3" r="1.0" fill="#FFBDD7" opacity="0.45"/>
<circle cx="120.6" cy="170.1" r="0.6" fill="#FFBDD7" opacity="0.45"/>
<circle cx="114.3" cy="175.3" r="0.9" fill="#FFBDD7" opacity="0.45"/>
<circle cx="95.1" cy="168.1" r="0.5" fill="#FFBDD7" opacity="0.45"/>
<circle cx="109.3" cy="176.1" r="0.9" fill="#FFBDD7" opacity="0.45"/>
<circle cx="101.0" cy="168.9" r="0.6" fill="#FFBDD7" opacity="0.45"/>
<circle cx="98.7" cy="172.4" r="0.9" fill="#FFBDD7" opacity="0.45"/>
<circle cx="103.4" cy="166.6" r="0.8" fill="#FFBDD7" opacity="0.45"/>
<circle cx="114.4" cy="167.3" r="0.5" fill="#FFBDD7" opacity="0.45"/>
<circle cx="117.1" cy="167.9" r="0.8" fill="#FFBDD7" opacity="0.45"/>
<circle cx="104.2" cy="165.6" r="0.5" fill="#FFBDD7" opacity="0.45"/>
<circle cx="121.3" cy="169.9" r="0.5" fill="#FFBDD7" opacity="0.45"/>
<circle cx="113.7" cy="169.8" r="0.8" fill="#FFBDD7" opacity="0.45"/>
<circle cx="115.6" cy="170.0" r="0.9" fill="#FFBDD7" opacity="0.45"/>
<circle cx="121.2" cy="166.3" r="0.8" fill="#FFBDD7" opacity="0.45"/>
<circle cx="104.5" cy="166.4" r="0.6" fill="#FFBDD7" opacity="0.45"/>
<circle cx="112.1" cy="165.3" r="0.6" fill="#FFBDD7" opacity="0.45"/>
<circle cx="117.7" cy="173.4" r="0.8" fill="#FFBDD7" opacity="0.45"/>
<circle cx="117.6" cy="165.9" r="0.8" fill="#FFBDD7" opacity="0.45"/>
<circle cx="101.0" cy="164.7" r="0.5" fill="#FFBDD7" opacity="0.45"/>
<circle cx="102.5" cy="165.8" r="0.5" fill="#FFBDD7" opacity="0.45"/>
<circle cx="98.0" cy="170.5" r="0.9" fill="#FFBDD7" opacity="0.45"/>
<circle cx="96.4" cy="163.6" r="0.9" fill="#FFBDD7" opacity="0.45"/>
<circle cx="100.3" cy="174.8" r="0.6" fill="#FFBDD7" opacity="0.45"/>
<circle cx="107.3" cy="162.6" r="0.6" fill="#FFBDD7" opacity="0.45"/>
<circle cx="105.9" cy="164.0" r="0.8" fill="#FFBDD7" opacity="0.45"/>
<circle cx="94.8" cy="170.5" r="0.9" fill="#FFBDD7" opacity="0.45"/>
<circle cx="103.1" cy="162.4" r="0.5" fill="#FFBDD7" opacity="0.45"/>
<circle cx="110.9" cy="159.3" r="0.7" fill="#FFBDD7" opacity="0.45"/>
<circle cx="110.8" cy="164.7" r="0.4" fill="#FFBDD7" opacity="0.45"/>
<circle cx="105.8" cy="165.4" r="1.0" fill="#FFBDD7" opacity="0.45"/>
<circle cx="104.1" cy="175.6" r="0.9" fill="#FFBDD7" opacity="0.45"/>
<circle cx="110.1" cy="161.3" r="0.9" fill="#FFBDD7" opacity="0.45"/>
<circle cx="96.5" cy="169.0" r="0.5" fill="#FFBDD7" opacity="0.45"/>
<circle cx="96.6" cy="166.4" r="0.5" fill="#FFBDD7" opacity="0.45"/>
<circle cx="121.8" cy="169.4" r="0.9" fill="#FFBDD7" opacity="0.45"/>
<circle cx="112.1" cy="167.5" r="0.9" fill="#FFBDD7" opacity="0.45"/>
<circle cx="112.7" cy="161.8" r="0.7" fill="#FFBDD7" opacity="0.45"/>
<circle cx="105.6" cy="168.3" r="0.8" fill="#FFBDD7" opacity="0.45"/>
<circle cx="113.3" cy="169.3" r="0.9" fill="#FFBDD7" opacity="0.45"/>
<circle cx="102.7" cy="166.9" r="0.7" fill="#FFBDD7" opacity="0.45"/>
<circle cx="109.8" cy="164.0" r="0.9" fill="#FFBDD7" opacity="0.45"/>
<circle cx="103.3" cy="174.2" r="0.9" fill="#FFBDD7" opacity="0.45"/>
<circle cx="95.9" cy="163.8" r="0.9" fill="#FFBDD7" opacity="0.45"/>
<circle cx="110.5" cy="171.0" r="0.6" fill="#FFBDD7" opacity="0.45"/>
<circle cx="108.6" cy="162.7" r="0.7" fill="#FFBDD7" opacity="0.45"/>
<circle cx="101.2" cy="171.2" r="0.5" fill="#FFBDD7" opacity="0.45"/>
<circle cx="97.9" cy="162.6" r="0.7" fill="#FFBDD7" opacity="0.45"/>
<circle cx="104.6" cy="161.9" r="0.9" fill="#FFBDD7" opacity="0.45"/>
<circle cx="115.2" cy="173.7" r="1.0" fill="#FFBDD7" opacity="0.45"/>
<circle cx="99.8" cy="161.2" r="0.5" fill="#FFBDD7" opacity="0.45"/>
<circle cx="100.5" cy="175.2" r="0.9" fill="#FFBDD7" opacity="0.45"/>
<circle cx="107.3" cy="161.3" r="0.6" fill="#FFBDD7" opacity="0.45"/>
<circle cx="100.8" cy="170.7" r="0.8" fill="#FFBDD7" opacity="0.45"/>
<circle cx="115.7" cy="166.9" r="0.7" fill="#FFBDD7" opacity="0.45"/>
<circle cx="107.1" cy="165.7" r="0.7" fill="#FFBDD7" opacity="0.45"/>
<circle cx="113.2" cy="171.8" r="0.6" fill="#FFBDD7" opacity="0.45"/>
<circle cx="109.9" cy="161.6" r="0.4" fill="#FFBDD7" opacity="0.45"/>
<circle cx="104.8" cy="165.5" r="0.4" fill="#FFBDD7" opacity="0.45"/>
<circle cx="96.2" cy="166.7" r="1.0" fill="#FFBDD7" opacity="0.45"/>
<circle cx="102.9" cy="165.6" r="0.6" fill="#FFBDD7" opacity="0.45"/>
<circle cx="97.8" cy="169.6" r="0.9" fill="#FFBDD7" opacity="0.45"/>
<circle cx="104.7" cy="162.2" r="0.5" fill="#FFBDD7" opacity="0.45"/>
<circle cx="100.5" cy="172.0" r="0.9" fill="#FFBDD7" opacity="0.45"/>
<circle cx="102.8" cy="172.8" r="0.8" fill="#FFBDD7" opacity="0.45"/>
<circle cx="102.5" cy="167.1" r="0.6" fill="#FFBDD7" opacity="0.45"/>
<circle cx="107.2" cy="173.3" r="0.6" fill="#FFBDD7" opacity="0.45"/>
<circle cx="110.8" cy="176.3" r="1.0" fill="#FFBDD7" opacity="0.45"/>
<circle cx="99.6" cy="173.5" r="0.5" fill="#FFBDD7" opacity="0.45"/>
<circle cx="102.5" cy="167.0" r="0.9" fill="#FFBDD7" opacity="0.45"/>
<circle cx="113.1" cy="162.7" r="0.9" fill="#FFBDD7" opacity="0.45"/>
<circle cx="118.2" cy="168.2" r="0.4" fill="#FFBDD7" opacity="0.45"/>
<circle cx="102.0" cy="164.3" r="0.7" fill="#FFBDD7" opacity="0.45"/>
<circle cx="120.4" cy="169.7" r="0.9" fill="#FFBDD7" opacity="0.45"/>
<circle cx="96.0" cy="163.4" r="0.8" fill="#FFBDD7" opacity="0.45"/>
<circle cx="103.5" cy="163.1" r="0.4" fill="#FFBDD7" opacity="0.45"/>
<circle cx="95.4" cy="166.4" r="0.7" fill="#FFBDD7" opacity="0.45"/>
<circle cx="105.2" cy="169.2" r="0.6" fill="#FFBDD7" opacity="0.45"/>
<circle cx="103.4" cy="167.8" r="0.6" fill="#FFBDD7" opacity="0.45"/>
<circle cx="102.3" cy="164.4" r="0.5" fill="#FFBDD7" opacity="0.45"/>
<circle cx="94.8" cy="167.7" r="0.4" fill="#FFBDD7" opacity="0.45"/>
<circle cx="118.6" cy="165.5" r="0.7" fill="#FFBDD7" opacity="0.45"/>
<circle cx="108.7" cy="159.4" r="0.5" fill="#FFBDD7" opacity="0.45"/>
<circle cx="116.0" cy="169.0" r="0.7" fill="#FFBDD7" opacity="0.45"/>
<circle cx="103.6" cy="172.5" r="0.7" fill="#FFBDD7" opacity="0.45"/>
<circle cx="116.2" cy="174.0" r="0.9" fill="#FFBDD7" opacity="0.45"/>
<circle cx="114.3" cy="171.1" r="0.7" fill="#FFBDD7" opacity="0.45"/>
<circle cx="108.9" cy="169.4" r="0.7" fill="#FFBDD7" opacity="0.45"/>
<circle cx="116.9" cy="174.4" r="0.4" fill="#FFBDD7" opacity="0.45"/>
<circle cx="115.1" cy="170.1" r="0.8" fill="#FFBDD7" opacity="0.45"/>
<circle cx="107.3" cy="165.8" r="1.0" fill="#FFBDD7" opacity="0.45"/>
<circle cx="98.6" cy="169.1" r="0.5" fill="#FFBDD7" opacity="0.45"/>
<circle cx="115.1" cy="167.8" r="0.8" fill="#FFBDD7" opacity="0.45"/>
<circle cx="102.6" cy="174.9" r="0.4" fill="#FFBDD7" opacity="0.45"/>
<circle cx="100.3" cy="172.2" r="0.9" fill="#FFBDD7" opacity="0.45"/>
<circle cx="115.8" cy="164.0" r="0.4" fill="#FFBDD7" opacity="0.45"/>
<circle cx="113.9" cy="172.2" r="0.4" fill="#FFBDD7" opacity="0.45"/>
<circle cx="120.2" cy="168.5" r="0.4" fill="#FFBDD7" opacity="0.45"/>
<circle cx="107.4" cy="165.1" r="0.5" fill="#FFBDD7" opacity="0.45"/>
<circle cx="97.5" cy="167.0" r="0.6" fill="#FFBDD7" opacity="0.45"/>
<circle cx="112.8" cy="161.0" r="0.6" fill="#FFBDD7" opacity="0.45"/>
<circle cx="105.5" cy="167.5" r="0.7" fill="#FFBDD7" opacity="0.45"/>
<circle cx="110.7" cy="175.9" r="1.0" fill="#FFBDD7" opacity="0.45"/>
<circle cx="100.4" cy="163.4" r="0.7" fill="#FFBDD7" opacity="0.45"/>
<circle cx="112.0" cy="169.9" r="0.6" fill="#FFBDD7" opacity="0.45"/>
<circle cx="99.9" cy="172.2" r="0.9" fill="#FFBDD7" opacity="0.45"/>
<circle cx="100.8" cy="173.2" r="0.9" fill="#FFBDD7" opacity="0.45"/>
<circle cx="101.4" cy="160.8" r="1.0" fill="#FFBDD7" opacity="0.45"/>
<circle cx="107.2" cy="172.4" r="0.9" fill="#FFBDD7" opacity="0.45"/>
<circle cx="108.3" cy="163.9" r="0.7" fill="#FFBDD7" opacity="0.45"/>
<circle cx="112.5" cy="164.8" r="0.8" fill="#FFBDD7" opacity="0.45"/>
<circle cx="99.9" cy="163.1" r="1.0" fill="#FFBDD7" opacity="0.45"/>
<circle cx="117.6" cy="174.3" r="0.9" fill="#FFBDD7" opacity="0.45"/>
<circle cx="109.9" cy="160.3" r="0.8" fill="#FFBDD7" opacity="0.45"/>
<circle cx="117.4" cy="174.1" r="0.4" fill="#FFBDD7" opacity="0.45"/>
<circle cx="95.7" cy="172.2" r="0.7" fill="#FFBDD7" opacity="0.45"/>
<circle cx="106.5" cy="171.2" r="0.8" fill="#FFBDD7" opacity="0.45"/>
<circle cx="113.4" cy="165.6" r="0.8" fill="#FFBDD7" opacity="0.45"/>
<circle cx="114.3" cy="173.4" r="0.7" fill="#FFBDD7" opacity="0.45"/>
<circle cx="99.7" cy="167.1" r="0.8" fill="#FFBDD7" opacity="0.45"/>
<circle cx="109.3" cy="161.0" r="0.4" fill="#FFBDD7" opacity="0.45"/>
<circle cx="105.1" cy="163.4" r="0.5" fill="#FFBDD7" opacity="0.45"/>
<circle cx="100.2" cy="166.5" r="0.8" fill="#FFBDD7" opacity="0.45"/>
<circle cx="119.6" cy="171.2" r="0.4" fill="#FFBDD7" opacity="0.45"/>
<circle cx="118.3" cy="170.0" r="0.8" fill="#FFBDD7" opacity="0.45"/>
<circle cx="111.2" cy="165.4" r="0.6" fill="#FFBDD7" opacity="0.45"/>
<circle cx="96.0" cy="171.0" r="0.4" fill="#FFBDD7" opacity="0.45"/>
<circle cx="113.1" cy="175.4" r="0.8" fill="#FFBDD7" opacity="0.45"/>
<circle cx="111.0" cy="173.5" r="1.0" fill="#FFBDD7" opacity="0.45"/>
<circle cx="106.9" cy="159.3" r="0.8" fill="#FFBDD7" opacity="0.45"/>
<circle cx="111.9" cy="174.5" r="0.8" fill="#FFBDD7" opacity="0.45"/>
<circle cx="117.3" cy="170.2" r="1.0" fill="#FFBDD7" opacity="0.45"/>
<circle cx="110.6" cy="174.3" r="0.9" fill="#FFBDD7" opacity="0.45"/>
<circle cx="121.7" cy="167.3" r="0.9" fill="#FFBDD7" opacity="0.45"/>
<circle cx="105.1" cy="159.2" r="0.6" fill="#FFBDD7" opacity="0.45"/>
<circle cx="105.1" cy="163.9" r="0.8" fill="#FFBDD7" opacity="0.45"/>
<circle cx="96.7" cy="164.5" r="0.6" fill="#FFBDD7" opacity="0.45"/>
<circle cx="97.5" cy="169.8" r="0.7" fill="#FFBDD7" opacity="0.45"/>
<circle cx="116.5" cy="165.1" r="1.0" fill="#FFBDD7" opacity="0.45"/>
<circle cx="99.5" cy="168.6" r="0.5" fill="#FFBDD7" opacity="0.45"/>
<circle cx="119.1" cy="164.2" r="0.7" fill="#FFBDD7" opacity="0.45"/>
<circle cx="108.7" cy="163.8" r="0.7" fill="#FFBDD7" opacity="0.45"/>
<circle cx="95.8" cy="165.3" r="0.6" fill="#FFBDD7" opacity="0.45"/>
<circle cx="116.8" cy="172.9" r="0.8" fill="#FFBDD7" opacity="0.45"/>
<circle cx="110.7" cy="174.6" r="0.8" fill="#FFBDD7" opacity="0.45"/>
<circle cx="82.0" cy="157.4" r="0.9" fill="#BA7100" opacity="0.8"/>
<circle cx="82.2" cy="154.6" r="0.7" fill="#BA7100" opacity="0.8"/>
<circle cx="81.0" cy="156.4" r="0.5" fill="#BA7100" opacity="0.8"/>
<circle cx="83.7" cy="156.0" r="0.5" fill="#BA7100" opacity="0.8"/>
<circle cx="83.8" cy="155.5" r="0.4" fill="#BA7100" opacity="0.8"/>
<circle cx="81.4" cy="155.0" r="0.5" fill="#BA7100" opacity="0.8"/>
<circle cx="78.4" cy="156.4" r="0.6" fill="#BA7100" opacity="0.8"/>
<circle cx="81.3" cy="157.6" r="0.9" fill="#BA7100" opacity="0.8"/>
<circle cx="78.0" cy="157.3" r="0.4" fill="#BA7100" opacity="0.8"/>
<circle cx="80.7" cy="154.3" r="0.4" fill="#BA7100" opacity="0.8"/>
<circle cx="81.7" cy="156.1" r="0.4" fill="#BA7100" opacity="0.8"/>
<circle cx="80.0" cy="155.8" r="0.4" fill="#BA7100" opacity="0.8"/>
<circle cx="80.2" cy="157.7" r="0.7" fill="#BA7100" opacity="0.8"/>
<circle cx="76.9" cy="156.9" r="0.8" fill="#BA7100" opacity="0.8"/>
<circle cx="78.6" cy="157.1" r="0.7" fill="#BA7100" opacity="0.8"/>
<circle cx="79.3" cy="156.1" r="0.5" fill="#BA7100" opacity="0.8"/>
<circle cx="78.3" cy="157.6" r="0.6" fill="#BA7100" opacity="0.8"/>
<circle cx="82.2" cy="155.5" r="0.5" fill="#BA7100" opacity="0.8"/>
<circle cx="80.7" cy="154.2" r="0.5" fill="#BA7100" opacity="0.8"/>
<circle cx="76.4" cy="156.4" r="0.7" fill="#BA7100" opacity="0.8"/>
<circle cx="92.4" cy="173.0" r="0.5" fill="#BA7100" opacity="0.7"/>
<circle cx="82.1" cy="172.2" r="0.4" fill="#BA7100" opacity="0.7"/>
<circle cx="85.9" cy="173.6" r="0.6" fill="#BA7100" opacity="0.7"/>
<circle cx="92.3" cy="173.1" r="0.8" fill="#BA7100" opacity="0.7"/>
<circle cx="86.5" cy="172.0" r="0.4" fill="#BA7100" opacity="0.7"/>
<circle cx="87.5" cy="175.9" r="0.4" fill="#BA7100" opacity="0.7"/>
<circle cx="88.8" cy="172.7" r="0.7" fill="#BA7100" opacity="0.7"/>
<circle cx="90.7" cy="175.1" r="0.5" fill="#BA7100" opacity="0.7"/>
<circle cx="86.6" cy="171.8" r="0.6" fill="#BA7100" opacity="0.7"/>
<circle cx="91.3" cy="173.3" r="0.4" fill="#BA7100" opacity="0.7"/>
<circle cx="84.0" cy="172.5" r="0.6" fill="#BA7100" opacity="0.7"/>
<circle cx="87.6" cy="174.8" r="0.4" fill="#BA7100" opacity="0.7"/>
<circle cx="86.5" cy="171.8" r="0.6" fill="#BA7100" opacity="0.7"/>
<circle cx="90.3" cy="172.8" r="0.8" fill="#BA7100" opacity="0.7"/>
<circle cx="82.4" cy="173.5" r="0.8" fill="#BA7100" opacity="0.7"/>
<circle cx="79.1" cy="174.3" r="0.7" fill="#BA7100" opacity="0.7"/>
<circle cx="89.0" cy="176.2" r="0.7" fill="#BA7100" opacity="0.7"/>
<circle cx="82.1" cy="172.5" r="0.6" fill="#BA7100" opacity="0.7"/>
<circle cx="82.9" cy="174.3" r="0.4" fill="#BA7100" opacity="0.7"/>
<circle cx="88.7" cy="173.6" r="0.4" fill="#BA7100" opacity="0.7"/>
<circle cx="84.5" cy="176.4" r="0.5" fill="#BA7100" opacity="0.7"/>
<circle cx="89.2" cy="176.2" r="0.5" fill="#BA7100" opacity="0.7"/>
<circle cx="87.5" cy="173.9" r="0.5" fill="#BA7100" opacity="0.7"/>
<circle cx="88.0" cy="172.2" r="0.5" fill="#BA7100" opacity="0.7"/>
<circle cx="87.3" cy="174.7" r="0.8" fill="#BA7100" opacity="0.7"/>
<circle cx="90.6" cy="172.2" r="0.6" fill="#BA7100" opacity="0.7"/>
<circle cx="81.0" cy="174.0" r="0.4" fill="#BA7100" opacity="0.7"/>
<circle cx="91.1" cy="174.9" r="0.8" fill="#BA7100" opacity="0.7"/>
<circle cx="85.8" cy="176.1" r="0.8" fill="#BA7100" opacity="0.7"/>
<circle cx="90.6" cy="175.5" r="0.5" fill="#BA7100" opacity="0.7"/>
<circle cx="70.1" cy="154.3" r="0.9" fill="#FFBDD7" opacity="0.6"/>
<circle cx="71.7" cy="159.9" r="0.6" fill="#FFBDD7" opacity="0.6"/>
<circle cx="71.2" cy="159.2" r="1.0" fill="#FFBDD7" opacity="0.6"/>
<circle cx="75.1" cy="159.3" r="1.0" fill="#FFBDD7" opacity="0.6"/>
<circle cx="69.3" cy="157.7" r="0.4" fill="#FFBDD7" opacity="0.6"/>
<circle cx="74.1" cy="159.7" r="0.7" fill="#FFBDD7" opacity="0.6"/>
<circle cx="67.7" cy="157.4" r="0.4" fill="#FFBDD7" opacity="0.6"/>
<circle cx="71.5" cy="154.5" r="0.7" fill="#FFBDD7" opacity="0.6"/>
<circle cx="75.8" cy="158.4" r="0.9" fill="#FFBDD7" opacity="0.6"/>
<circle cx="71.5" cy="156.6" r="0.4" fill="#FFBDD7" opacity="0.6"/>
<circle cx="75.5" cy="157.4" r="0.6" fill="#FFBDD7" opacity="0.6"/>
<circle cx="67.7" cy="156.8" r="0.4" fill="#FFBDD7" opacity="0.6"/>
<circle cx="71.1" cy="154.8" r="0.9" fill="#FFBDD7" opacity="0.6"/>
<circle cx="73.3" cy="159.2" r="0.7" fill="#FFBDD7" opacity="0.6"/>
<circle cx="67.9" cy="155.7" r="0.9" fill="#FFBDD7" opacity="0.6"/>
<circle cx="73.0" cy="157.9" r="0.8" fill="#FFBDD7" opacity="0.6"/>
<circle cx="71.2" cy="159.1" r="1.0" fill="#FFBDD7" opacity="0.6"/>
<circle cx="73.1" cy="155.6" r="0.4" fill="#FFBDD7" opacity="0.6"/>
<circle cx="72.7" cy="156.5" r="1.0" fill="#FFBDD7" opacity="0.6"/>
<circle cx="68.5" cy="155.2" r="0.4" fill="#FFBDD7" opacity="0.6"/>
<circle cx="66.2" cy="157.5" r="0.5" fill="#FFBDD7" opacity="0.6"/>
<circle cx="73.4" cy="159.5" r="0.8" fill="#FFBDD7" opacity="0.6"/>
<circle cx="69.4" cy="157.6" r="0.6" fill="#FFBDD7" opacity="0.6"/>
<circle cx="75.1" cy="155.5" r="0.9" fill="#FFBDD7" opacity="0.6"/>
<circle cx="74.1" cy="159.4" r="0.6" fill="#FFBDD7" opacity="0.6"/>
<circle cx="77.4" cy="157.5" r="0.6" fill="#FFBDD7" opacity="0.6"/>
<circle cx="73.8" cy="155.9" r="0.5" fill="#FFBDD7" opacity="0.6"/>
<circle cx="66.5" cy="157.7" r="0.5" fill="#FFBDD7" opacity="0.6"/>
<circle cx="67.2" cy="158.7" r="0.5" fill="#FFBDD7" opacity="0.6"/>
<circle cx="75.1" cy="155.6" r="0.6" fill="#FFBDD7" opacity="0.6"/>
<polyline points="9.6,124.0 16.0,128.8 27.2,134.3 36.7,132.0 48.0,133.5 60.7,132.0 70.3,129.6 75.0,127.8 80.8,130.7 83.8,129.5 88.4,130.1 86.7,127.2 89.0,124.3 84.9,119.6 83.8,116.1 94.3,112.0 96.6,105.0 99.0,101.0 104.0,99.0 108.0,96.0 112.0,93.0 113.4,88.9" fill="none" stroke="#333" stroke-width="0.6" stroke-opacity="0.95"/>
<polyline points="81.2,130.8 80.2,134.6 81.2,142.3 84.0,147.0 92.7,150.4 100.4,152.0 106.2,152.9 110.0,156.7 113.8,155.8 117.7,153.8 119.6,143.3 122.5,142.3" fill="none" stroke="#333" stroke-width="0.6" stroke-opacity="0.95"/>
<polyline points="117.7,153.8 118.7,156.0 124.5,157.0 125.1,167.5 126.9,176.9 123.4,181.5" fill="none" stroke="#333" stroke-width="0.6" stroke-opacity="0.95"/>
<polyline points="94.3,111.4 100.1,112.6 104.2,116.1 107.7,116.7 115.0,117.3" fill="none" stroke="#333" stroke-width="0.6" stroke-opacity="0.95"/>
<polyline points="113.4,88.9 112.0,93.0 109.0,95.5 103.0,98.0 97.0,102.7 94.4,109.4 90.0,112.5" fill="none" stroke="#333" stroke-width="0.6" stroke-opacity="0.95"/>
<polyline points="117.8,89.6 119.2,95.5 123.6,101.3 130.9,101.3 129.4,107.2 133.8,111.5 139.7,111.5 148.4,110.1 149.8,115.9 146.9,121.8 152.8,121.8 160.0,111.5 162.9,113.0 161.5,120.3 165.9,121.8 168.8,118.9 174.7,113.0 180.6,107.2 186.4,101.3 190.0,98.0" fill="none" stroke="#333" stroke-width="0.6" stroke-opacity="0.95"/>
<polyline points="107.0,113.0 112.0,118.0 120.0,121.0 126.0,123.0 131.0,120.0 136.0,122.0 140.0,126.2 142.6,131.4 141.8,137.6 140.0,141.1 140.0,142.8 147.0,145.5 150.5,149.0 157.6,150.8 166.4,153.4 170.8,154.3 174.3,156.9 176.0,158.7" fill="none" stroke="#333" stroke-width="0.6" stroke-opacity="0.95"/>
<polyline points="128.0,175.7 132.7,178.0 136.2,185.0 138.5,190.9 143.2,189.7 146.7,186.2 150.2,188.5 156.0,190.0 160.0,192.0 165.0,190.0 170.0,193.0 174.0,188.4" fill="none" stroke="#333" stroke-width="0.6" stroke-opacity="0.95"/>
<polyline points="170.8,154.3 169.9,159.5 168.1,163.9 165.5,166.6 157.6,165.7 156.7,169.2 157.6,175.0 154.0,180.0 150.0,183.0 146.7,186.2" fill="none" stroke="#333" stroke-width="0.6" stroke-opacity="0.95"/>
<polyline points="176.0,158.7 177.8,150.8 178.7,148.1 183.0,148.1 187.5,153.4 192.7,153.4 200.0,156.9 202.0,158.0 206.7,159.2 211.4,159.2" fill="none" stroke="#333" stroke-width="0.6" stroke-opacity="0.95"/>
<polyline points="160.2,128.8 162.0,134.1 161.1,140.2 158.5,146.4 157.6,150.8" fill="none" stroke="#333" stroke-width="0.6" stroke-opacity="0.95"/>
<polyline points="180.4,120.0 180.4,128.8 181.3,136.7 182.2,142.0 178.7,146.4 177.5,148.7" fill="none" stroke="#333" stroke-width="0.6" stroke-opacity="0.95"/>
<polyline points="194.5,120.0 196.2,127.0 189.2,135.8 182.2,138.5" fill="none" stroke="#333" stroke-width="0.6" stroke-opacity="0.95"/>
<polyline points="202.0,158.0 203.2,151.0 202.0,147.5 204.4,142.8 206.7,139.3 204.4,137.0 202.0,134.7 200.9,130.0 199.0,125.0 202.0,118.0 199.0,112.0 203.0,106.0 206.0,102.0 209.0,98.0 212.0,94.0 215.0,90.0" fill="none" stroke="#333" stroke-width="0.6" stroke-opacity="0.95"/>
<polyline points="206.7,159.2 209.0,163.9 213.7,167.4 218.4,166.2 223.1,163.9 225.4,159.2 223.1,153.4 218.4,149.9 220.7,145.2 217.2,141.7 214.0,138.0 210.0,134.0 207.0,131.0 203.0,130.0" fill="none" stroke="#333" stroke-width="0.6" stroke-opacity="0.95"/>
<polyline points="160.0,166.2 169.3,167.4 175.2,168.5 181.0,167.4 188.0,168.5 195.0,169.7 202.0,169.7 209.0,168.5 214.9,168.5" fill="none" stroke="#333" stroke-width="0.6" stroke-opacity="0.95"/>
<polyline points="175.2,168.5 174.0,174.4 175.2,182.6 174.0,188.4 175.2,195.4 174.0,200.0 170.0,205.0 164.0,208.0 158.0,209.0 150.0,207.0 145.0,206.0 140.0,208.0 136.0,212.0 135.0,219.7" fill="none" stroke="#333" stroke-width="0.6" stroke-opacity="0.95"/>
<polyline points="195.0,169.7 196.2,176.7 195.0,181.4 196.2,186.1 193.9,190.7 196.2,195.4 198.5,200.0 201.0,206.0 204.0,210.0" fill="none" stroke="#333" stroke-width="0.6" stroke-opacity="0.95"/>
<polyline points="214.9,168.5 218.4,174.4 220.7,180.2 223.1,184.9 225.4,188.4 230.1,186.1 232.4,183.7" fill="none" stroke="#333" stroke-width="0.6" stroke-opacity="0.95"/>
<polyline points="175.2,182.6 183.4,186.1 190.4,184.9 196.2,186.1 204.4,188.4 211.4,189.6 218.4,191.9 225.4,188.4" fill="none" stroke="#333" stroke-width="0.6" stroke-opacity="0.95"/>
<polyline points="174.0,200.0 180.0,201.0 186.0,203.0 192.0,204.0 198.5,200.0" fill="none" stroke="#333" stroke-width="0.6" stroke-opacity="0.95"/>
<polyline points="233.3,103.0 237.0,98.0 241.0,96.0 246.0,92.0 252.0,91.0 256.0,90.0 262.0,88.0 268.0,90.0 272.0,92.0" fill="none" stroke="#333" stroke-width="0.6" stroke-opacity="0.95"/>
<polyline points="226.2,28.7 229.0,31.0 234.0,32.6 238.0,35.0 243.0,35.0 250.0,34.0 253.0,33.0 255.0,37.0 252.0,42.0 250.0,46.0 249.0,50.0 245.0,55.0 240.0,57.0 236.0,60.0 240.0,63.0 245.0,64.0 250.0,66.0 255.0,68.0 262.0,66.0 270.0,64.0 276.0,62.0 282.0,60.0 285.0,58.0" fill="none" stroke="#333" stroke-width="0.6" stroke-opacity="0.95"/>
<polyline points="240.0,63.0 236.0,68.0 238.0,74.0 242.0,78.0 248.0,80.0 254.0,83.0 258.0,86.0 262.0,88.0" fill="none" stroke="#333" stroke-width="0.6" stroke-opacity="0.95"/>
<polyline points="214.9,115.6 214.0,112.0 212.0,108.0 210.0,106.0 207.0,104.0 205.0,101.0" fill="none" stroke="#333" stroke-width="0.6" stroke-opacity="0.95"/>
<polyline points="221.0,121.8 217.0,123.0 213.0,125.0 210.0,128.0 207.0,131.0" fill="none" stroke="#333" stroke-width="0.6" stroke-opacity="0.95"/>
<polyline points="224.5,134.0 221.0,136.0 218.0,138.0 214.0,138.0" fill="none" stroke="#333" stroke-width="0.6" stroke-opacity="0.95"/>
</g>
<polygon points="69.7,50.3 73.2,50.5 76.7,55.2 83.7,58.7 87.2,63.4 87.8,69.2 87.2,73.3 94.2,74.5 100.0,76.2 104.6,78.0 109.0,80.1 113.4,88.9 119.2,89.6 133.8,90.4 141.1,92.6 152.8,95.5 163.0,91.8 174.7,90.4 182.0,85.3 186.4,81.6 184.9,78.0 187.8,75.0 197.6,73.0 208.1,69.5 216.9,66.0 223.1,63.3 222.2,60.7 215.1,58.9 206.4,58.1 205.5,53.7 208.1,47.5 215.0,47.3 218.7,46.1 221.8,42.3 224.9,36.1 227.4,31.2 226.2,28.7 228.6,25.6 233.6,24.3 242.3,22.7 251.0,25.0 254.7,28.7 257.8,34.9 259.7,41.1 262.2,45.4 269.6,48.5 275.8,52.3 278.3,56.6 284.5,56.6 296.9,54.1 294.4,57.2 292.0,67.2 288.2,72.1 286.3,75.2 284.5,80.0 278.4,81.5 275.8,88.8 267.9,92.3 260.8,94.1 260.0,96.4 254.3,99.9 249.0,103.4 243.8,106.9 238.5,109.5 235.0,111.3 230.6,113.5 233.3,110.8 232.4,107.8 235.0,105.1 235.9,102.5 234.2,100.8 230.6,101.2 226.3,104.3 223.6,106.0 221.9,108.6 219.3,111.3 215.8,113.0 214.9,115.6 217.5,117.4 221.0,121.8 223.6,123.5 226.0,121.0 229.5,119.0 233.3,120.9 237.7,122.7 236.8,125.3 231.5,127.9 227.1,131.4 224.5,134.0 222.2,138.1 225.7,145.1 231.0,150.4 234.5,157.5 238.0,162.7 236.2,168.0 233.6,175.0 231.8,180.3 227.5,185.6 223.0,192.6 217.8,199.6 211.6,204.9 204.6,210.2 197.6,213.7 191.1,217.3 180.6,222.6 178.0,227.0 177.1,222.6 173.6,220.8 166.6,217.3 159.6,212.0 152.6,212.0 145.5,213.8 138.5,217.3 136.8,221.7 135.0,219.7 131.6,220.2 129.0,218.1 126.9,214.0 125.9,208.8 122.2,206.7 118.6,204.6 120.2,197.4 123.8,190.1 123.8,181.8 123.8,178.7 121.2,179.7 118.6,178.2 115.5,180.8 110.3,179.2 104.1,182.8 99.9,186.5 93.7,187.0 92.6,183.4 88.5,180.2 83.3,179.2 79.7,180.2 78.1,184.4 77.1,180.2 75.0,179.7 64.2,180.0 59.9,176.4 48.2,168.4 40.9,165.5 31.4,158.2 28.5,152.3 29.2,145.0 29.8,143.5 30.2,140.0 27.1,138.3 26.3,133.9 20.1,131.3 16.2,130.4 14.9,125.1 11.4,121.6 10.5,118.1 7.0,114.6 6.1,111.1 5.3,107.6 7.8,105.3 13.4,103.1 20.1,100.3 25.7,98.6 30.2,95.3 36.3,93.0 36.9,89.7 38.2,86.7 37.6,78.6 35.3,76.2 35.8,75.0 41.7,73.9 46.9,72.7 47.5,69.2 49.3,63.4 51.0,62.2 59.2,62.2 62.1,61.0 62.7,54.6 67.4,51.1" fill="none" stroke="#555" stroke-width="0.5"/>
<clipPath id="tw"><polygon points="231.8,197.3 234.0,197.3 234.8,199.5 234.0,204.5 232.9,209.0 231.2,212.3 230.1,214.6 229.5,217.4 228.4,216.8 226.5,210.7 226.7,206.2 228.4,201.7 230.1,198.9"/></clipPath>
<polygon points="231.8,197.3 234.0,197.3 234.8,199.5 234.0,204.5 232.9,209.0 231.2,212.3 230.1,214.6 229.5,217.4 228.4,216.8 226.5,210.7 226.7,206.2 228.4,201.7 230.1,198.9" fill="#FED7AA"/>
<polygon clip-path="url(#tw)" points="225.0,209.0 228.0,211.0 231.0,213.0 231.0,219.0 226.0,219.0" fill="#7A6CB8"/>
<polygon points="231.8,197.3 234.0,197.3 234.8,199.5 234.0,204.5 232.9,209.0 231.2,212.3 230.1,214.6 229.5,217.4 228.4,216.8 226.5,210.7 226.7,206.2 228.4,201.7 230.1,198.9" fill="none" stroke="#555" stroke-width="0.5"/>
<line x1="238.5" y1="201.2" x2="237.3" y2="207.9" stroke="#111" stroke-width="1.1" stroke-linecap="round"/>
<line x1="234.6" y1="219" x2="231.2" y2="224.1" stroke="#111" stroke-width="1.1" stroke-linecap="round"/>
<line x1="222.8" y1="241.3" x2="225.1" y2="236" stroke="#111" stroke-width="1.0" stroke-linecap="round"/>
<circle cx="223.4" cy="207.3" r="0.5" fill="#222"/>
<circle cx="206.5" cy="223" r="0.5" fill="#222"/>
<circle cx="210.5" cy="225" r="0.5" fill="#222"/>
<circle cx="192.4" cy="232.5" r="0.5" fill="#222"/>
<circle cx="196" cy="234.3" r="0.5" fill="#222"/>
<polygon points="172.0,232.5 175.5,229.6 181.9,229.0 182.5,231.3 180.8,234.9 177.8,238.4 175.5,240.1 172.0,238.4 171.4,235.4" fill="#7A6CB8" stroke="#555" stroke-width="0.5"/>
<polygon points="175.0,234.0 177.0,233.0 178.0,235.5 176.0,237.0" fill="#FED7AA" opacity="0.7"/>
<circle cx="176.1" cy="232.5" r="2.1" fill="#CB181D"/>
<circle cx="84.7" cy="173.8" r="2.2" fill="#6BAED6"/>
<circle cx="63.9" cy="178.9" r="2.2" fill="#6BAED6"/>
<circle cx="94.9" cy="177.4" r="2.2" fill="#FB6A4A"/>
<circle cx="141.0" cy="180.5" r="2.2" fill="#FB6A4A"/>
<circle cx="131.4" cy="188.3" r="2.2" fill="#FB6A4A"/>
<circle cx="130.3" cy="213.5" r="2.2" fill="#FB6A4A"/>
<circle cx="130.1" cy="191.1" r="2.2" fill="#FB6A4A"/>
<circle cx="138.4" cy="200.8" r="2.2" fill="#FB6A4A"/>
<circle cx="146.3" cy="195.1" r="2.2" fill="#FB6A4A"/>
<circle cx="148.9" cy="195.5" r="2.2" fill="#FB6A4A"/>
<circle cx="143.6" cy="203.4" r="2.2" fill="#FB6A4A"/>
<circle cx="145.4" cy="208.6" r="2.2" fill="#FB6A4A"/>
<circle cx="146.3" cy="211.3" r="2.2" fill="#FB6A4A"/>
<circle cx="156.8" cy="192.9" r="2.2" fill="#FB6A4A"/>
<circle cx="161.2" cy="199.9" r="2.2" fill="#FB6A4A"/>
<circle cx="175.2" cy="196.8" r="2.2" fill="#FB6A4A"/>
<circle cx="164.2" cy="210.4" r="2.2" fill="#FB6A4A"/>
<circle cx="163.3" cy="214.8" r="2.2" fill="#FB6A4A"/>
<circle cx="176.0" cy="215.2" r="2.2" fill="#FB6A4A"/>
<circle cx="217.9" cy="185.8" r="2.2" fill="#FB6A4A"/>
<circle cx="220.5" cy="186.6" r="2.2" fill="#FB6A4A"/>
<circle cx="203.9" cy="192.3" r="2.2" fill="#FB6A4A"/>
<circle cx="179.4" cy="196.3" r="2.2" fill="#FB6A4A"/>
<circle cx="45.5" cy="76.0" r="2.2" fill="#2166AC"/>
<circle cx="36.5" cy="98.4" r="2.2" fill="#2166AC"/>
<circle cx="37.7" cy="102.5" r="2.2" fill="#2166AC"/>
<circle cx="16.4" cy="111.5" r="2.2" fill="#2166AC"/>
<circle cx="17.2" cy="113.0" r="2.2" fill="#2166AC"/>
<circle cx="24.4" cy="112.7" r="2.2" fill="#08183F"/>
<circle cx="22.6" cy="117.4" r="2.2" fill="#08183F"/>
<circle cx="72.0" cy="102.3" r="2.2" fill="#08183F"/>
<circle cx="39.4" cy="124.4" r="2.2" fill="#2166AC"/>
<circle cx="100.5" cy="156.4" r="2.2" fill="#08183F"/>
<circle cx="116.0" cy="167.5" r="2.2" fill="#08183F"/>
<circle cx="177.4" cy="161.2" r="2.2" fill="#08183F"/>
<circle cx="162.0" cy="173.9" r="2.2" fill="#08183F"/>
<circle cx="128.5" cy="215.0" r="2.2" fill="#2166AC"/>
<circle cx="182.3" cy="131.0" r="2.2" fill="#08183F"/>
<circle cx="198.8" cy="116.8" r="2.2" fill="#2166AC"/>
<circle cx="167.0" cy="137.0" r="2.2" fill="#CB181D"/>
<circle cx="170.0" cy="139.5" r="2.2" fill="#CB181D"/>
<circle cx="176.0" cy="141.5" r="2.2" fill="#CB181D"/>
<circle cx="178.0" cy="145.0" r="2.2" fill="#CB181D"/>
<circle cx="173.5" cy="141.0" r="2.2" fill="#CB181D"/>
<circle cx="169.0" cy="142.5" r="2.2" fill="#CB181D"/>
<circle cx="172.0" cy="146.5" r="2.2" fill="#CB181D"/>
<circle cx="166.0" cy="135.5" r="2.2" fill="#CB181D"/>
<circle cx="222.5" cy="150.0" r="2.2" fill="#CB181D"/>
<circle cx="224.5" cy="158.0" r="2.2" fill="#CB181D"/>
<circle cx="226.0" cy="162.0" r="2.2" fill="#CB181D"/>
<circle cx="228.5" cy="165.5" r="2.2" fill="#CB181D"/>
<circle cx="210.8" cy="52.8" r="2.2" fill="#CB181D"/>
<circle cx="74.2" cy="112.0" r="2.2" fill="#CB181D"/>
<circle cx="128.7" cy="115.9" r="2.2" fill="#CB181D"/>
<circle cx="131.6" cy="117.4" r="2.2" fill="#CB181D"/>
<circle cx="186.4" cy="112.6" r="2.2" fill="#CB181D"/>
<circle cx="179.8" cy="118.8" r="2.2" fill="#CB181D"/>
<circle cx="178.8" cy="121.8" r="2.2" fill="#CB181D"/>
<circle cx="138.1" cy="138.9" r="2.2" fill="#CB181D"/>
<circle cx="129.9" cy="143.5" r="2.2" fill="#CB181D"/>
<circle cx="137.6" cy="146.6" r="2.2" fill="#CB181D"/>
<circle cx="153.9" cy="134.6" r="2.2" fill="#CB181D"/>
<circle cx="168.8" cy="131.8" r="2.2" fill="#CB181D"/>
<circle cx="168.2" cy="137.9" r="2.2" fill="#CB181D"/>
<circle cx="171.3" cy="136.9" r="2.2" fill="#CB181D"/>
<circle cx="173.4" cy="138.9" r="2.2" fill="#CB181D"/>
<circle cx="171.3" cy="142.0" r="2.2" fill="#CB181D"/>
<circle cx="174.4" cy="143.0" r="2.2" fill="#CB181D"/>
<circle cx="177.4" cy="143.0" r="2.2" fill="#CB181D"/>
<circle cx="173.9" cy="146.1" r="2.2" fill="#CB181D"/>
<circle cx="125.0" cy="160.5" r="2.2" fill="#CB181D"/>
<circle cx="147.8" cy="161.8" r="2.2" fill="#CB181D"/>
<circle cx="160.7" cy="161.5" r="2.2" fill="#CB181D"/>
<circle cx="143.6" cy="165.6" r="2.2" fill="#CB181D"/>
<circle cx="168.6" cy="166.0" r="2.2" fill="#CB181D"/>
<circle cx="145.0" cy="168.2" r="2.2" fill="#CB181D"/>
<circle cx="146.3" cy="170.8" r="2.2" fill="#CB181D"/>
<circle cx="153.3" cy="170.4" r="2.2" fill="#CB181D"/>
<circle cx="157.2" cy="171.3" r="2.2" fill="#CB181D"/>
<circle cx="131.8" cy="173.7" r="2.2" fill="#CB181D"/>
<circle cx="137.5" cy="173.9" r="2.2" fill="#CB181D"/>
<circle cx="141.5" cy="172.6" r="2.2" fill="#CB181D"/>
<circle cx="143.6" cy="174.3" r="2.2" fill="#CB181D"/>
<circle cx="166.8" cy="174.8" r="2.2" fill="#CB181D"/>
<circle cx="177.4" cy="176.1" r="2.2" fill="#CB181D"/>
<circle cx="125.3" cy="177.2" r="2.2" fill="#CB181D"/>
<circle cx="150.2" cy="176.1" r="2.2" fill="#CB181D"/>
<circle cx="167.3" cy="178.3" r="2.2" fill="#CB181D"/>
<circle cx="123.9" cy="181.8" r="2.2" fill="#CB181D"/>
<circle cx="150.6" cy="180.0" r="2.2" fill="#CB181D"/>
<circle cx="160.7" cy="180.9" r="2.2" fill="#CB181D"/>
<circle cx="169.0" cy="181.8" r="2.2" fill="#CB181D"/>
<circle cx="137.5" cy="183.5" r="2.2" fill="#CB181D"/>
<circle cx="143.6" cy="185.3" r="2.2" fill="#CB181D"/>
<circle cx="148.0" cy="184.4" r="2.2" fill="#CB181D"/>
<circle cx="163.8" cy="186.2" r="2.2" fill="#CB181D"/>
<circle cx="169.9" cy="185.7" r="2.2" fill="#CB181D"/>
<circle cx="150.6" cy="187.9" r="2.2" fill="#CB181D"/>
<circle cx="155.9" cy="187.9" r="2.2" fill="#CB181D"/>
<circle cx="158.5" cy="190.1" r="2.2" fill="#CB181D"/>
<circle cx="149.8" cy="191.0" r="2.2" fill="#CB181D"/>
<circle cx="125.3" cy="193.2" r="2.2" fill="#CB181D"/>
<circle cx="131.4" cy="193.2" r="2.2" fill="#CB181D"/>
<circle cx="133.1" cy="195.8" r="2.2" fill="#CB181D"/>
<circle cx="123.8" cy="202.0" r="2.2" fill="#CB181D"/>
<circle cx="120.2" cy="204.8" r="2.2" fill="#CB181D"/>
<circle cx="134.2" cy="201.5" r="2.2" fill="#CB181D"/>
<circle cx="143.2" cy="199.0" r="2.2" fill="#CB181D"/>
<circle cx="146.7" cy="202.1" r="2.2" fill="#CB181D"/>
<circle cx="148.9" cy="201.2" r="2.2" fill="#CB181D"/>
<circle cx="142.3" cy="206.5" r="2.2" fill="#CB181D"/>
<circle cx="142.3" cy="210.4" r="2.2" fill="#CB181D"/>
<circle cx="148.5" cy="210.8" r="2.2" fill="#CB181D"/>
<circle cx="152.8" cy="208.2" r="2.2" fill="#CB181D"/>
<circle cx="153.3" cy="210.0" r="2.2" fill="#CB181D"/>
<circle cx="158.5" cy="208.2" r="2.2" fill="#CB181D"/>
<circle cx="139.3" cy="185.9" r="2.2" fill="#CB181D"/>
<circle cx="146.3" cy="185.9" r="2.2" fill="#CB181D"/>
<circle cx="149.8" cy="186.8" r="2.2" fill="#CB181D"/>
<circle cx="153.3" cy="188.1" r="2.2" fill="#CB181D"/>
<circle cx="158.5" cy="188.5" r="2.2" fill="#CB181D"/>
<circle cx="162.9" cy="188.5" r="2.2" fill="#CB181D"/>
<circle cx="171.7" cy="186.8" r="2.2" fill="#CB181D"/>
<circle cx="153.3" cy="193.8" r="2.2" fill="#CB181D"/>
<circle cx="154.2" cy="196.4" r="2.2" fill="#CB181D"/>
<circle cx="156.8" cy="197.3" r="2.2" fill="#CB181D"/>
<circle cx="159.0" cy="198.1" r="2.2" fill="#CB181D"/>
<circle cx="162.9" cy="195.9" r="2.2" fill="#CB181D"/>
<circle cx="167.7" cy="195.9" r="2.2" fill="#CB181D"/>
<circle cx="165.5" cy="200.8" r="2.2" fill="#CB181D"/>
<circle cx="165.5" cy="203.4" r="2.2" fill="#CB181D"/>
<circle cx="162.0" cy="205.1" r="2.2" fill="#CB181D"/>
<circle cx="169.0" cy="205.1" r="2.2" fill="#CB181D"/>
<circle cx="171.7" cy="207.8" r="2.2" fill="#CB181D"/>
<circle cx="172.5" cy="210.0" r="2.2" fill="#CB181D"/>
<circle cx="176.0" cy="193.8" r="2.2" fill="#CB181D"/>
<circle cx="179.5" cy="199.0" r="2.2" fill="#CB181D"/>
<circle cx="169.9" cy="218.3" r="2.2" fill="#CB181D"/>
<circle cx="173.9" cy="220.5" r="2.2" fill="#CB181D"/>
<circle cx="174.7" cy="213.9" r="2.2" fill="#CB181D"/>
<circle cx="178.7" cy="218.7" r="2.2" fill="#CB181D"/>
<circle cx="184.6" cy="170.9" r="2.2" fill="#CB181D"/>
<circle cx="198.6" cy="177.0" r="2.2" fill="#CB181D"/>
<circle cx="203.9" cy="175.3" r="2.2" fill="#CB181D"/>
<circle cx="206.5" cy="171.3" r="2.2" fill="#CB181D"/>
<circle cx="210.0" cy="173.5" r="2.2" fill="#CB181D"/>
<circle cx="212.7" cy="171.8" r="2.2" fill="#CB181D"/>
<circle cx="220.5" cy="171.8" r="2.2" fill="#CB181D"/>
<circle cx="224.0" cy="173.5" r="2.2" fill="#CB181D"/>
<circle cx="231.0" cy="171.8" r="2.2" fill="#CB181D"/>
<circle cx="222.3" cy="176.1" r="2.2" fill="#CB181D"/>
<circle cx="225.8" cy="176.1" r="2.2" fill="#CB181D"/>
<circle cx="229.3" cy="177.0" r="2.2" fill="#CB181D"/>
<circle cx="231.9" cy="176.1" r="2.2" fill="#CB181D"/>
<circle cx="180.7" cy="180.9" r="2.2" fill="#CB181D"/>
<circle cx="195.1" cy="178.8" r="2.2" fill="#CB181D"/>
<circle cx="189.9" cy="180.9" r="2.2" fill="#CB181D"/>
<circle cx="188.1" cy="183.1" r="2.2" fill="#CB181D"/>
<circle cx="191.2" cy="184.4" r="2.2" fill="#CB181D"/>
<circle cx="203.9" cy="177.4" r="2.2" fill="#CB181D"/>
<circle cx="202.1" cy="184.4" r="2.2" fill="#CB181D"/>
<circle cx="206.5" cy="181.4" r="2.2" fill="#CB181D"/>
<circle cx="208.3" cy="184.4" r="2.2" fill="#CB181D"/>
<circle cx="211.8" cy="178.8" r="2.2" fill="#CB181D"/>
<circle cx="213.5" cy="181.4" r="2.2" fill="#CB181D"/>
<circle cx="215.3" cy="177.9" r="2.2" fill="#CB181D"/>
<circle cx="217.0" cy="180.9" r="2.2" fill="#CB181D"/>
<circle cx="218.8" cy="180.5" r="2.2" fill="#CB181D"/>
<circle cx="211.8" cy="184.0" r="2.2" fill="#CB181D"/>
<circle cx="224.0" cy="180.5" r="2.2" fill="#CB181D"/>
<circle cx="226.7" cy="181.8" r="2.2" fill="#CB181D"/>
<circle cx="229.3" cy="179.6" r="2.2" fill="#CB181D"/>
<circle cx="231.0" cy="181.4" r="2.2" fill="#CB181D"/>
<circle cx="196.9" cy="185.3" r="2.2" fill="#CB181D"/>
<circle cx="180.7" cy="188.0" r="2.2" fill="#CB181D"/>
<circle cx="216.6" cy="188.4" r="2.2" fill="#CB181D"/>
<circle cx="206.5" cy="189.3" r="2.2" fill="#CB181D"/>
<circle cx="210.0" cy="190.1" r="2.2" fill="#CB181D"/>
<circle cx="208.3" cy="192.8" r="2.2" fill="#CB181D"/>
<circle cx="211.8" cy="190.1" r="2.2" fill="#CB181D"/>
<circle cx="180.7" cy="191.9" r="2.2" fill="#CB181D"/>
<circle cx="216.2" cy="193.6" r="2.2" fill="#CB181D"/>
<circle cx="218.8" cy="194.5" r="2.2" fill="#CB181D"/>
<circle cx="220.5" cy="196.3" r="2.2" fill="#CB181D"/>
<circle cx="221.4" cy="191.0" r="2.2" fill="#CB181D"/>
<circle cx="185.5" cy="195.4" r="2.2" fill="#CB181D"/>
<circle cx="188.6" cy="196.3" r="2.2" fill="#CB181D"/>
<circle cx="195.6" cy="198.0" r="2.2" fill="#CB181D"/>
<circle cx="213.5" cy="198.0" r="2.2" fill="#CB181D"/>
<circle cx="217.0" cy="198.9" r="2.2" fill="#CB181D"/>
<circle cx="219.7" cy="199.8" r="2.2" fill="#CB181D"/>
<circle cx="187.3" cy="200.6" r="2.2" fill="#CB181D"/>
<circle cx="190.3" cy="202.0" r="2.2" fill="#CB181D"/>
<circle cx="201.3" cy="201.5" r="2.2" fill="#CB181D"/>
<circle cx="207.4" cy="200.6" r="2.2" fill="#CB181D"/>
<circle cx="210.0" cy="202.8" r="2.2" fill="#CB181D"/>
<circle cx="182.0" cy="203.3" r="2.2" fill="#CB181D"/>
<circle cx="183.8" cy="207.7" r="2.2" fill="#CB181D"/>
<circle cx="189.4" cy="206.8" r="2.2" fill="#CB181D"/>
<circle cx="197.8" cy="205.9" r="2.2" fill="#CB181D"/>
<circle cx="202.1" cy="206.8" r="2.2" fill="#CB181D"/>
<circle cx="204.8" cy="211.2" r="2.2" fill="#CB181D"/>
<circle cx="193.4" cy="211.2" r="2.2" fill="#CB181D"/>
<circle cx="196.0" cy="212.9" r="2.2" fill="#CB181D"/>
<circle cx="182.4" cy="213.8" r="2.2" fill="#CB181D"/>
<circle cx="189.9" cy="213.8" r="2.2" fill="#CB181D"/>
<circle cx="174.6" cy="140.2" r="2.2" fill="#CB181D"/>
<circle cx="210.4" cy="132.0" r="2.2" fill="#CB181D"/>
<circle cx="212.9" cy="134.1" r="2.2" fill="#CB181D"/>
<circle cx="218.0" cy="134.1" r="2.2" fill="#CB181D"/>
<circle cx="226.7" cy="131.0" r="2.2" fill="#CB181D"/>
<circle cx="208.8" cy="136.6" r="2.2" fill="#CB181D"/>
<circle cx="211.9" cy="137.2" r="2.2" fill="#CB181D"/>
<circle cx="215.0" cy="139.2" r="2.2" fill="#CB181D"/>
<circle cx="218.0" cy="140.2" r="2.2" fill="#CB181D"/>
<circle cx="215.5" cy="145.3" r="2.2" fill="#CB181D"/>
<circle cx="220.6" cy="144.8" r="2.2" fill="#CB181D"/>
<circle cx="223.1" cy="143.3" r="2.2" fill="#CB181D"/>
<circle cx="225.2" cy="146.4" r="2.2" fill="#CB181D"/>
<circle cx="224.2" cy="150.4" r="2.2" fill="#CB181D"/>
<circle cx="226.2" cy="153.5" r="2.2" fill="#CB181D"/>
<circle cx="223.1" cy="155.5" r="2.2" fill="#CB181D"/>
<circle cx="227.2" cy="156.6" r="2.2" fill="#CB181D"/>
<circle cx="229.8" cy="159.6" r="2.2" fill="#CB181D"/>
<circle cx="232.3" cy="160.7" r="2.2" fill="#CB181D"/>
<circle cx="234.4" cy="161.7" r="2.2" fill="#CB181D"/>
<circle cx="231.3" cy="163.2" r="2.2" fill="#CB181D"/>
<circle cx="235.4" cy="167.8" r="2.2" fill="#CB181D"/>
<circle cx="197.1" cy="154.5" r="2.2" fill="#CB181D"/>
<circle cx="188.4" cy="157.1" r="2.2" fill="#CB181D"/>
<circle cx="195.0" cy="161.7" r="2.2" fill="#CB181D"/>
<circle cx="210.9" cy="161.2" r="2.2" fill="#CB181D"/>
<circle cx="216.5" cy="157.4" r="2.2" fill="#CB181D"/>
<circle cx="188.4" cy="167.3" r="2.2" fill="#CB181D"/>
<circle cx="216.5" cy="166.8" r="2.2" fill="#CB181D"/>
<circle cx="217.0" cy="168.8" r="2.2" fill="#CB181D"/>
<circle cx="223.1" cy="169.9" r="2.2" fill="#CB181D"/>
<circle cx="221.1" cy="172.9" r="2.2" fill="#CB181D"/>
<circle cx="225.2" cy="171.9" r="2.2" fill="#CB181D"/>
<circle cx="227.2" cy="175.0" r="2.2" fill="#CB181D"/>
<circle cx="229.3" cy="178.0" r="2.2" fill="#CB181D"/>
<circle cx="232.3" cy="175.0" r="2.2" fill="#CB181D"/>
<circle cx="233.4" cy="178.0" r="2.2" fill="#CB181D"/>
<circle cx="194.7" cy="112.7" r="2.2" fill="#CB181D"/>
<circle cx="208.0" cy="106.9" r="2.2" fill="#CB181D"/>
<circle cx="204.5" cy="113.3" r="2.2" fill="#CB181D"/>
<circle cx="211.1" cy="113.0" r="2.2" fill="#CB181D"/>
<circle cx="200.4" cy="123.7" r="2.2" fill="#CB181D"/>
<circle cx="220.3" cy="106.3" r="2.2" fill="#CB181D"/>
<circle cx="221.3" cy="109.4" r="2.2" fill="#CB181D"/>
<circle cx="219.3" cy="109.9" r="2.2" fill="#CB181D"/>
<circle cx="212.1" cy="122.7" r="2.2" fill="#CB181D"/>
<circle cx="216.7" cy="123.7" r="2.2" fill="#CB181D"/>
<circle cx="218.8" cy="120.7" r="2.2" fill="#CB181D"/>
<circle cx="228.5" cy="119.6" r="2.2" fill="#CB181D"/>
<circle cx="228.5" cy="124.7" r="2.2" fill="#CB181D"/>
<circle cx="212.1" cy="129.3" r="2.2" fill="#CB181D"/>
<circle cx="214.7" cy="129.3" r="2.2" fill="#CB181D"/>
<circle cx="215.2" cy="138.0" r="2.2" fill="#CB181D"/>
<circle cx="168.2" cy="136.5" r="2.2" fill="#CB181D"/>
<circle cx="247.9" cy="30.2" r="2.2" fill="#CB181D"/>
<circle cx="244.8" cy="42.3" r="2.2" fill="#CB181D"/>
<circle cx="248.5" cy="54.1" r="2.2" fill="#CB181D"/>
<circle cx="254.7" cy="54.1" r="2.2" fill="#CB181D"/>
<circle cx="242.0" cy="57.2" r="2.2" fill="#CB181D"/>
<circle cx="248.5" cy="62.2" r="2.2" fill="#CB181D"/>
<circle cx="258.4" cy="65.3" r="2.2" fill="#CB181D"/>
<circle cx="257.8" cy="72.1" r="2.2" fill="#CB181D"/>
<circle cx="267.1" cy="70.3" r="2.2" fill="#CB181D"/>
<circle cx="231.1" cy="65.9" r="2.2" fill="#CB181D"/>
<circle cx="226.8" cy="74.6" r="2.2" fill="#CB181D"/>
<circle cx="244.8" cy="75.8" r="2.2" fill="#CB181D"/>
<circle cx="248.5" cy="75.2" r="2.2" fill="#CB181D"/>
<circle cx="254.1" cy="75.8" r="2.2" fill="#CB181D"/>
<circle cx="276.4" cy="62.8" r="2.2" fill="#CB181D"/>
<circle cx="278.3" cy="65.3" r="2.2" fill="#CB181D"/>
<circle cx="282.0" cy="72.1" r="2.2" fill="#CB181D"/>
<circle cx="278.3" cy="78.9" r="2.2" fill="#CB181D"/>
<circle cx="236.1" cy="84.2" r="2.2" fill="#CB181D"/>
<circle cx="241.0" cy="80.5" r="2.2" fill="#CB181D"/>
<circle cx="242.9" cy="84.9" r="2.2" fill="#CB181D"/>
<circle cx="246.0" cy="83.6" r="2.2" fill="#CB181D"/>
<circle cx="250.3" cy="81.8" r="2.2" fill="#CB181D"/>
<circle cx="252.8" cy="80.5" r="2.2" fill="#CB181D"/>
<circle cx="256.5" cy="83.6" r="2.2" fill="#CB181D"/>
<circle cx="257.8" cy="88.0" r="2.2" fill="#CB181D"/>
<circle cx="264.0" cy="85.5" r="2.2" fill="#CB181D"/>
<circle cx="267.7" cy="86.7" r="2.2" fill="#CB181D"/>
<circle cx="269.6" cy="88.6" r="2.2" fill="#CB181D"/>
<circle cx="272.0" cy="84.9" r="2.2" fill="#CB181D"/>
<circle cx="268.3" cy="91.1" r="2.2" fill="#CB181D"/>
<circle cx="271.4" cy="89.8" r="2.2" fill="#CB181D"/>
<circle cx="252.2" cy="91.1" r="2.2" fill="#CB181D"/>
<circle cx="253.4" cy="94.2" r="2.2" fill="#CB181D"/>
<circle cx="255.9" cy="94.8" r="2.2" fill="#CB181D"/>
<circle cx="252.8" cy="96.6" r="2.2" fill="#CB181D"/>
<circle cx="244.7" cy="103.5" r="2.2" fill="#CB181D"/>
<circle cx="246.0" cy="106.0" r="2.2" fill="#CB181D"/>
<circle cx="221.8" cy="107.2" r="2.2" fill="#CB181D"/>
<circle cx="144.7" cy="145.6" r="2.2" fill="#67000D"/>
<circle cx="141.0" cy="156.2" r="2.2" fill="#67000D"/>
<circle cx="148.9" cy="157.5" r="2.2" fill="#67000D"/>
<circle cx="139.4" cy="162.3" r="2.2" fill="#67000D"/>
<circle cx="154.3" cy="166.0" r="2.2" fill="#67000D"/>
<circle cx="145.4" cy="178.3" r="2.2" fill="#67000D"/>
<circle cx="153.3" cy="177.8" r="2.2" fill="#67000D"/>
<circle cx="155.9" cy="178.7" r="2.2" fill="#67000D"/>
<circle cx="159.4" cy="177.8" r="2.2" fill="#67000D"/>
<circle cx="162.9" cy="179.2" r="2.2" fill="#67000D"/>
<circle cx="145.8" cy="181.3" r="2.2" fill="#67000D"/>
<circle cx="140.6" cy="184.0" r="2.2" fill="#67000D"/>
<circle cx="153.7" cy="183.5" r="2.2" fill="#67000D"/>
<circle cx="176.0" cy="183.5" r="2.2" fill="#67000D"/>
<circle cx="167.3" cy="189.7" r="2.2" fill="#67000D"/>
<circle cx="176.9" cy="191.4" r="2.2" fill="#67000D"/>
<circle cx="169.0" cy="189.8" r="2.2" fill="#67000D"/>
<circle cx="189.0" cy="174.8" r="2.2" fill="#67000D"/>
<circle cx="199.5" cy="173.5" r="2.2" fill="#67000D"/>
<circle cx="227.5" cy="172.2" r="2.2" fill="#67000D"/>
<circle cx="232.8" cy="173.5" r="2.2" fill="#67000D"/>
<circle cx="203.5" cy="181.4" r="2.2" fill="#67000D"/>
<circle cx="223.6" cy="188.0" r="2.2" fill="#67000D"/>
<circle cx="199.5" cy="190.1" r="2.2" fill="#67000D"/>
<circle cx="199.5" cy="193.2" r="2.2" fill="#67000D"/>
<circle cx="200.4" cy="195.8" r="2.2" fill="#67000D"/>
<circle cx="185.5" cy="191.0" r="2.2" fill="#67000D"/>
<circle cx="198.6" cy="196.3" r="2.2" fill="#67000D"/>
<circle cx="214.4" cy="201.5" r="2.2" fill="#67000D"/>
<circle cx="200.0" cy="206.3" r="2.2" fill="#67000D"/>
<circle cx="207.4" cy="205.9" r="2.2" fill="#67000D"/>
<circle cx="210.9" cy="207.7" r="2.2" fill="#67000D"/>
<circle cx="210.4" cy="143.3" r="2.2" fill="#67000D"/>
<circle cx="217.0" cy="143.3" r="2.2" fill="#67000D"/>
<circle cx="188.4" cy="165.3" r="2.2" fill="#67000D"/>
<circle cx="225.2" cy="167.3" r="2.2" fill="#67000D"/>
<circle cx="232.3" cy="171.9" r="2.2" fill="#67000D"/>
<circle cx="250.4" cy="49.8" r="2.2" fill="#67000D"/>
<circle cx="259.1" cy="61.6" r="2.2" fill="#67000D"/>
<circle cx="256.6" cy="63.7" r="2.2" fill="#67000D"/>
<circle cx="251.0" cy="67.2" r="2.2" fill="#67000D"/>
<circle cx="260.9" cy="70.3" r="2.2" fill="#67000D"/>
<circle cx="263.4" cy="74.0" r="2.2" fill="#67000D"/>
<circle cx="250.4" cy="70.9" r="2.2" fill="#67000D"/>
<circle cx="249.7" cy="74.6" r="2.2" fill="#67000D"/>
<circle cx="240.4" cy="70.3" r="2.2" fill="#67000D"/>
<circle cx="274.6" cy="64.0" r="2.2" fill="#67000D"/>
<circle cx="285.1" cy="59.7" r="2.2" fill="#67000D"/>
<circle cx="247.2" cy="86.1" r="2.2" fill="#67000D"/>
<circle cx="252.2" cy="84.9" r="2.2" fill="#67000D"/>
<circle cx="260.3" cy="83.6" r="2.2" fill="#67000D"/>
<circle cx="274.5" cy="88.0" r="2.2" fill="#67000D"/>
<rect x="256.8" y="178.1" width="36.7" height="47.3" fill="#fff" stroke="#9a9a9a" stroke-width="0.9"/>
<clipPath id="ins"><rect x="257.2" y="178.5" width="36" height="46.5"/></clipPath>
<g clip-path="url(#ins)">
<polygon points="257.0,178.0 281.0,178.0 280.4,178.7 277.3,181.1 272.4,183.6 266.3,184.8 261.4,184.2 257.0,181.1" fill="#FED7AA"/>
<circle cx="271.3" cy="182.8" r="1.1" fill="#FB6A4A"/>
<circle cx="257.7" cy="181.0" r="1.0" fill="#CB181D"/>
<circle cx="277.7" cy="178.7" r="1.0" fill="#CB181D"/>
<circle cx="265.8" cy="178.7" r="0.7" fill="#CB181D"/>
<circle cx="262.0" cy="179.8" r="0.8" fill="#CB181D"/>
<circle cx="275.3" cy="178.9" r="0.9" fill="#67000D"/>
<circle cx="279.1" cy="179.1" r="0.8" fill="#CB181D"/>
<circle cx="272.6" cy="179.3" r="0.8" fill="#FB6A4A"/>
<circle cx="279.2" cy="180.5" r="0.8" fill="#CB181D"/>
<circle cx="260.8" cy="178.9" r="0.8" fill="#CB181D"/>
<circle cx="270.7" cy="182.6" r="0.8" fill="#CB181D"/>
<circle cx="275.8" cy="181.1" r="0.8" fill="#CB181D"/>
<circle cx="267.9" cy="179.1" r="1.1" fill="#CB181D"/>
<circle cx="276.4" cy="178.1" r="0.8" fill="#CB181D"/>
<circle cx="270.3" cy="178.1" r="1.0" fill="#CB181D"/>
<circle cx="259.7" cy="179.6" r="0.8" fill="#CB181D"/>
<circle cx="265.2" cy="181.4" r="0.7" fill="#CB181D"/>
<circle cx="276.8" cy="178.2" r="0.8" fill="#CB181D"/>
<circle cx="268.8" cy="180.4" r="0.8" fill="#CB181D"/>
<circle cx="264.2" cy="180.1" r="1.0" fill="#CB181D"/>
<circle cx="271.4" cy="182.7" r="1.1" fill="#CB181D"/>
<circle cx="260.7" cy="178.3" r="0.9" fill="#67000D"/>
<circle cx="266.3" cy="179.5" r="0.8" fill="#67000D"/>
<circle cx="262.8" cy="182.2" r="0.7" fill="#CB181D"/>
<circle cx="278.1" cy="178.2" r="0.8" fill="#CB181D"/>
<circle cx="270.0" cy="178.9" r="0.7" fill="#CB181D"/>
<circle cx="267.0" cy="179.0" r="0.8" fill="#CB181D"/>
<circle cx="267.4" cy="181.2" r="0.8" fill="#FB6A4A"/>
<circle cx="263.3" cy="181.1" r="0.7" fill="#CB181D"/>
<circle cx="275.9" cy="181.5" r="1.0" fill="#CB181D"/>
<circle cx="268.5" cy="180.2" r="0.9" fill="#CB181D"/>
<circle cx="268.8" cy="181.6" r="0.8" fill="#67000D"/>
<circle cx="273.0" cy="182.3" r="0.8" fill="#CB181D"/>
<circle cx="273.2" cy="179.8" r="0.8" fill="#CB181D"/>
<circle cx="279.0" cy="180.2" r="0.9" fill="#CB181D"/>
<circle cx="257.3" cy="181.6" r="0.8" fill="#CB181D"/>
<circle cx="263.3" cy="179.9" r="1.0" fill="#67000D"/>
<circle cx="275.3" cy="180.3" r="0.8" fill="#FB6A4A"/>
<circle cx="278.6" cy="180.7" r="1.0" fill="#CB181D"/>
<circle cx="269.2" cy="179.1" r="1.1" fill="#CB181D"/>
<circle cx="268.0" cy="182.5" r="1.0" fill="#FB6A4A"/>
<circle cx="266.6" cy="182.0" r="0.9" fill="#67000D"/>
<circle cx="278.5" cy="180.0" r="1.0" fill="#67000D"/>
<circle cx="271.6" cy="182.7" r="0.8" fill="#CB181D"/>
<circle cx="270.5" cy="182.1" r="0.8" fill="#CB181D"/>
<circle cx="272.8" cy="182.1" r="1.1" fill="#CB181D"/>
<circle cx="279.5" cy="179.1" r="0.7" fill="#CB181D"/>
<circle cx="269.6" cy="180.7" r="0.9" fill="#CB181D"/>
<circle cx="271.1" cy="181.8" r="1.0" fill="#CB181D"/>
<circle cx="265.6" cy="180.3" r="1.0" fill="#CB181D"/>
<circle cx="269.6" cy="180.0" r="0.9" fill="#CB181D"/>
<circle cx="264.8" cy="181.8" r="1.0" fill="#CB181D"/>
<circle cx="266.6" cy="183.3" r="0.9" fill="#FB6A4A"/>
<circle cx="267.8" cy="179.0" r="0.9" fill="#CB181D"/>
<circle cx="271.0" cy="180.3" r="0.7" fill="#FB6A4A"/>
<circle cx="259.5" cy="181.7" r="0.9" fill="#67000D"/>
<circle cx="264.5" cy="183.7" r="0.9" fill="#67000D"/>
<circle cx="266.9" cy="179.5" r="0.9" fill="#CB181D"/>
<circle cx="273.3" cy="180.5" r="0.9" fill="#CB181D"/>
<circle cx="268.4" cy="180.7" r="1.1" fill="#CB181D"/>
<circle cx="260.3" cy="178.2" r="0.9" fill="#FB6A4A"/>
<circle cx="267.2" cy="179.9" r="1.0" fill="#CB181D"/>
<circle cx="257.3" cy="181.5" r="0.8" fill="#CB181D"/>
<circle cx="267.9" cy="178.2" r="0.8" fill="#CB181D"/>
<circle cx="263.7" cy="182.0" r="0.9" fill="#CB181D"/>
<circle cx="277.6" cy="178.1" r="0.8" fill="#CB181D"/>
<line x1="266.3" y1="184.8" x2="266.9" y2="187.3" stroke="#555" stroke-width="0.6"/>
<circle cx="266" cy="189.7" r="1.9" fill="#7A6CB8" stroke="#555" stroke-width="0.3"/>
<circle cx="266" cy="189.4" r="0.8" fill="#CB181D"/>
<polygon points="284.5,178.5 285.6,178.5 286.0,181.0 285.6,183.0 284.9,182.5 284.3,180.5" fill="#FED7AA" stroke="#888" stroke-width="0.3"/>
<ellipse cx="285.9" cy="184.8" rx="0.78" ry="0.54" transform="rotate(-50 285.9 184.8)" fill="#222"/>
<ellipse cx="282.8" cy="191" rx="0.78" ry="0.54" transform="rotate(-50 282.8 191)" fill="#222"/>
<ellipse cx="277.3" cy="186" rx="0.52" ry="0.36" transform="rotate(-50 277.3 186)" fill="#888"/>
<ellipse cx="272.4" cy="189.1" rx="0.52" ry="0.36" transform="rotate(-50 272.4 189.1)" fill="#999"/>
<ellipse cx="265.6" cy="196.5" rx="0.78" ry="0.54" transform="rotate(-50 265.6 196.5)" fill="#333"/>
<ellipse cx="270" cy="195.2" rx="0.78" ry="0.54" transform="rotate(-50 270 195.2)" fill="#444"/>
<ellipse cx="273.6" cy="196.5" rx="0.78" ry="0.54" transform="rotate(-50 273.6 196.5)" fill="#444"/>
<ellipse cx="281.6" cy="197.1" rx="0.65" ry="0.45" transform="rotate(-50 281.6 197.1)" fill="#777"/>
<ellipse cx="281.2" cy="206" rx="0.78" ry="0.54" transform="rotate(-50 281.2 206)" fill="#222"/>
<ellipse cx="267.3" cy="205.5" rx="0.65" ry="0.45" transform="rotate(-50 267.3 205.5)" fill="#333"/>
<ellipse cx="273.6" cy="206.4" rx="0.52" ry="0.36" transform="rotate(-50 273.6 206.4)" fill="#555"/>
<ellipse cx="275.5" cy="207.5" rx="0.52" ry="0.36" transform="rotate(-50 275.5 207.5)" fill="#555"/>
<ellipse cx="277.5" cy="208.6" rx="0.52" ry="0.36" transform="rotate(-50 277.5 208.6)" fill="#555"/>
<ellipse cx="276" cy="209.3" rx="0.52" ry="0.36" transform="rotate(-50 276 209.3)" fill="#666"/>
<ellipse cx="263.5" cy="216" rx="0.78" ry="0.54" transform="rotate(-50 263.5 216)" fill="#222"/>
<ellipse cx="270.7" cy="218" rx="0.65" ry="0.45" transform="rotate(-50 270.7 218)" fill="#555"/>
<ellipse cx="270.7" cy="222.3" rx="0.78" ry="0.54" transform="rotate(-50 270.7 222.3)" fill="#222"/>
<ellipse cx="276.4" cy="213.6" rx="0.52" ry="0.36" transform="rotate(-50 276.4 213.6)" fill="#666"/>
<ellipse cx="272.5" cy="211" rx="0.52" ry="0.36" transform="rotate(-50 272.5 211)" fill="#777"/>
<ellipse cx="274.5" cy="203" rx="0.52" ry="0.36" transform="rotate(-50 274.5 203)" fill="#888"/>
</g>
<text x="315.2" y="79.3" font-size="13.8" fill="#1a1a1a">Climate zones</text>
<rect x="316" y="85.1" width="17.9" height="18.6" fill="#BA7100"/>
<text x="338.3" y="98.2" font-size="12.35" fill="#1a1a1a">Arid</text>
<rect x="316" y="104.4" width="17.9" height="18.6" fill="#FFBDD7"/>
<text x="338.3" y="117.5" font-size="12.35" fill="#1a1a1a">Continental</text>
<rect x="316" y="123.7" width="17.9" height="18.6" fill="#E0E0EE"/>
<text x="338.3" y="136.8" font-size="12.35" fill="#1a1a1a">Highland</text>
<rect x="316" y="143.0" width="17.9" height="18.6" fill="#FED7AA"/>
<text x="338.3" y="156.1" font-size="12.35" fill="#1a1a1a">Temperate</text>
<rect x="316" y="162.3" width="17.9" height="18.6" fill="#7A6CB8"/>
<text x="338.3" y="175.4" font-size="12.35" fill="#1a1a1a">Tropical</text>
<text x="16.3" y="278.8" font-size="13.75" fill="#1a1a1a">T<tspan font-size="9.5" dy="2.7">w</tspan><tspan dy="-2.7"> trends (°C per decade)</tspan></text>
<circle cx="193.3" cy="267.9" r="2.7" fill="#08183F"/>
<text x="203.0" y="271.29999999999995" font-size="12.4" fill="#1a1a1a">[-1,0.6)</text>
<circle cx="193.3" cy="283.5" r="2.7" fill="#2166AC"/>
<text x="203.0" y="286.9" font-size="12.4" fill="#1a1a1a">[-0.6,-0.3)</text>
<circle cx="266" cy="267.9" r="2.7" fill="#6BAED6"/>
<text x="275.7" y="271.29999999999995" font-size="12.4" fill="#1a1a1a">[-0.3,0)</text>
<circle cx="266" cy="283.5" r="2.7" fill="#FB6A4A"/>
<text x="275.7" y="286.9" font-size="12.4" fill="#1a1a1a">[0,0.3)</text>
<circle cx="322.8" cy="267.9" r="2.7" fill="#CB181D"/>
<text x="332.5" y="271.29999999999995" font-size="12.4" fill="#1a1a1a">[0.3,0.6)</text>
<circle cx="322.8" cy="283.5" r="2.7" fill="#67000D"/>
<text x="332.5" y="286.9" font-size="12.4" fill="#1a1a1a">[0.6,1]</text>
</svg></body></html>
